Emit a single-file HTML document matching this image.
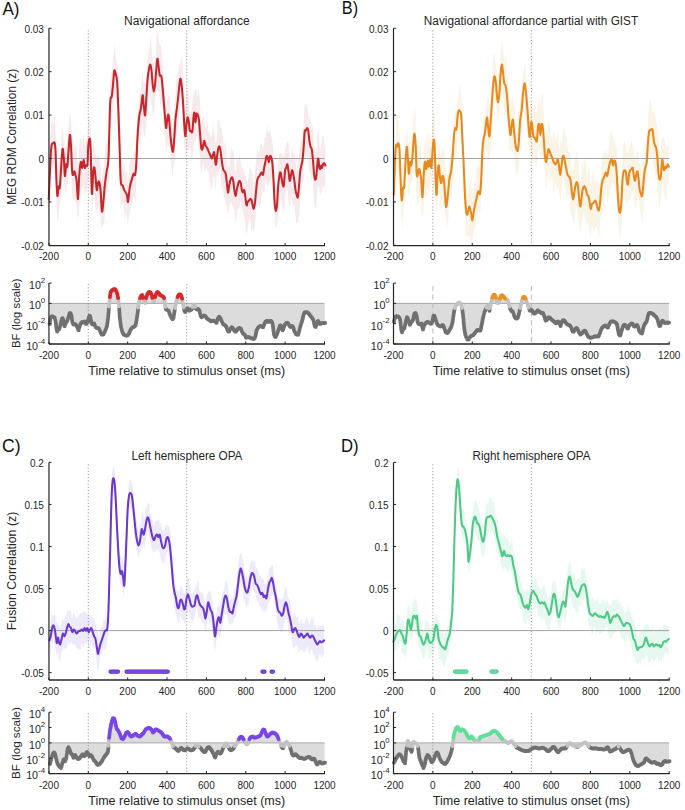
<!DOCTYPE html><html><head><meta charset="utf-8"><style>html,body{margin:0;padding:0;background:#fff;}svg{display:block;}</style></head><body><svg width="685" height="810" viewBox="0 0 685 810" font-family="Liberation Sans, sans-serif">
<rect width="685" height="810" fill="#ffffff"/>
<path d="M48.7,180.4 L49.9,142.9 L51.1,126.5 L52.3,117.0 L53.5,124.6 L54.7,113.5 L55.9,134.0 L57.1,167.3 L58.3,168.0 L59.5,156.2 L60.7,156.8 L61.9,125.8 L63.1,132.8 L64.3,148.3 L65.5,147.0 L66.7,144.6 L67.9,138.2 L69.1,122.3 L70.3,109.0 L71.5,129.6 L72.7,140.1 L73.9,154.3 L75.1,145.2 L76.3,147.2 L77.5,161.9 L78.7,164.0 L79.9,138.9 L81.1,138.0 L82.3,150.0 L83.5,130.8 L84.7,147.2 L85.9,137.5 L87.1,141.6 L88.3,121.4 L89.5,114.5 L90.7,125.6 L91.9,175.4 L93.1,141.4 L94.3,145.0 L95.5,152.3 L96.7,159.9 L97.9,152.7 L99.1,156.8 L100.3,162.5 L101.5,183.1 L102.7,174.0 L103.9,166.1 L105.1,151.8 L106.3,144.0 L107.5,139.0 L108.7,133.6 L109.9,86.0 L111.1,74.3 L112.3,68.7 L113.5,53.8 L114.7,44.6 L115.9,57.4 L117.1,61.8 L118.3,77.7 L119.5,114.3 L120.7,159.0 L121.9,155.9 L123.1,169.6 L124.3,161.2 L125.5,173.6 L126.7,172.0 L127.9,181.4 L129.1,173.2 L130.3,157.0 L131.5,158.4 L132.7,159.1 L133.9,150.2 L135.1,156.0 L136.3,138.2 L137.5,110.9 L138.7,104.9 L139.9,93.9 L141.1,87.3 L142.3,69.6 L143.5,82.8 L144.7,82.2 L145.9,83.6 L147.1,63.4 L148.3,51.7 L149.5,49.2 L150.7,34.0 L151.9,53.3 L153.1,65.1 L154.3,60.0 L155.5,57.8 L156.7,34.4 L157.9,31.8 L159.1,44.1 L160.3,44.7 L161.5,49.4 L162.7,65.9 L163.9,83.0 L165.1,93.6 L166.3,107.6 L167.5,96.8 L168.7,94.9 L169.9,97.0 L171.1,121.2 L172.3,116.3 L173.5,124.5 L174.7,103.8 L175.9,84.1 L177.1,75.2 L178.3,71.1 L179.5,63.4 L180.7,61.1 L181.9,56.9 L183.1,74.7 L184.3,93.9 L185.5,111.6 L186.7,92.2 L187.9,86.2 L189.1,105.5 L190.3,112.0 L191.5,113.0 L192.7,97.4 L193.9,93.0 L195.1,89.8 L196.3,89.5 L197.5,96.5 L198.7,87.7 L199.9,100.0 L201.1,124.8 L202.3,118.7 L203.5,115.9 L204.7,123.5 L205.9,128.5 L207.1,115.0 L208.3,131.9 L209.5,132.6 L210.7,137.4 L211.9,135.3 L213.1,122.8 L214.3,132.4 L215.5,143.8 L216.7,141.7 L217.9,118.3 L219.1,120.7 L220.3,128.3 L221.5,126.9 L222.7,134.1 L223.9,149.9 L225.1,139.9 L226.3,150.6 L227.5,167.0 L228.7,166.6 L229.9,164.3 L231.1,146.1 L232.3,150.6 L233.5,151.1 L234.7,169.9 L235.9,172.2 L237.1,157.2 L238.3,161.0 L239.5,154.6 L240.7,162.2 L241.9,169.3 L243.1,166.6 L244.3,172.4 L245.5,176.2 L246.7,180.1 L247.9,182.3 L249.1,170.7 L250.3,167.0 L251.5,171.1 L252.7,175.1 L253.9,189.0 L255.1,169.3 L256.3,157.7 L257.5,148.1 L258.7,154.8 L259.9,145.4 L261.1,142.8 L262.3,145.5 L263.5,147.9 L264.7,136.8 L265.9,138.1 L267.1,124.3 L268.3,134.0 L269.5,128.2 L270.7,133.5 L271.9,139.7 L273.1,146.7 L274.3,169.6 L275.5,186.2 L276.7,187.4 L277.9,160.7 L279.1,155.2 L280.3,152.7 L281.5,152.3 L282.7,157.0 L283.9,156.4 L285.1,150.2 L286.3,142.8 L287.5,141.7 L288.7,141.4 L289.9,158.5 L291.1,157.1 L292.3,145.8 L293.5,156.0 L294.7,152.3 L295.9,163.5 L297.1,172.7 L298.3,164.3 L299.5,149.5 L300.7,136.7 L301.9,143.2 L303.1,133.0 L304.3,108.3 L305.5,102.8 L306.7,106.1 L307.9,110.1 L309.1,120.7 L310.3,115.5 L311.5,127.3 L312.7,125.4 L313.9,142.2 L315.1,151.9 L316.3,151.9 L317.5,130.9 L318.7,132.1 L319.9,148.7 L321.1,146.6 L322.3,134.6 L323.5,137.2 L324.7,145.3 L325.3,144.5 L325.3,194.5 L324.7,186.0 L323.5,187.4 L322.3,185.8 L321.1,197.1 L319.9,190.5 L318.7,185.9 L317.5,186.6 L316.3,207.8 L315.1,207.6 L313.9,202.1 L312.7,177.0 L311.5,180.2 L310.3,172.5 L309.1,171.0 L307.9,158.4 L306.7,153.9 L305.5,159.2 L304.3,155.2 L303.1,179.6 L301.9,184.1 L300.7,195.2 L299.5,211.6 L298.3,219.6 L297.1,223.8 L295.9,222.2 L294.7,205.4 L293.5,204.8 L292.3,202.1 L291.1,193.0 L289.9,207.2 L288.7,204.6 L287.5,191.3 L286.3,188.0 L285.1,196.0 L283.9,213.1 L282.7,208.4 L281.5,202.8 L280.3,190.5 L279.1,205.4 L277.9,214.3 L276.7,227.6 L275.5,228.1 L274.3,213.8 L273.1,197.7 L271.9,178.2 L270.7,179.2 L269.5,183.0 L268.3,185.4 L267.1,186.6 L265.9,177.2 L264.7,192.9 L263.5,191.4 L262.3,193.4 L261.1,202.2 L259.9,206.7 L258.7,208.3 L257.5,197.2 L256.3,208.3 L255.1,222.7 L253.9,233.0 L252.7,227.4 L251.5,233.2 L250.3,218.9 L249.1,218.7 L247.9,226.7 L246.7,235.8 L245.5,227.6 L244.3,217.8 L243.1,210.5 L241.9,208.3 L240.7,200.4 L239.5,207.4 L238.3,209.1 L237.1,210.4 L235.9,224.8 L234.7,214.0 L233.5,206.4 L232.3,205.4 L231.1,203.0 L229.9,204.1 L228.7,209.5 L227.5,213.9 L226.3,206.2 L225.1,198.2 L223.9,197.2 L222.7,185.4 L221.5,191.0 L220.3,168.3 L219.1,171.4 L217.9,172.8 L216.7,176.5 L215.5,189.9 L214.3,178.1 L213.1,176.0 L211.9,190.8 L210.7,187.6 L209.5,182.3 L208.3,170.5 L207.1,171.6 L205.9,167.0 L204.7,173.5 L203.5,162.1 L202.3,166.2 L201.1,175.8 L199.9,156.1 L198.7,145.0 L197.5,136.1 L196.3,136.2 L195.1,142.4 L193.9,142.3 L192.7,157.3 L191.5,162.1 L190.3,148.3 L189.1,150.5 L187.9,149.7 L186.7,149.7 L185.5,155.7 L184.3,147.2 L183.1,130.4 L181.9,108.9 L180.7,99.1 L179.5,112.8 L178.3,128.6 L177.1,134.3 L175.9,138.6 L174.7,161.9 L173.5,167.3 L172.3,178.6 L171.1,163.6 L169.9,145.7 L168.7,148.1 L167.5,143.6 L166.3,153.9 L165.1,137.6 L163.9,131.1 L162.7,111.5 L161.5,102.8 L160.3,108.2 L159.1,90.0 L157.9,94.3 L156.7,83.1 L155.5,96.0 L154.3,112.6 L153.1,119.1 L151.9,106.0 L150.7,97.5 L149.5,88.9 L148.3,101.0 L147.1,112.9 L145.9,131.5 L144.7,137.2 L143.5,135.9 L142.3,123.1 L141.1,135.1 L139.9,141.8 L138.7,139.5 L137.5,167.7 L136.3,183.7 L135.1,206.2 L133.9,193.9 L132.7,199.7 L131.5,205.1 L130.3,209.6 L129.1,214.2 L127.9,226.4 L126.7,212.6 L125.5,219.4 L124.3,211.2 L123.1,204.1 L121.9,202.0 L120.7,210.5 L119.5,174.1 L118.3,138.3 L117.1,108.0 L115.9,95.5 L114.7,95.7 L113.5,106.4 L112.3,113.9 L111.1,124.1 L109.9,132.3 L108.7,182.4 L107.5,188.8 L106.3,199.3 L105.1,211.8 L103.9,225.7 L102.7,223.4 L101.5,230.2 L100.3,213.0 L99.1,214.2 L97.9,204.2 L96.7,214.8 L95.5,210.0 L94.3,188.0 L93.1,200.6 L91.9,221.4 L90.7,168.0 L89.5,163.1 L88.3,176.0 L87.1,188.6 L85.9,193.5 L84.7,192.7 L83.5,184.2 L82.3,188.4 L81.1,189.5 L79.9,200.6 L78.7,212.2 L77.5,220.0 L76.3,202.9 L75.1,202.1 L73.9,195.5 L72.7,203.8 L71.5,176.8 L70.3,165.3 L69.1,161.3 L67.9,183.0 L66.7,186.0 L65.5,195.9 L64.3,186.3 L63.1,177.0 L61.9,180.9 L60.7,199.8 L59.5,205.1 L58.3,220.8 L57.1,220.0 L55.9,180.2 L54.7,167.8 L53.5,160.6 L52.3,174.1 L51.1,175.6 L49.9,193.2 L48.7,230.1Z" fill="#f7eaec" stroke="none"/>
<line x1="48.95" y1="158.50" x2="324.50" y2="158.50" stroke="#9a9a9a" stroke-width="0.9"/>
<line x1="88.31" y1="30.30" x2="88.31" y2="245.60" stroke="#7a7a7a" stroke-width="0.8" stroke-dasharray="1.1 2.1"/>
<line x1="186.73" y1="30.30" x2="186.73" y2="245.60" stroke="#7a7a7a" stroke-width="0.8" stroke-dasharray="1.1 2.1"/>
<path d="M48.70,199.53 C48.98,193.27 49.88,170.99 50.35,161.99 C50.82,153.00 51.05,148.70 51.52,145.57 C51.99,142.44 52.65,143.70 53.16,143.23 C53.67,142.76 54.18,141.58 54.57,142.76 C54.96,143.93 55.19,143.93 55.51,150.26 C55.82,156.60 56.13,173.14 56.45,180.76 C56.76,188.39 57.03,195.03 57.38,196.01 C57.74,196.99 58.17,188.00 58.56,186.63 C58.95,185.26 59.34,190.34 59.73,187.80 C60.12,185.26 60.43,177.83 60.90,171.38 C61.37,164.93 62.04,151.05 62.55,149.09 C63.05,147.14 63.56,155.15 63.95,159.65 C64.34,164.14 64.50,175.29 64.89,176.07 C65.28,176.85 65.91,165.90 66.30,164.34 C66.69,162.78 66.89,168.64 67.24,166.69 C67.59,164.73 67.98,157.89 68.41,152.61 C68.84,147.33 69.39,136.19 69.82,135.01 C70.25,133.84 70.60,139.51 70.99,145.57 C71.38,151.63 71.77,166.49 72.16,171.38 C72.56,176.27 72.95,174.90 73.34,174.90 C73.73,174.90 74.12,171.18 74.51,171.38 C74.90,171.57 75.33,174.51 75.68,176.07 C76.04,177.63 76.23,176.93 76.62,180.76 C77.01,184.59 77.60,199.84 78.03,199.06 C78.46,198.28 78.73,182.25 79.20,176.07 C79.67,169.89 80.34,163.36 80.84,161.99 C81.35,160.63 81.78,168.25 82.25,167.86 C82.72,167.47 83.23,159.65 83.66,159.65 C84.09,159.65 84.44,166.88 84.83,167.86 C85.22,168.84 85.58,166.10 86.01,165.51 C86.44,164.93 87.02,167.66 87.41,164.34 C87.80,161.02 87.96,149.87 88.35,145.57 C88.74,141.27 89.37,137.75 89.76,138.53 C90.15,139.32 90.35,141.08 90.70,150.26 C91.05,159.45 91.44,190.15 91.87,193.67 C92.30,197.18 92.85,175.68 93.28,171.38 C93.71,167.08 94.06,166.69 94.45,167.86 C94.84,169.03 95.23,174.70 95.62,178.42 C96.02,182.13 96.41,189.36 96.80,190.15 C97.19,190.93 97.58,184.48 97.97,183.11 C98.36,181.74 98.71,180.76 99.14,181.94 C99.57,183.11 100.08,185.26 100.55,190.15 C101.02,195.03 101.49,209.31 101.96,211.26 C102.43,213.22 102.90,206.18 103.37,201.88 C103.84,197.58 104.23,190.54 104.77,185.45 C105.32,180.37 106.03,176.07 106.65,171.38 C107.28,166.69 107.94,168.64 108.53,157.30 C109.11,145.96 109.62,113.51 110.17,103.34 C110.72,93.18 111.30,99.82 111.81,96.30 C112.32,92.79 112.79,86.53 113.22,82.23 C113.65,77.93 113.92,71.67 114.39,70.50 C114.86,69.33 115.57,73.24 116.04,75.19 C116.50,77.15 116.82,76.36 117.21,82.23 C117.60,88.09 117.99,99.82 118.38,110.38 C118.77,120.94 119.16,133.84 119.55,145.57 C119.95,157.30 120.22,174.12 120.73,180.76 C121.24,187.41 122.02,183.89 122.60,185.45 C123.19,187.02 123.53,188.58 124.25,190.15 C124.96,191.71 126.24,192.88 126.88,194.84 C127.51,196.79 127.58,203.05 128.05,201.88 C128.52,200.70 129.03,191.71 129.69,187.80 C130.36,183.89 131.37,180.76 132.04,178.42 C132.70,176.07 133.17,174.31 133.68,173.72 C134.19,173.14 134.66,176.46 135.09,174.90 C135.52,173.33 135.87,170.40 136.26,164.34 C136.65,158.28 136.96,146.35 137.43,138.53 C137.90,130.71 138.49,122.50 139.08,117.42 C139.66,112.34 140.37,111.75 140.95,108.04 C141.54,104.32 142.13,95.52 142.60,95.13 C143.06,94.74 143.34,102.37 143.77,105.69 C144.20,109.01 144.71,117.03 145.18,115.07 C145.65,113.12 146.15,100.22 146.58,93.96 C147.01,87.70 147.33,81.84 147.76,77.54 C148.19,73.24 148.73,70.30 149.16,68.15 C149.59,66.00 149.95,64.24 150.34,64.63 C150.73,65.02 151.12,67.17 151.51,70.50 C151.90,73.82 152.29,81.06 152.68,84.57 C153.07,88.09 153.47,91.61 153.86,91.61 C154.25,91.61 154.64,88.09 155.03,84.57 C155.42,81.06 155.81,74.80 156.20,70.50 C156.59,66.20 156.98,59.55 157.38,58.77 C157.77,57.99 158.16,63.07 158.55,65.81 C158.94,68.54 159.25,73.43 159.72,75.19 C160.19,76.95 160.89,74.41 161.36,76.36 C161.83,78.32 162.15,82.82 162.54,86.92 C162.93,91.03 163.32,96.30 163.71,101.00 C164.10,105.69 164.49,110.58 164.88,115.07 C165.27,119.57 165.66,127.19 166.06,127.98 C166.45,128.76 166.84,121.99 167.23,119.77 C167.62,117.54 168.01,113.82 168.40,114.60 C168.79,115.39 169.18,120.47 169.57,124.46 C169.97,128.45 170.36,134.62 170.75,138.53 C171.14,142.44 171.53,145.77 171.92,147.92 C172.31,150.07 172.70,153.00 173.09,151.44 C173.48,149.87 173.88,143.81 174.27,138.53 C174.66,133.26 175.05,124.46 175.44,119.77 C175.83,115.07 176.18,113.90 176.61,110.38 C177.04,106.86 177.55,102.95 178.02,98.65 C178.49,94.35 179.00,87.90 179.43,84.57 C179.86,81.25 180.21,78.32 180.60,78.71 C180.99,79.10 181.38,83.21 181.77,86.92 C182.17,90.64 182.56,95.13 182.95,101.00 C183.34,106.86 183.73,116.25 184.12,122.11 C184.51,127.98 184.90,135.80 185.29,136.19 C185.68,136.58 186.08,127.59 186.47,124.46 C186.86,121.33 187.25,117.81 187.64,117.42 C188.03,117.03 188.46,119.96 188.81,122.11 C189.16,124.26 189.40,128.84 189.75,130.32 C190.10,131.81 190.49,130.83 190.92,131.03 C191.35,131.22 191.90,133.76 192.33,131.50 C192.76,129.23 193.15,120.55 193.50,117.42 C193.86,114.29 194.13,111.95 194.44,112.73 C194.76,113.51 195.03,121.92 195.38,122.11 C195.73,122.31 196.16,115.07 196.55,113.90 C196.95,112.73 197.34,114.10 197.73,115.07 C198.12,116.05 198.51,116.64 198.90,119.77 C199.29,122.89 199.68,129.15 200.07,133.84 C200.46,138.53 200.86,145.38 201.25,147.92 C201.64,150.46 202.03,149.87 202.42,149.09 C202.81,148.31 203.27,144.59 203.59,143.23 C203.91,141.86 204.02,140.49 204.35,140.88 C204.67,141.27 205.05,144.40 205.52,145.57 C205.99,146.74 206.65,146.94 207.16,147.92 C207.67,148.90 208.06,150.26 208.57,151.44 C209.08,152.61 209.66,153.78 210.21,154.96 C210.76,156.13 211.35,158.67 211.85,158.48 C212.36,158.28 212.87,154.76 213.26,153.78 C213.65,152.81 213.85,151.24 214.20,152.61 C214.55,153.98 215.06,160.04 215.37,161.99 C215.69,163.95 215.76,165.51 216.08,164.34 C216.39,163.17 216.86,157.69 217.25,154.96 C217.64,152.22 218.03,149.29 218.42,147.92 C218.81,146.55 219.20,145.96 219.60,146.74 C219.99,147.53 220.38,150.07 220.77,152.61 C221.16,155.15 221.55,159.26 221.94,161.99 C222.33,164.73 222.68,167.47 223.11,169.03 C223.54,170.60 224.09,170.60 224.52,171.38 C224.95,172.16 225.30,171.77 225.70,173.72 C226.09,175.68 226.48,179.98 226.87,183.11 C227.26,186.24 227.65,192.10 228.04,192.49 C228.43,192.88 228.78,187.61 229.21,185.45 C229.64,183.30 230.15,180.96 230.62,179.59 C231.09,178.22 231.60,177.05 232.03,177.24 C232.46,177.44 232.81,178.61 233.20,180.76 C233.59,182.91 233.98,187.61 234.38,190.15 C234.77,192.69 235.16,196.01 235.55,196.01 C235.94,196.01 236.25,192.30 236.72,190.15 C237.19,188.00 237.89,184.67 238.36,183.11 C238.83,181.54 239.15,180.76 239.54,180.76 C239.93,180.76 240.32,181.54 240.71,183.11 C241.10,184.67 241.49,188.58 241.88,190.15 C242.27,191.71 242.66,192.49 243.06,192.49 C243.45,192.49 243.84,189.36 244.23,190.15 C244.62,190.93 245.01,194.64 245.40,197.18 C245.79,199.73 246.18,204.61 246.57,205.40 C246.97,206.18 247.36,202.66 247.75,201.88 C248.14,201.09 248.53,201.17 248.92,200.70 C249.31,200.23 249.70,199.26 250.09,199.06 C250.48,198.87 250.88,198.67 251.27,199.53 C251.66,200.39 252.05,202.66 252.44,204.22 C252.83,205.79 253.22,208.91 253.61,208.91 C254.00,208.91 254.39,206.96 254.79,204.22 C255.18,201.49 255.57,196.40 255.96,192.49 C256.35,188.58 256.74,183.30 257.13,180.76 C257.52,178.22 257.91,178.03 258.30,177.24 C258.70,176.46 259.09,176.66 259.48,176.07 C259.87,175.48 260.26,174.31 260.65,173.72 C261.04,173.14 261.43,172.36 261.82,172.55 C262.22,172.75 262.61,175.68 263.00,174.90 C263.39,174.12 263.78,170.01 264.17,167.86 C264.56,165.71 264.95,163.95 265.34,161.99 C265.73,160.04 266.13,156.91 266.52,156.13 C266.91,155.35 267.30,156.32 267.69,157.30 C268.08,158.28 268.47,162.19 268.86,161.99 C269.25,161.80 269.64,156.91 270.04,156.13 C270.43,155.35 270.82,156.13 271.21,157.30 C271.60,158.48 271.99,159.26 272.38,163.17 C272.77,167.08 273.16,173.92 273.55,180.76 C273.95,187.61 274.34,199.14 274.73,204.22 C275.12,209.31 275.51,211.26 275.90,211.26 C276.29,211.26 276.68,208.52 277.07,204.22 C277.46,199.92 277.86,190.15 278.25,185.45 C278.64,180.76 279.03,178.22 279.42,176.07 C279.81,173.92 280.05,171.18 280.59,172.55 C281.13,173.92 282.11,182.13 282.65,184.28 C283.18,186.43 283.43,187.61 283.82,185.45 C284.21,183.30 284.60,174.31 284.99,171.38 C285.38,168.45 285.77,169.03 286.16,167.86 C286.56,166.69 286.95,163.75 287.34,164.34 C287.73,164.93 288.12,168.64 288.51,171.38 C288.90,174.12 289.29,179.98 289.68,180.76 C290.07,181.54 290.47,177.83 290.86,176.07 C291.25,174.31 291.64,170.60 292.03,170.21 C292.42,169.81 292.81,171.96 293.20,173.72 C293.59,175.48 293.98,178.03 294.38,180.76 C294.77,183.50 295.16,187.80 295.55,190.15 C295.94,192.49 296.33,193.67 296.72,194.84 C297.11,196.01 297.50,198.75 297.89,197.18 C298.29,195.62 298.68,189.76 299.07,185.45 C299.46,181.15 299.85,174.70 300.24,171.38 C300.63,168.05 301.02,167.47 301.41,165.51 C301.80,163.56 302.20,162.97 302.59,159.65 C302.98,156.32 303.41,150.26 303.76,145.57 C304.11,140.88 304.35,134.04 304.70,131.50 C305.05,128.95 305.48,130.91 305.87,130.32 C306.26,129.74 306.65,127.98 307.04,127.98 C307.43,127.98 307.83,128.17 308.22,130.32 C308.61,132.47 309.00,138.14 309.39,140.88 C309.78,143.62 310.17,145.38 310.56,146.74 C310.95,148.11 311.35,146.94 311.74,149.09 C312.13,151.24 312.52,155.54 312.91,159.65 C313.30,163.75 313.73,170.40 314.08,173.72 C314.43,177.05 314.67,179.00 315.02,179.59 C315.37,180.18 315.80,179.78 316.19,177.24 C316.58,174.70 317.01,167.47 317.37,164.34 C317.72,161.21 317.99,158.08 318.30,158.48 C318.62,158.87 318.93,164.93 319.24,166.69 C319.56,168.45 319.87,169.23 320.18,169.03 C320.49,168.84 320.81,165.71 321.12,165.51 C321.43,165.32 321.75,168.05 322.06,167.86 C322.37,167.66 322.65,165.12 323.00,164.34 C323.35,163.56 323.78,162.97 324.17,163.17 C324.56,163.36 325.15,165.12 325.34,165.51" fill="none" stroke="#c8262c" stroke-width="2.05" stroke-linejoin="round" stroke-linecap="round"/>
<path d="M393.9,162.5 L395.1,142.3 L396.3,115.5 L397.5,118.1 L398.7,118.6 L399.9,134.1 L401.1,166.4 L402.3,168.6 L403.5,155.2 L404.7,153.4 L405.9,140.5 L407.1,125.6 L408.3,141.4 L409.5,142.5 L410.7,143.1 L411.9,138.8 L413.1,122.8 L414.3,107.9 L415.5,112.1 L416.7,145.0 L417.9,145.3 L419.1,146.7 L420.3,141.0 L421.5,153.8 L422.7,169.6 L423.9,148.8 L425.1,138.1 L426.3,146.2 L427.5,130.5 L428.7,139.8 L429.9,131.8 L431.1,145.3 L432.3,126.7 L433.5,110.7 L434.7,116.2 L435.9,152.1 L437.1,159.7 L438.3,141.3 L439.5,149.6 L440.7,155.6 L441.9,152.5 L443.1,147.2 L444.3,153.5 L445.5,170.9 L446.7,176.3 L447.9,173.8 L449.1,163.7 L450.3,144.3 L451.5,147.4 L452.7,131.4 L453.9,120.5 L455.1,109.6 L456.3,110.6 L457.5,100.2 L458.7,93.8 L459.9,81.4 L461.1,94.7 L462.3,113.3 L463.5,127.6 L464.7,171.4 L465.9,181.7 L467.1,196.0 L468.3,193.6 L469.5,177.5 L470.7,180.2 L471.9,187.0 L473.1,191.7 L474.3,181.5 L475.5,184.6 L476.7,166.8 L477.9,166.0 L479.1,166.4 L480.3,158.9 L481.5,146.5 L482.7,130.5 L483.9,118.2 L485.1,113.9 L486.3,104.0 L487.5,95.8 L488.7,99.5 L489.9,110.6 L491.1,94.2 L492.3,69.9 L493.5,54.9 L494.7,53.8 L495.9,66.0 L497.1,73.3 L498.3,72.7 L499.5,72.9 L500.7,53.1 L501.9,39.5 L503.1,50.9 L504.3,63.0 L505.5,53.0 L506.7,69.4 L507.9,81.3 L509.1,99.1 L510.3,112.9 L511.5,97.2 L512.7,95.5 L513.9,102.4 L515.1,108.5 L516.3,130.9 L517.5,131.3 L518.7,111.6 L519.9,107.8 L521.1,90.4 L522.3,82.3 L523.5,72.4 L524.7,61.7 L525.9,73.8 L527.1,85.2 L528.3,98.8 L529.5,105.7 L530.7,109.8 L531.9,106.4 L533.1,106.3 L534.3,109.0 L535.5,111.7 L536.7,112.1 L537.9,106.0 L539.1,94.9 L540.3,108.7 L541.5,92.9 L542.7,94.8 L543.9,118.9 L545.1,132.5 L546.3,138.0 L547.5,123.0 L548.7,119.2 L549.9,129.7 L551.1,136.0 L552.3,139.9 L553.5,130.0 L554.7,136.1 L555.9,142.0 L557.1,133.6 L558.3,137.9 L559.5,150.7 L560.7,139.7 L561.9,144.5 L563.1,128.4 L564.3,127.4 L565.5,136.4 L566.7,137.7 L567.9,148.7 L569.1,152.6 L570.3,153.3 L571.5,168.1 L572.7,172.0 L573.9,166.8 L575.1,159.7 L576.3,150.7 L577.5,155.4 L578.7,164.6 L579.9,183.5 L581.1,177.8 L582.3,159.6 L583.5,170.1 L584.7,158.2 L585.9,162.2 L587.1,177.0 L588.3,167.2 L589.5,169.9 L590.7,189.9 L591.9,175.1 L593.1,174.2 L594.3,181.8 L595.5,181.6 L596.7,180.5 L597.9,182.9 L599.1,189.0 L600.3,182.0 L601.5,162.0 L602.7,152.8 L603.9,153.0 L605.1,152.0 L606.3,148.3 L607.5,156.3 L608.7,148.8 L609.9,133.7 L611.1,132.6 L612.3,130.9 L613.5,144.1 L614.7,136.9 L615.9,148.8 L617.1,148.3 L618.3,174.6 L619.5,186.6 L620.7,186.3 L621.9,166.9 L623.1,143.9 L624.3,141.2 L625.5,144.0 L626.7,152.2 L627.9,153.5 L629.1,147.4 L630.3,144.9 L631.5,139.3 L632.7,145.9 L633.9,151.8 L635.1,159.1 L636.3,155.9 L637.5,148.9 L638.7,157.6 L639.9,166.3 L641.1,170.0 L642.3,162.8 L643.5,158.8 L644.7,139.4 L645.9,146.9 L647.1,136.9 L648.3,116.8 L649.5,101.4 L650.7,100.0 L651.9,106.2 L653.1,111.9 L654.3,111.0 L655.5,118.5 L656.7,123.3 L657.9,134.2 L659.1,147.6 L660.3,156.1 L661.5,140.3 L662.7,138.1 L663.9,136.7 L665.1,142.9 L666.3,147.7 L667.5,145.8 L668.7,143.8 L668.8,135.0 L668.8,197.8 L668.7,189.2 L667.5,182.3 L666.3,200.0 L665.1,198.8 L663.9,191.7 L662.7,181.2 L661.5,190.9 L660.3,204.7 L659.1,209.3 L657.9,197.1 L656.7,181.2 L655.5,178.8 L654.3,167.8 L653.1,165.4 L651.9,159.8 L650.7,157.1 L649.5,151.9 L648.3,162.5 L647.1,184.8 L645.9,186.3 L644.7,193.5 L643.5,210.1 L642.3,225.9 L641.1,215.7 L639.9,210.3 L638.7,197.9 L637.5,194.8 L636.3,204.8 L635.1,212.8 L633.9,196.9 L632.7,188.6 L631.5,196.1 L630.3,201.0 L629.1,197.8 L627.9,202.4 L626.7,202.9 L625.5,201.1 L624.3,193.2 L623.1,193.7 L621.9,217.2 L620.7,235.6 L619.5,241.6 L618.3,223.3 L617.1,203.6 L615.9,191.9 L614.7,183.0 L613.5,186.9 L612.3,180.9 L611.1,190.0 L609.9,186.7 L608.7,197.5 L607.5,203.6 L606.3,190.8 L605.1,195.7 L603.9,205.5 L602.7,209.4 L601.5,217.2 L600.3,217.2 L599.1,241.7 L597.9,233.5 L596.7,225.5 L595.5,227.6 L594.3,231.7 L593.1,229.4 L591.9,224.6 L590.7,238.5 L589.5,232.5 L588.3,222.6 L587.1,226.3 L585.9,219.7 L584.7,217.8 L583.5,211.8 L582.3,219.4 L581.1,228.9 L579.9,231.0 L578.7,224.4 L577.5,211.9 L576.3,205.4 L575.1,212.5 L573.9,227.2 L572.7,220.2 L571.5,213.1 L570.3,210.9 L569.1,194.2 L567.9,194.2 L566.7,200.2 L565.5,188.1 L564.3,183.0 L563.1,177.9 L561.9,188.3 L560.7,201.0 L559.5,195.1 L558.3,187.3 L557.1,189.2 L555.9,184.4 L554.7,182.5 L553.5,194.2 L552.3,176.4 L551.1,179.0 L549.9,185.4 L548.7,167.8 L547.5,181.0 L546.3,189.7 L545.1,178.5 L543.9,161.3 L542.7,157.1 L541.5,155.0 L540.3,158.7 L539.1,146.0 L537.9,153.0 L536.7,165.7 L535.5,168.7 L534.3,154.5 L533.1,165.9 L531.9,155.3 L530.7,147.7 L529.5,158.1 L528.3,146.4 L527.1,131.4 L525.9,121.1 L524.7,116.6 L523.5,112.1 L522.3,129.1 L521.1,138.7 L519.9,149.2 L518.7,169.8 L517.5,171.8 L516.3,176.2 L515.1,164.2 L513.9,150.8 L512.7,152.5 L511.5,149.9 L510.3,151.3 L509.1,148.2 L507.9,125.5 L506.7,118.6 L505.5,114.1 L504.3,114.9 L503.1,100.1 L501.9,89.3 L500.7,94.3 L499.5,111.4 L498.3,122.2 L497.1,115.6 L495.9,100.6 L494.7,102.9 L493.5,104.4 L492.3,126.7 L491.1,141.7 L489.9,155.4 L488.7,164.3 L487.5,153.7 L486.3,149.7 L485.1,151.0 L483.9,155.4 L482.7,173.8 L481.5,197.0 L480.3,212.4 L479.1,210.9 L477.9,215.6 L476.7,216.9 L475.5,227.4 L474.3,231.1 L473.1,236.9 L471.9,246.1 L470.7,240.7 L469.5,235.6 L468.3,235.3 L467.1,237.2 L465.9,237.4 L464.7,211.4 L463.5,179.9 L462.3,154.1 L461.1,142.7 L459.9,130.9 L458.7,132.2 L457.5,146.3 L456.3,161.2 L455.1,157.1 L453.9,160.8 L452.7,183.6 L451.5,198.9 L450.3,195.9 L449.1,207.8 L447.9,225.4 L446.7,225.1 L445.5,217.8 L444.3,205.1 L443.1,206.0 L441.9,197.7 L440.7,212.7 L439.5,192.0 L438.3,195.1 L437.1,210.1 L435.9,212.7 L434.7,169.7 L433.5,163.5 L432.3,174.6 L431.1,188.1 L429.9,185.2 L428.7,197.6 L427.5,186.3 L426.3,200.0 L425.1,193.5 L423.9,205.4 L422.7,219.5 L421.5,211.3 L420.3,193.0 L419.1,202.0 L417.9,204.2 L416.7,205.3 L415.5,173.1 L414.3,155.6 L413.1,181.0 L411.9,180.2 L410.7,181.2 L409.5,193.8 L408.3,195.8 L407.1,172.1 L405.9,175.5 L404.7,198.8 L403.5,213.1 L402.3,230.1 L401.1,213.6 L399.9,180.0 L398.7,172.0 L397.5,167.7 L396.3,174.6 L395.1,178.5 L393.9,227.0Z" fill="#faf4e6" stroke="none"/>
<line x1="393.50" y1="158.50" x2="669.20" y2="158.50" stroke="#9a9a9a" stroke-width="0.9"/>
<line x1="432.89" y1="30.30" x2="432.89" y2="245.60" stroke="#7a7a7a" stroke-width="0.8" stroke-dasharray="1.1 2.1"/>
<line x1="531.35" y1="30.30" x2="531.35" y2="245.60" stroke="#7a7a7a" stroke-width="0.8" stroke-dasharray="1.1 2.1"/>
<path d="M393.88,194.84 C394.03,189.76 394.46,172.55 394.82,164.34 C395.17,156.13 395.60,148.50 395.99,145.57 C396.38,142.64 396.77,147.14 397.16,146.74 C397.55,146.35 397.94,142.64 398.33,143.23 C398.73,143.81 399.16,144.79 399.51,150.26 C399.86,155.74 400.13,168.25 400.45,176.07 C400.76,183.89 401.11,193.27 401.38,197.18 C401.66,201.09 401.81,201.09 402.09,199.53 C402.36,197.97 402.67,189.95 403.03,187.80 C403.38,185.65 403.81,190.54 404.20,186.63 C404.59,182.72 404.94,170.99 405.37,164.34 C405.80,157.69 406.35,147.53 406.78,146.74 C407.21,145.96 407.60,155.15 407.95,159.65 C408.30,164.14 408.54,173.33 408.89,173.72 C409.24,174.12 409.67,163.36 410.06,161.99 C410.46,160.63 410.85,166.30 411.24,165.51 C411.63,164.73 412.02,161.41 412.41,157.30 C412.80,153.20 413.23,144.79 413.58,140.88 C413.94,136.97 414.17,133.06 414.52,133.84 C414.87,134.62 415.34,138.92 415.70,145.57 C416.05,152.22 416.28,168.84 416.63,173.72 C416.99,178.61 417.42,175.68 417.81,174.90 C418.20,174.12 418.59,169.42 418.98,169.03 C419.37,168.64 419.76,170.60 420.15,172.55 C420.54,174.51 420.93,176.66 421.33,180.76 C421.72,184.87 422.11,197.97 422.50,197.18 C422.89,196.40 423.28,181.94 423.67,176.07 C424.06,170.21 424.41,163.17 424.84,161.99 C425.27,160.82 425.78,169.23 426.25,169.03 C426.72,168.84 427.23,161.21 427.66,160.82 C428.09,160.43 428.44,166.88 428.83,166.69 C429.22,166.49 429.58,159.45 430.01,159.65 C430.44,159.84 430.98,169.42 431.41,167.86 C431.84,166.30 432.20,154.96 432.59,150.26 C432.98,145.57 433.41,140.10 433.76,139.71 C434.11,139.32 434.39,141.08 434.70,147.92 C435.01,154.76 435.32,172.94 435.64,180.76 C435.95,188.58 436.22,196.40 436.57,194.84 C436.93,193.27 437.36,176.27 437.75,171.38 C438.14,166.49 438.53,164.34 438.92,165.51 C439.31,166.69 439.70,175.48 440.09,178.42 C440.48,181.35 440.88,183.50 441.27,183.11 C441.66,182.72 442.05,176.85 442.44,176.07 C442.83,175.29 443.22,176.07 443.61,178.42 C444.00,180.76 444.39,185.45 444.79,190.15 C445.18,194.84 445.57,204.61 445.96,206.57 C446.35,208.52 446.74,204.61 447.13,201.88 C447.52,199.14 447.91,194.06 448.30,190.15 C448.70,186.24 449.01,181.54 449.48,178.42 C449.95,175.29 450.61,174.90 451.12,171.38 C451.63,167.86 452.02,163.56 452.53,157.30 C453.04,151.05 453.70,138.73 454.17,133.84 C454.64,128.95 454.95,128.76 455.34,127.98 C455.73,127.19 456.13,131.30 456.52,129.15 C456.91,127.00 457.30,118.20 457.69,115.07 C458.08,111.95 458.47,110.97 458.86,110.38 C459.25,109.79 459.64,110.77 460.04,111.55 C460.43,112.34 460.82,110.58 461.21,115.07 C461.60,119.57 461.99,130.71 462.38,138.53 C462.77,146.35 463.16,153.39 463.55,161.99 C463.95,170.60 464.34,182.33 464.73,190.15 C465.12,197.97 465.51,204.81 465.90,208.91 C466.29,213.02 466.68,214.39 467.07,214.78 C467.46,215.17 467.86,212.63 468.25,211.26 C468.64,209.89 468.93,206.18 469.42,206.57 C469.91,206.96 470.69,211.26 471.17,213.61 C471.66,215.95 471.96,220.65 472.35,220.65 C472.74,220.65 473.13,215.95 473.52,213.61 C473.91,211.26 474.22,208.91 474.69,206.57 C475.16,204.22 475.83,201.88 476.33,199.53 C476.84,197.18 477.31,193.86 477.74,192.49 C478.17,191.12 478.52,191.12 478.91,191.32 C479.31,191.52 479.70,195.82 480.09,193.67 C480.48,191.52 480.87,185.65 481.26,178.42 C481.65,171.18 482.04,156.91 482.43,150.26 C482.83,143.62 483.22,141.27 483.61,138.53 C484.00,135.80 484.39,136.19 484.78,133.84 C485.17,131.50 485.56,127.19 485.95,124.46 C486.34,121.72 486.74,116.64 487.13,117.42 C487.52,118.20 487.91,126.02 488.30,129.15 C488.69,132.28 489.08,137.36 489.47,136.19 C489.86,135.01 490.25,127.59 490.65,122.11 C491.04,116.64 491.43,109.21 491.82,103.34 C492.21,97.48 492.56,91.42 492.99,86.92 C493.42,82.42 493.93,77.15 494.40,76.36 C494.87,75.58 495.38,78.91 495.81,82.23 C496.24,85.55 496.59,92.98 496.98,96.30 C497.37,99.63 497.76,102.56 498.15,102.17 C498.54,101.78 498.93,98.46 499.33,93.96 C499.72,89.46 500.07,80.08 500.50,75.19 C500.93,70.30 501.48,65.02 501.91,64.63 C502.34,64.24 502.69,69.72 503.08,72.84 C503.47,75.97 503.82,81.25 504.25,83.40 C504.68,85.55 505.19,83.60 505.66,85.75 C506.13,87.90 506.64,91.81 507.07,96.30 C507.50,100.80 507.85,107.64 508.24,112.73 C508.63,117.81 509.02,123.09 509.41,126.80 C509.80,130.52 510.20,135.41 510.59,135.01 C510.98,134.62 511.37,127.00 511.76,124.46 C512.15,121.92 512.54,118.59 512.93,119.77 C513.32,120.94 513.71,127.59 514.11,131.50 C514.50,135.41 514.89,140.29 515.28,143.23 C515.67,146.16 516.02,147.92 516.45,149.09 C516.88,150.26 517.43,152.02 517.86,150.26 C518.29,148.50 518.64,143.62 519.03,138.53 C519.42,133.45 519.78,124.46 520.21,119.77 C520.64,115.07 521.14,114.68 521.61,110.38 C522.08,106.08 522.55,98.46 523.02,93.96 C523.49,89.46 524.00,84.18 524.43,83.40 C524.86,82.62 525.21,86.33 525.60,89.27 C525.99,92.20 526.38,96.30 526.77,101.00 C527.17,105.69 527.56,111.95 527.95,117.42 C528.34,122.89 528.77,130.71 529.12,133.84 C529.47,136.97 529.71,138.14 530.06,136.19 C530.41,134.23 530.84,123.68 531.23,122.11 C531.62,120.55 532.05,124.46 532.40,126.80 C532.76,129.15 532.99,134.43 533.34,136.19 C533.70,137.95 534.13,136.77 534.52,137.36 C534.91,137.95 535.30,139.12 535.69,139.71 C536.08,140.29 536.47,143.03 536.86,140.88 C537.25,138.73 537.64,129.54 538.04,126.80 C538.43,124.07 538.82,123.09 539.21,124.46 C539.60,125.83 539.99,135.01 540.38,135.01 C540.77,135.01 541.16,125.83 541.55,124.46 C541.95,123.09 542.34,124.07 542.73,126.80 C543.12,129.54 543.51,135.80 543.90,140.88 C544.29,145.96 544.68,153.78 545.07,157.30 C545.46,160.82 545.86,162.39 546.25,161.99 C546.64,161.60 547.03,157.11 547.42,154.96 C547.81,152.81 548.02,149.09 548.59,149.09 C549.17,149.09 550.29,153.59 550.87,154.96 C551.44,156.32 551.65,156.32 552.04,157.30 C552.43,158.28 552.82,159.84 553.21,160.82 C553.60,161.80 553.99,162.58 554.38,163.17 C554.78,163.75 555.17,164.54 555.56,164.34 C555.95,164.14 556.34,162.78 556.73,161.99 C557.12,161.21 557.51,158.87 557.90,159.65 C558.29,160.43 558.69,164.14 559.08,166.69 C559.47,169.23 559.86,174.90 560.25,174.90 C560.64,174.90 561.03,169.62 561.42,166.69 C561.81,163.75 562.20,159.06 562.60,157.30 C562.99,155.54 563.38,155.35 563.77,156.13 C564.16,156.91 564.55,160.04 564.94,161.99 C565.33,163.95 565.72,165.90 566.11,167.86 C566.51,169.81 566.90,172.36 567.29,173.72 C567.68,175.09 568.07,175.48 568.46,176.07 C568.85,176.66 569.24,176.27 569.63,177.24 C570.02,178.22 570.42,179.39 570.81,181.94 C571.20,184.48 571.59,189.56 571.98,192.49 C572.37,195.43 572.76,199.53 573.15,199.53 C573.54,199.53 573.93,194.84 574.33,192.49 C574.72,190.15 575.11,187.21 575.50,185.45 C575.89,183.70 576.28,181.94 576.67,181.94 C577.06,181.94 577.45,182.91 577.84,185.45 C578.24,188.00 578.63,193.67 579.02,197.18 C579.41,200.70 579.80,206.18 580.19,206.57 C580.58,206.96 580.97,202.27 581.36,199.53 C581.75,196.79 582.15,192.30 582.54,190.15 C582.93,188.00 583.32,187.21 583.71,186.63 C584.10,186.04 584.49,186.04 584.88,186.63 C585.27,187.21 585.66,188.78 586.06,190.15 C586.45,191.52 586.84,193.86 587.23,194.84 C587.62,195.82 588.01,194.84 588.40,196.01 C588.79,197.18 589.18,199.73 589.57,201.88 C589.97,204.03 590.36,208.52 590.75,208.91 C591.14,209.31 591.53,205.20 591.92,204.22 C592.31,203.25 592.70,203.44 593.09,203.05 C593.48,202.66 593.88,202.27 594.27,201.88 C594.66,201.49 595.05,200.31 595.44,200.70 C595.83,201.09 596.22,202.85 596.61,204.22 C597.00,205.59 597.39,207.94 597.79,208.91 C598.18,209.89 598.57,211.26 598.96,210.09 C599.35,208.91 599.74,205.59 600.13,201.88 C600.52,198.16 600.91,191.32 601.30,187.80 C601.70,184.28 602.09,182.33 602.48,180.76 C602.87,179.20 603.26,179.39 603.65,178.42 C604.04,177.44 604.43,175.87 604.82,174.90 C605.22,173.92 605.61,172.36 606.00,172.55 C606.39,172.75 606.78,176.46 607.17,176.07 C607.56,175.68 607.95,172.16 608.34,170.21 C608.73,168.25 609.13,165.90 609.52,164.34 C609.91,162.78 610.30,161.60 610.69,160.82 C611.08,160.04 611.47,158.87 611.86,159.65 C612.25,160.43 612.64,165.32 613.04,165.51 C613.43,165.71 613.82,161.41 614.21,160.82 C614.60,160.23 614.99,160.23 615.38,161.99 C615.77,163.75 616.16,166.30 616.55,171.38 C616.95,176.46 617.34,186.24 617.73,192.49 C618.12,198.75 618.51,205.59 618.90,208.91 C619.29,212.24 619.68,213.22 620.07,212.43 C620.46,211.65 620.86,209.50 621.25,204.22 C621.64,198.94 622.03,186.24 622.42,180.76 C622.81,175.29 623.05,172.94 623.59,171.38 C624.13,169.81 625.11,169.81 625.65,171.38 C626.18,172.94 626.43,178.61 626.82,180.76 C627.21,182.91 627.60,185.45 627.99,184.28 C628.38,183.11 628.77,176.07 629.16,173.72 C629.56,171.38 629.95,170.99 630.34,170.21 C630.73,169.42 631.12,169.42 631.51,169.03 C631.90,168.64 632.29,166.69 632.68,167.86 C633.07,169.03 633.47,173.92 633.86,176.07 C634.25,178.22 634.64,180.96 635.03,180.76 C635.42,180.57 635.81,176.46 636.20,174.90 C636.59,173.33 636.98,170.79 637.38,171.38 C637.77,171.96 638.16,175.29 638.55,178.42 C638.94,181.54 639.33,187.61 639.72,190.15 C640.11,192.69 640.50,192.69 640.89,193.67 C641.29,194.64 641.68,197.38 642.07,196.01 C642.46,194.64 642.85,189.36 643.24,185.45 C643.63,181.54 644.02,175.68 644.41,172.55 C644.80,169.42 645.20,168.45 645.59,166.69 C645.98,164.93 646.37,165.90 646.76,161.99 C647.15,158.08 647.54,148.31 647.93,143.23 C648.32,138.14 648.71,133.65 649.11,131.50 C649.50,129.35 649.89,130.71 650.28,130.32 C650.67,129.93 651.06,129.15 651.45,129.15 C651.84,129.15 652.23,128.37 652.62,130.32 C653.02,132.28 653.41,138.34 653.80,140.88 C654.19,143.42 654.58,144.40 654.97,145.57 C655.36,146.74 655.75,145.96 656.14,147.92 C656.53,149.87 656.93,153.00 657.32,157.30 C657.71,161.60 658.10,170.01 658.49,173.72 C658.88,177.44 659.27,179.20 659.66,179.59 C660.05,179.98 660.48,178.61 660.84,176.07 C661.19,173.53 661.50,167.08 661.77,164.34 C662.05,161.60 662.20,159.06 662.48,159.65 C662.75,160.23 663.10,166.10 663.42,167.86 C663.73,169.62 664.04,170.40 664.35,170.21 C664.67,170.01 664.94,167.08 665.29,166.69 C665.65,166.30 666.08,168.25 666.47,167.86 C666.86,167.47 667.25,164.54 667.64,164.34 C668.03,164.14 668.62,166.30 668.81,166.69" fill="none" stroke="#e8891e" stroke-width="2.05" stroke-linejoin="round" stroke-linecap="round"/>
<path d="M49.4,627.4 L50.6,622.8 L51.8,614.0 L53.0,615.3 L54.2,614.5 L55.4,614.6 L56.6,623.4 L57.8,622.9 L59.0,625.8 L60.2,629.1 L61.4,623.4 L62.6,617.9 L63.8,621.8 L65.0,617.0 L66.2,614.7 L67.4,610.3 L68.6,610.3 L69.8,612.3 L71.0,610.0 L72.2,619.4 L73.4,611.6 L74.6,614.3 L75.8,617.1 L77.0,619.3 L78.2,616.2 L79.4,614.4 L80.6,613.0 L81.8,613.3 L83.0,612.7 L84.2,610.8 L85.4,612.9 L86.6,612.0 L87.8,616.2 L89.0,613.8 L90.2,617.7 L91.4,613.9 L92.6,618.3 L93.8,617.3 L95.0,622.1 L96.2,626.4 L97.4,632.5 L98.6,636.4 L99.8,633.3 L101.0,626.8 L102.2,626.4 L103.4,619.5 L104.6,620.7 L105.8,616.8 L107.0,611.4 L108.2,603.1 L109.4,563.3 L110.6,519.0 L111.8,476.9 L113.0,466.0 L114.2,468.4 L115.4,475.2 L116.6,502.0 L117.8,527.0 L119.0,549.3 L120.2,555.2 L121.4,556.5 L122.6,557.9 L123.8,564.0 L125.0,561.5 L126.2,529.4 L127.4,504.3 L128.6,484.6 L129.8,480.2 L131.0,480.0 L132.2,484.9 L133.4,491.1 L134.6,504.8 L135.8,518.8 L137.0,522.4 L138.2,531.7 L139.4,526.4 L140.6,523.3 L141.8,512.6 L143.0,514.8 L144.2,518.7 L145.4,509.1 L146.6,508.1 L147.8,502.7 L149.0,502.7 L150.2,513.6 L151.4,514.7 L152.6,519.7 L153.8,527.4 L155.0,520.6 L156.2,521.6 L157.4,520.9 L158.6,518.5 L159.8,523.8 L161.0,522.8 L162.2,531.2 L163.4,529.3 L164.6,529.6 L165.8,526.0 L167.0,524.9 L168.2,525.4 L169.4,526.9 L170.6,534.7 L171.8,548.3 L173.0,562.6 L174.2,571.9 L175.4,584.7 L176.6,589.4 L177.8,590.6 L179.0,592.2 L180.2,585.0 L181.4,586.7 L182.6,588.3 L183.8,593.9 L185.0,592.8 L186.2,588.8 L187.4,577.5 L188.6,578.6 L189.8,584.2 L191.0,593.0 L192.2,593.3 L193.4,592.0 L194.6,588.0 L195.8,587.3 L197.0,584.0 L198.2,579.8 L199.4,591.1 L200.6,592.0 L201.8,592.9 L203.0,592.5 L204.2,599.2 L205.4,606.3 L206.6,596.3 L207.8,593.4 L209.0,590.8 L210.2,591.2 L211.4,594.1 L212.6,601.2 L213.8,609.7 L215.0,621.7 L216.2,614.1 L217.4,606.3 L218.6,606.6 L219.8,606.0 L221.0,600.5 L222.2,593.6 L223.4,591.5 L224.6,586.0 L225.8,579.3 L227.0,581.8 L228.2,589.0 L229.4,598.6 L230.6,600.8 L231.8,595.2 L233.0,599.4 L234.2,587.4 L235.4,589.4 L236.6,583.8 L237.8,570.0 L239.0,558.2 L240.2,553.2 L241.4,553.4 L242.6,558.4 L243.8,564.5 L245.0,576.6 L246.2,576.0 L247.4,579.3 L248.6,575.4 L249.8,564.8 L251.0,562.2 L252.2,559.8 L253.4,562.8 L254.6,559.4 L255.8,566.6 L257.0,568.2 L258.2,570.8 L259.4,575.7 L260.6,575.1 L261.8,581.7 L263.0,576.3 L264.2,582.0 L265.4,583.6 L266.6,585.0 L267.8,576.9 L269.0,567.8 L270.2,568.0 L271.4,564.7 L272.6,565.1 L273.8,573.9 L275.0,578.3 L276.2,586.6 L277.4,593.1 L278.6,598.6 L279.8,597.7 L281.0,599.5 L282.2,597.7 L283.4,597.4 L284.6,588.5 L285.8,585.9 L287.0,590.9 L288.2,598.2 L289.4,599.9 L290.6,603.8 L291.8,615.2 L293.0,619.1 L294.2,611.5 L295.4,615.1 L296.6,617.0 L297.8,617.1 L299.0,624.4 L300.2,621.8 L301.4,618.5 L302.6,624.7 L303.8,622.9 L305.0,623.5 L306.2,616.3 L307.4,618.4 L308.6,622.3 L309.8,625.2 L311.0,618.4 L312.2,617.4 L313.4,619.8 L314.6,626.0 L315.8,625.6 L317.0,631.1 L318.2,624.6 L319.4,626.5 L320.6,626.8 L321.8,625.2 L323.0,625.8 L324.1,624.2 L324.1,656.4 L323.0,653.8 L321.8,658.4 L320.6,655.6 L319.4,653.7 L318.2,659.7 L317.0,661.2 L315.8,659.2 L314.6,655.8 L313.4,654.0 L312.2,649.9 L311.0,648.5 L309.8,655.2 L308.6,651.8 L307.4,645.7 L306.2,649.1 L305.0,651.9 L303.8,652.3 L302.6,649.4 L301.4,650.5 L300.2,649.0 L299.0,653.8 L297.8,645.6 L296.6,644.9 L295.4,646.1 L294.2,647.6 L293.0,648.3 L291.8,640.7 L290.6,634.6 L289.4,634.9 L288.2,627.8 L287.0,618.4 L285.8,621.4 L284.6,620.6 L283.4,629.1 L282.2,630.7 L281.0,631.9 L279.8,628.3 L278.6,629.7 L277.4,623.8 L276.2,612.8 L275.0,607.2 L273.8,597.8 L272.6,593.9 L271.4,596.8 L270.2,598.0 L269.0,603.0 L267.8,603.3 L266.6,613.3 L265.4,609.3 L264.2,613.3 L263.0,609.8 L261.8,610.5 L260.6,605.5 L259.4,606.8 L258.2,602.3 L257.0,601.8 L255.8,595.8 L254.6,592.5 L253.4,589.5 L252.2,588.0 L251.0,590.3 L249.8,596.0 L248.6,604.3 L247.4,604.7 L246.2,609.2 L245.0,601.7 L243.8,600.0 L242.6,587.0 L241.4,585.6 L240.2,581.9 L239.0,592.5 L237.8,604.1 L236.6,613.6 L235.4,618.3 L234.2,617.8 L233.0,622.9 L231.8,623.8 L230.6,624.0 L229.4,626.1 L228.2,621.4 L227.0,615.5 L225.8,613.7 L224.6,615.5 L223.4,619.3 L222.2,629.1 L221.0,633.0 L219.8,638.4 L218.6,632.5 L217.4,638.2 L216.2,641.8 L215.0,652.6 L213.8,641.3 L212.6,629.7 L211.4,627.5 L210.2,622.5 L209.0,620.7 L207.8,617.5 L206.6,627.0 L205.4,633.7 L204.2,625.4 L203.0,622.1 L201.8,622.9 L200.6,619.0 L199.4,617.8 L198.2,616.4 L197.0,607.6 L195.8,610.7 L194.6,616.2 L193.4,621.2 L192.2,621.7 L191.0,617.6 L189.8,618.1 L188.6,607.2 L187.4,613.4 L186.2,618.5 L185.0,625.6 L183.8,620.3 L182.6,620.4 L181.4,617.6 L180.2,614.6 L179.0,625.0 L177.8,622.1 L176.6,615.1 L175.4,612.8 L174.2,605.7 L173.0,599.1 L171.8,583.1 L170.6,563.5 L169.4,555.9 L168.2,549.8 L167.0,551.9 L165.8,557.5 L164.6,564.3 L163.4,560.5 L162.2,564.3 L161.0,559.7 L159.8,553.3 L158.6,549.1 L157.4,549.6 L156.2,549.8 L155.0,551.2 L153.8,552.8 L152.6,550.9 L151.4,548.3 L150.2,539.3 L149.0,537.8 L147.8,530.4 L146.6,532.9 L145.4,541.8 L144.2,548.6 L143.0,545.0 L141.8,544.8 L140.6,550.5 L139.4,554.8 L138.2,558.7 L137.0,552.8 L135.8,545.1 L134.6,537.2 L133.4,519.5 L132.2,512.3 L131.0,509.7 L129.8,507.7 L128.6,513.9 L127.4,532.0 L126.2,564.5 L125.0,584.1 L123.8,597.6 L122.6,588.1 L121.4,587.3 L120.2,582.8 L119.0,576.4 L117.8,557.0 L116.6,528.5 L115.4,509.2 L114.2,494.8 L113.0,497.2 L111.8,510.5 L110.6,550.5 L109.4,595.3 L108.2,633.0 L107.0,643.6 L105.8,649.0 L104.6,649.9 L103.4,647.6 L102.2,653.2 L101.0,653.8 L99.8,658.4 L98.6,670.4 L97.4,669.4 L96.2,656.8 L95.0,649.3 L93.8,646.6 L92.6,648.8 L91.4,640.4 L90.2,646.8 L89.0,650.6 L87.8,640.9 L86.6,645.3 L85.4,642.3 L84.2,644.6 L83.0,649.3 L81.8,641.9 L80.6,649.8 L79.4,649.3 L78.2,650.1 L77.0,648.8 L75.8,646.2 L74.6,643.7 L73.4,644.8 L72.2,644.2 L71.0,639.8 L69.8,645.3 L68.6,641.9 L67.4,645.4 L66.2,649.5 L65.0,649.7 L63.8,646.5 L62.6,650.7 L61.4,651.3 L60.2,661.2 L59.0,659.9 L57.8,651.2 L56.6,655.9 L55.4,648.3 L54.2,640.5 L53.0,644.1 L51.8,641.5 L50.6,652.6 L49.4,655.7Z" fill="#edeafa" stroke="none"/>
<line x1="48.95" y1="630.60" x2="324.50" y2="630.60" stroke="#9a9a9a" stroke-width="0.9"/>
<line x1="88.31" y1="464.40" x2="88.31" y2="680.00" stroke="#7a7a7a" stroke-width="0.8" stroke-dasharray="1.1 2.1"/>
<line x1="186.73" y1="464.40" x2="186.73" y2="680.00" stroke="#7a7a7a" stroke-width="0.8" stroke-dasharray="1.1 2.1"/>
<path d="M49.36,640.34 C49.58,639.66 50.26,638.31 50.71,636.27 C51.16,634.24 51.62,629.94 52.07,628.14 C52.52,626.33 52.97,625.20 53.42,625.42 C53.88,625.65 54.33,627.23 54.78,629.49 C55.23,631.75 55.77,636.72 56.14,638.98 C56.50,641.24 56.63,643.28 56.95,643.05 C57.27,642.82 57.72,637.85 58.03,637.63 C58.35,637.40 58.49,640.56 58.85,641.69 C59.21,642.82 59.75,644.86 60.20,644.41 C60.66,643.95 61.11,640.79 61.56,638.98 C62.01,637.18 62.46,634.01 62.92,633.56 C63.37,633.11 63.82,636.27 64.27,636.27 C64.72,636.27 65.18,634.92 65.63,633.56 C66.08,632.20 66.53,629.72 66.98,628.14 C67.44,626.55 67.89,624.29 68.34,624.07 C68.79,623.84 69.24,626.10 69.69,626.78 C70.15,627.46 70.60,627.23 71.05,628.14 C71.50,629.04 71.95,631.98 72.41,632.20 C72.86,632.43 73.31,629.72 73.76,629.49 C74.21,629.27 74.67,630.17 75.12,630.85 C75.57,631.53 76.02,633.33 76.47,633.56 C76.93,633.79 77.38,632.66 77.83,632.20 C78.28,631.75 78.73,631.07 79.19,630.85 C79.64,630.62 80.09,631.07 80.54,630.85 C80.99,630.62 81.45,629.49 81.90,629.49 C82.35,629.49 82.80,631.07 83.25,630.85 C83.71,630.62 84.16,628.14 84.61,628.14 C85.06,628.14 85.51,630.85 85.97,630.85 C86.42,630.85 86.87,627.91 87.32,628.14 C87.77,628.36 88.23,631.98 88.68,632.20 C89.13,632.43 89.58,630.17 90.03,629.49 C90.49,628.81 90.94,627.68 91.39,628.14 C91.84,628.59 92.29,630.85 92.75,632.20 C93.20,633.56 93.65,635.14 94.10,636.27 C94.55,637.40 95.01,637.18 95.46,638.98 C95.91,640.79 96.41,644.63 96.81,647.12 C97.22,649.60 97.54,653.45 97.90,653.90 C98.26,654.35 98.58,651.41 98.98,649.83 C99.39,648.25 99.89,645.99 100.34,644.41 C100.79,642.82 101.24,641.69 101.69,640.34 C102.15,638.98 102.60,637.63 103.05,636.27 C103.50,634.92 103.95,633.20 104.41,632.20 C104.86,631.21 105.31,630.76 105.76,630.31 C106.21,629.85 106.71,631.66 107.12,629.49 C107.53,627.32 107.84,625.20 108.20,617.29 C108.56,609.38 108.93,594.69 109.29,582.03 C109.65,569.38 110.01,554.92 110.37,541.36 C110.73,527.80 111.10,510.62 111.46,500.68 C111.82,490.73 112.18,485.40 112.54,481.69 C112.90,477.99 113.27,477.99 113.63,478.44 C113.99,478.89 114.35,480.70 114.71,484.41 C115.07,488.11 115.39,492.99 115.80,500.68 C116.20,508.36 116.70,521.47 117.15,530.51 C117.60,539.55 118.10,548.59 118.51,554.92 C118.92,561.24 119.23,565.31 119.59,568.47 C119.95,571.64 120.27,573.45 120.68,573.90 C121.08,574.35 121.58,570.28 122.03,571.19 C122.49,572.09 122.98,577.29 123.39,579.32 C123.80,581.36 123.98,589.72 124.47,583.39 C124.97,577.06 125.82,553.79 126.36,541.36 C126.90,528.93 127.26,516.50 127.71,508.81 C128.16,501.13 128.62,497.88 129.07,495.25 C129.52,492.63 129.97,493.08 130.42,493.08 C130.88,493.08 131.33,493.08 131.78,495.25 C132.23,497.42 132.68,502.03 133.14,506.10 C133.59,510.17 134.04,515.14 134.49,519.66 C134.94,524.18 135.40,529.60 135.85,533.22 C136.30,536.84 136.75,539.32 137.20,541.36 C137.66,543.39 138.11,545.42 138.56,545.42 C139.01,545.42 139.46,543.62 139.92,541.36 C140.37,539.10 140.91,533.90 141.27,531.86 C141.63,529.83 141.72,528.70 142.08,529.15 C142.45,529.60 142.99,534.35 143.44,534.58 C143.89,534.80 144.34,532.54 144.80,530.51 C145.25,528.47 145.70,524.54 146.15,522.37 C146.60,520.20 147.06,517.94 147.51,517.49 C147.96,517.04 148.41,518.17 148.86,519.66 C149.32,521.15 149.77,524.18 150.22,526.44 C150.67,528.70 151.12,531.19 151.58,533.22 C152.03,535.25 152.48,537.51 152.93,538.64 C153.38,539.77 153.84,540.45 154.29,540.00 C154.74,539.55 155.19,536.84 155.64,535.93 C156.10,535.03 156.55,534.35 157.00,534.58 C157.45,534.80 157.90,537.29 158.36,537.29 C158.81,537.29 159.26,533.90 159.71,534.58 C160.16,535.25 160.62,539.32 161.07,541.36 C161.52,543.39 161.97,545.65 162.42,546.78 C162.88,547.91 163.33,548.36 163.78,548.14 C164.23,547.91 164.68,547.01 165.14,545.42 C165.59,543.84 166.04,540.00 166.49,538.64 C166.94,537.29 167.40,536.84 167.85,537.29 C168.30,537.74 168.75,538.87 169.20,541.36 C169.66,543.84 170.11,547.68 170.56,552.20 C171.01,556.72 171.46,563.05 171.92,568.47 C172.37,573.90 172.82,580.68 173.27,584.75 C173.72,588.81 174.18,590.62 174.63,592.88 C175.08,595.14 175.53,596.05 175.98,598.31 C176.44,600.56 176.89,604.86 177.34,606.44 C177.79,608.02 178.24,608.70 178.69,607.80 C179.15,606.89 179.60,602.37 180.05,601.02 C180.50,599.66 180.95,599.21 181.41,599.66 C181.86,600.11 182.31,602.15 182.76,603.73 C183.21,605.31 183.71,608.47 184.12,609.15 C184.53,609.83 184.80,609.60 185.20,607.80 C185.61,605.99 186.11,600.56 186.56,598.31 C187.01,596.05 187.46,594.24 187.92,594.24 C188.37,594.24 188.82,596.72 189.27,598.31 C189.72,599.89 190.18,602.37 190.63,603.73 C191.08,605.08 191.53,605.99 191.98,606.44 C192.44,606.89 192.89,606.67 193.34,606.44 C193.79,606.21 194.24,606.67 194.69,605.08 C195.15,603.50 195.60,598.53 196.05,596.95 C196.50,595.37 196.95,594.92 197.41,595.59 C197.86,596.27 198.31,599.44 198.76,601.02 C199.21,602.60 199.67,604.18 200.12,605.08 C200.57,605.99 201.02,605.99 201.47,606.44 C201.93,606.89 202.38,606.89 202.83,607.80 C203.28,608.70 203.75,610.06 204.19,611.86 C204.62,613.67 204.99,618.64 205.42,618.64 C205.86,618.64 206.33,614.58 206.78,611.86 C207.23,609.15 207.68,603.28 208.14,602.37 C208.59,601.47 209.04,605.08 209.49,606.44 C209.94,607.80 210.40,609.38 210.85,610.51 C211.30,611.64 211.75,611.19 212.20,613.22 C212.66,615.25 213.11,618.87 213.56,622.71 C214.01,626.55 214.46,635.37 214.92,636.27 C215.37,637.18 215.82,630.85 216.27,628.14 C216.72,625.42 217.18,621.81 217.63,620.00 C218.08,618.19 218.53,616.84 218.98,617.29 C219.44,617.74 219.89,623.16 220.34,622.71 C220.79,622.26 221.24,617.29 221.69,614.58 C222.15,611.86 222.60,609.15 223.05,606.44 C223.50,603.73 223.95,600.11 224.41,598.31 C224.86,596.50 225.31,595.37 225.76,595.59 C226.21,595.82 226.67,597.63 227.12,599.66 C227.57,601.69 228.02,605.76 228.47,607.80 C228.93,609.83 229.38,611.19 229.83,611.86 C230.28,612.54 230.73,611.64 231.19,611.86 C231.64,612.09 232.09,614.12 232.54,613.22 C232.99,612.32 233.45,608.47 233.90,606.44 C234.35,604.41 234.80,602.82 235.25,601.02 C235.71,599.21 236.16,598.31 236.61,595.59 C237.06,592.88 237.51,588.36 237.97,584.75 C238.42,581.13 238.87,576.61 239.32,573.90 C239.77,571.19 240.23,568.70 240.68,568.47 C241.13,568.25 241.58,570.73 242.03,572.54 C242.49,574.35 242.94,576.84 243.39,579.32 C243.84,581.81 244.29,585.42 244.75,587.46 C245.20,589.49 245.65,590.71 246.10,591.53 C246.55,592.34 247.01,593.02 247.46,592.34 C247.91,591.66 248.36,589.63 248.81,587.46 C249.27,585.29 249.72,581.58 250.17,579.32 C250.62,577.06 251.07,574.89 251.53,573.90 C251.98,572.90 252.43,572.90 252.88,573.36 C253.33,573.81 253.79,574.94 254.24,576.61 C254.69,578.28 255.14,582.03 255.59,583.39 C256.05,584.75 256.50,584.07 256.95,584.75 C257.40,585.42 257.85,586.33 258.31,587.46 C258.76,588.59 259.21,590.40 259.66,591.53 C260.11,592.66 260.56,594.01 261.02,594.24 C261.47,594.46 261.92,592.43 262.37,592.88 C262.82,593.33 263.28,596.50 263.73,596.95 C264.18,597.40 264.63,595.37 265.08,595.59 C265.54,595.82 265.99,599.21 266.44,598.31 C266.89,597.40 267.34,592.66 267.80,590.17 C268.25,587.68 268.70,584.97 269.15,583.39 C269.60,581.81 270.06,581.58 270.51,580.68 C270.96,579.77 271.41,577.51 271.86,577.97 C272.32,578.42 272.77,581.13 273.22,583.39 C273.67,585.65 274.14,589.27 274.58,591.53 C275.01,593.79 275.32,594.01 275.85,596.95 C276.38,599.89 277.20,606.67 277.75,609.15 C278.29,611.64 278.65,611.19 279.10,611.86 C279.55,612.54 280.01,612.54 280.46,613.22 C280.91,613.90 281.36,615.93 281.81,615.93 C282.27,615.93 282.72,614.80 283.17,613.22 C283.62,611.64 284.07,608.25 284.53,606.44 C284.98,604.63 285.43,602.37 285.88,602.37 C286.33,602.37 286.79,604.63 287.24,606.44 C287.69,608.25 288.14,611.19 288.59,613.22 C289.05,615.25 289.50,616.61 289.95,618.64 C290.40,620.68 290.85,623.16 291.31,625.42 C291.76,627.68 292.21,631.53 292.66,632.20 C293.11,632.88 293.56,630.17 294.02,629.49 C294.47,628.81 294.92,627.91 295.37,628.14 C295.82,628.36 296.28,629.72 296.73,630.85 C297.18,631.98 297.63,633.92 298.08,634.92 C298.54,635.91 298.99,637.04 299.44,636.81 C299.89,636.59 300.34,633.88 300.80,633.56 C301.25,633.24 301.70,634.24 302.15,634.92 C302.60,635.59 303.06,637.40 303.51,637.63 C303.96,637.85 304.41,636.72 304.86,636.27 C305.32,635.82 305.77,635.37 306.22,634.92 C306.67,634.46 307.12,633.33 307.58,633.56 C308.03,633.79 308.48,635.59 308.93,636.27 C309.38,636.95 309.84,637.72 310.29,637.63 C310.74,637.54 311.19,635.95 311.64,635.73 C312.10,635.50 312.55,635.73 313.00,636.27 C313.45,636.81 313.90,638.08 314.36,638.98 C314.81,639.89 315.26,640.79 315.71,641.69 C316.16,642.60 316.62,644.18 317.07,644.41 C317.52,644.63 317.97,643.59 318.42,643.05 C318.88,642.51 319.33,641.29 319.78,641.15 C320.23,641.02 320.68,642.15 321.14,642.24 C321.59,642.33 321.99,642.01 322.49,641.69 C322.99,641.38 323.85,640.56 324.12,640.34" fill="none" stroke="#6a38cc" stroke-width="2.05" stroke-linejoin="round" stroke-linecap="round"/>
<path d="M393.4,628.8 L394.6,625.1 L395.8,624.3 L397.0,614.8 L398.2,614.3 L399.4,615.3 L400.6,618.9 L401.8,621.4 L403.0,619.1 L404.2,624.1 L405.4,629.4 L406.6,617.2 L407.8,603.3 L409.0,604.9 L410.2,611.3 L411.4,612.5 L412.6,601.6 L413.8,601.0 L415.0,598.6 L416.2,599.9 L417.4,605.6 L418.6,615.2 L419.8,623.3 L421.0,620.2 L422.2,629.9 L423.4,631.0 L424.6,628.2 L425.8,620.4 L427.0,620.5 L428.2,621.8 L429.4,627.6 L430.6,629.3 L431.8,623.8 L433.0,628.6 L434.2,617.2 L435.4,614.9 L436.6,613.7 L437.8,619.9 L439.0,621.8 L440.2,626.5 L441.4,634.6 L442.6,628.2 L443.8,633.5 L445.0,633.1 L446.2,632.7 L447.4,626.7 L448.6,623.4 L449.8,619.6 L451.0,612.8 L452.2,595.1 L453.4,566.2 L454.6,517.0 L455.8,487.6 L457.0,472.1 L458.2,465.7 L459.4,480.1 L460.6,497.7 L461.8,511.0 L463.0,508.9 L464.2,509.2 L465.4,518.9 L466.6,526.9 L467.8,535.8 L469.0,542.4 L470.2,539.5 L471.4,528.4 L472.6,514.1 L473.8,507.7 L475.0,499.0 L476.2,501.0 L477.4,504.7 L478.6,507.2 L479.8,512.8 L481.0,521.1 L482.2,521.6 L483.4,527.5 L484.6,518.0 L485.8,507.3 L487.0,502.1 L488.2,503.8 L489.4,497.9 L490.6,497.0 L491.8,500.7 L493.0,501.3 L494.2,503.1 L495.4,514.7 L496.6,516.5 L497.8,521.5 L499.0,530.5 L500.2,529.7 L501.4,534.7 L502.6,538.7 L503.8,533.4 L505.0,536.0 L506.2,539.4 L507.4,537.4 L508.6,540.7 L509.8,544.8 L511.0,540.1 L512.2,540.4 L513.4,553.4 L514.6,553.3 L515.8,566.2 L517.0,566.8 L518.2,574.9 L519.4,576.1 L520.6,582.5 L521.8,580.5 L523.0,592.0 L524.2,588.2 L525.4,593.1 L526.6,588.7 L527.8,589.5 L529.0,593.1 L530.2,586.4 L531.4,582.2 L532.6,579.1 L533.8,576.6 L535.0,578.6 L536.2,578.6 L537.4,584.8 L538.6,586.3 L539.8,588.1 L541.0,590.3 L542.2,588.8 L543.4,584.7 L544.6,586.0 L545.8,592.4 L547.0,593.8 L548.2,598.3 L549.4,596.7 L550.6,596.5 L551.8,586.7 L553.0,580.4 L554.2,582.9 L555.4,581.1 L556.6,588.5 L557.8,598.5 L559.0,600.1 L560.2,598.0 L561.4,595.0 L562.6,589.0 L563.8,591.2 L565.0,586.7 L566.2,582.5 L567.4,570.4 L568.6,564.3 L569.8,562.1 L571.0,564.6 L572.2,575.6 L573.4,573.5 L574.6,575.3 L575.8,580.0 L577.0,581.5 L578.2,577.5 L579.4,579.4 L580.6,575.7 L581.8,567.0 L583.0,570.6 L584.2,566.7 L585.4,572.4 L586.6,580.3 L587.8,584.8 L589.0,595.4 L590.2,597.6 L591.4,603.3 L592.6,596.9 L593.8,598.8 L595.0,601.7 L596.2,601.4 L597.4,597.3 L598.6,604.1 L599.8,603.0 L601.0,604.0 L602.2,600.8 L603.4,598.1 L604.6,602.6 L605.8,603.4 L607.0,599.2 L608.2,602.7 L609.4,605.8 L610.6,605.2 L611.8,603.1 L613.0,599.1 L614.2,600.5 L615.4,599.9 L616.6,600.0 L617.8,597.7 L619.0,605.2 L620.2,601.1 L621.4,607.4 L622.6,606.0 L623.8,611.6 L625.0,613.4 L626.2,612.1 L627.4,610.8 L628.6,605.8 L629.8,611.9 L631.0,612.7 L632.2,619.9 L633.4,619.4 L634.6,621.7 L635.8,630.0 L637.0,630.4 L638.2,637.0 L639.4,629.2 L640.6,630.9 L641.8,631.2 L643.0,629.7 L644.2,625.5 L645.4,625.5 L646.6,623.4 L647.8,624.8 L649.0,627.2 L650.2,629.7 L651.4,628.5 L652.6,625.2 L653.8,634.8 L655.0,630.2 L656.2,628.8 L657.4,632.6 L658.6,628.1 L659.8,629.2 L661.0,627.9 L662.2,630.2 L663.4,624.4 L664.6,625.3 L665.8,624.7 L667.0,625.9 L668.2,625.7 L668.7,622.0 L668.7,656.5 L668.2,657.7 L667.0,652.9 L665.8,652.9 L664.6,652.4 L663.4,658.2 L662.2,656.2 L661.0,664.4 L659.8,657.7 L658.6,663.6 L657.4,656.8 L656.2,657.6 L655.0,660.6 L653.8,663.2 L652.6,657.9 L651.4,659.5 L650.2,662.5 L649.0,663.4 L647.8,660.6 L646.6,653.1 L645.4,657.1 L644.2,659.7 L643.0,658.8 L641.8,658.3 L640.6,665.3 L639.4,660.9 L638.2,664.8 L637.0,663.8 L635.8,661.8 L634.6,658.6 L633.4,655.0 L632.2,650.0 L631.0,644.3 L629.8,640.2 L628.6,641.1 L627.4,635.2 L626.2,641.9 L625.0,642.6 L623.8,640.0 L622.6,637.6 L621.4,638.0 L620.2,632.2 L619.0,629.1 L617.8,630.3 L616.6,627.3 L615.4,632.1 L614.2,632.5 L613.0,633.9 L611.8,638.0 L610.6,638.6 L609.4,637.2 L608.2,633.2 L607.0,624.7 L605.8,626.5 L604.6,630.0 L603.4,629.9 L602.2,632.6 L601.0,633.6 L599.8,635.0 L598.6,629.2 L597.4,632.6 L596.2,632.6 L595.0,626.5 L593.8,628.1 L592.6,634.2 L591.4,633.6 L590.2,625.9 L589.0,627.9 L587.8,617.3 L586.6,608.0 L585.4,597.8 L584.2,597.5 L583.0,599.0 L581.8,604.1 L580.6,605.3 L579.4,605.7 L578.2,612.4 L577.0,611.6 L575.8,611.8 L574.6,608.9 L573.4,606.9 L572.2,603.7 L571.0,600.4 L569.8,596.2 L568.6,595.0 L567.4,601.3 L566.2,617.4 L565.0,622.9 L563.8,613.5 L562.6,616.1 L561.4,623.7 L560.2,630.7 L559.0,627.8 L557.8,627.9 L556.6,620.7 L555.4,611.0 L554.2,606.7 L553.0,608.7 L551.8,617.8 L550.6,623.2 L549.4,629.9 L548.2,629.7 L547.0,626.8 L545.8,624.2 L544.6,618.3 L543.4,619.6 L542.2,619.8 L541.0,621.1 L539.8,614.6 L538.6,617.9 L537.4,613.7 L536.2,606.4 L535.0,612.2 L533.8,605.3 L532.6,603.7 L531.4,612.6 L530.2,618.1 L529.0,624.2 L527.8,620.1 L526.6,617.4 L525.4,625.4 L524.2,621.4 L523.0,619.8 L521.8,611.0 L520.6,610.3 L519.4,606.9 L518.2,604.3 L517.0,596.1 L515.8,594.9 L514.6,585.6 L513.4,579.5 L512.2,574.2 L511.0,570.8 L509.8,567.3 L508.6,570.7 L507.4,572.7 L506.2,569.5 L505.0,566.6 L503.8,566.8 L502.6,573.5 L501.4,564.6 L500.2,559.2 L499.0,554.3 L497.8,556.9 L496.6,548.1 L495.4,538.5 L494.2,538.2 L493.0,531.5 L491.8,528.4 L490.6,534.5 L489.4,528.2 L488.2,535.3 L487.0,534.8 L485.8,540.0 L484.6,551.5 L483.4,557.4 L482.2,558.2 L481.0,551.8 L479.8,539.5 L478.6,541.5 L477.4,539.2 L476.2,534.1 L475.0,532.9 L473.8,531.3 L472.6,544.9 L471.4,554.0 L470.2,563.7 L469.0,575.0 L467.8,566.9 L466.6,552.6 L465.4,546.1 L464.2,542.9 L463.0,540.3 L461.8,538.2 L460.6,529.6 L459.4,506.4 L458.2,494.3 L457.0,495.8 L455.8,511.8 L454.6,550.3 L453.4,591.3 L452.2,626.2 L451.0,636.5 L449.8,644.3 L448.6,656.1 L447.4,653.4 L446.2,658.6 L445.0,666.6 L443.8,666.3 L442.6,664.2 L441.4,659.1 L440.2,662.0 L439.0,658.6 L437.8,647.8 L436.6,640.8 L435.4,641.4 L434.2,650.3 L433.0,652.9 L431.8,653.9 L430.6,658.3 L429.4,658.5 L428.2,651.1 L427.0,647.4 L425.8,652.0 L424.6,656.8 L423.4,659.5 L422.2,657.3 L421.0,649.1 L419.8,649.0 L418.6,645.4 L417.4,635.0 L416.2,635.7 L415.0,632.4 L413.8,629.8 L412.6,638.1 L411.4,639.0 L410.2,638.8 L409.0,637.1 L407.8,633.0 L406.6,651.9 L405.4,658.9 L404.2,654.1 L403.0,654.2 L401.8,652.5 L400.6,643.2 L399.4,643.8 L398.2,644.2 L397.0,650.5 L395.8,650.1 L394.6,651.5 L393.4,653.5Z" fill="#e6f8ef" stroke="none"/>
<line x1="393.50" y1="630.60" x2="669.20" y2="630.60" stroke="#9a9a9a" stroke-width="0.9"/>
<line x1="432.89" y1="464.40" x2="432.89" y2="680.00" stroke="#7a7a7a" stroke-width="0.8" stroke-dasharray="1.1 2.1"/>
<line x1="531.35" y1="464.40" x2="531.35" y2="680.00" stroke="#7a7a7a" stroke-width="0.8" stroke-dasharray="1.1 2.1"/>
<path d="M393.36,641.69 C393.58,641.24 394.26,640.11 394.71,638.98 C395.16,637.85 395.62,636.05 396.07,634.92 C396.52,633.79 396.97,632.88 397.42,632.20 C397.88,631.53 398.33,631.16 398.78,630.85 C399.23,630.53 399.68,629.85 400.14,630.31 C400.59,630.76 401.04,632.56 401.49,633.56 C401.94,634.55 402.40,634.92 402.85,636.27 C403.30,637.63 403.75,640.56 404.20,641.69 C404.66,642.82 405.11,644.86 405.56,643.05 C406.01,641.24 406.55,634.46 406.92,630.85 C407.28,627.23 407.41,623.16 407.73,621.36 C408.05,619.55 408.45,619.32 408.81,620.00 C409.18,620.68 409.54,623.84 409.90,625.42 C410.26,627.01 410.58,630.17 410.98,629.49 C411.39,628.81 411.98,623.48 412.34,621.36 C412.70,619.23 412.79,617.65 413.15,616.75 C413.51,615.84 414.06,615.62 414.51,615.93 C414.96,616.25 415.46,618.64 415.86,618.64 C416.27,618.64 416.63,614.80 416.95,615.93 C417.27,617.06 417.40,622.26 417.76,625.42 C418.12,628.59 418.67,633.11 419.12,634.92 C419.57,636.72 420.02,635.37 420.47,636.27 C420.93,637.18 421.38,638.98 421.83,640.34 C422.28,641.69 422.73,643.95 423.19,644.41 C423.64,644.86 424.09,643.95 424.54,643.05 C424.99,642.15 425.45,640.56 425.90,638.98 C426.35,637.40 426.89,633.79 427.25,633.56 C427.62,633.33 427.71,636.27 428.07,637.63 C428.43,638.98 428.97,640.79 429.42,641.69 C429.88,642.60 430.33,643.05 430.78,643.05 C431.23,643.05 431.68,642.37 432.14,641.69 C432.59,641.02 433.04,641.02 433.49,638.98 C433.94,636.95 434.40,631.84 434.85,629.49 C435.30,627.14 435.75,624.88 436.20,624.88 C436.66,624.88 437.15,627.14 437.56,629.49 C437.97,631.84 438.24,636.72 438.64,638.98 C439.05,641.24 439.55,641.92 440.00,643.05 C440.45,644.18 440.90,645.08 441.36,645.76 C441.81,646.44 442.26,646.76 442.71,647.12 C443.16,647.48 443.66,647.57 444.07,647.93 C444.47,648.29 444.79,649.65 445.15,649.29 C445.51,648.93 445.83,647.25 446.24,645.76 C446.64,644.27 447.14,641.92 447.59,640.34 C448.05,638.76 448.54,637.63 448.95,636.27 C449.36,634.92 449.67,634.46 450.03,632.20 C450.40,629.94 450.76,626.10 451.12,622.71 C451.48,619.32 451.84,618.64 452.20,611.86 C452.56,605.08 452.93,593.79 453.29,582.03 C453.65,570.28 453.97,554.92 454.37,541.36 C454.78,527.80 455.28,510.62 455.73,500.68 C456.18,490.73 456.72,485.08 457.08,481.69 C457.45,478.31 457.54,478.98 457.90,480.34 C458.26,481.69 458.80,484.63 459.25,489.83 C459.71,495.03 460.16,505.65 460.61,511.53 C461.06,517.40 461.51,522.60 461.97,525.08 C462.42,527.57 462.87,525.76 463.32,526.44 C463.77,527.12 464.23,527.80 464.68,529.15 C465.13,530.51 465.58,532.09 466.03,534.58 C466.49,537.06 466.94,539.55 467.39,544.07 C467.84,548.59 468.08,562.15 468.75,561.69 C469.41,561.24 470.69,547.46 471.36,541.36 C472.02,535.25 472.26,528.93 472.71,525.08 C473.16,521.24 473.62,519.66 474.07,518.31 C474.52,516.95 474.97,516.27 475.42,516.95 C475.88,517.63 476.33,521.24 476.78,522.37 C477.23,523.50 477.68,523.05 478.14,523.73 C478.59,524.41 479.04,524.86 479.49,526.44 C479.94,528.02 480.40,530.96 480.85,533.22 C481.30,535.48 481.75,538.64 482.20,540.00 C482.66,541.36 483.11,542.49 483.56,541.36 C484.01,540.23 484.46,536.84 484.92,533.22 C485.37,529.60 485.82,522.37 486.27,519.66 C486.72,516.95 487.18,517.40 487.63,516.95 C488.08,516.50 488.53,517.18 488.98,516.95 C489.44,516.72 489.89,515.59 490.34,515.59 C490.79,515.59 491.24,516.27 491.69,516.95 C492.15,517.63 492.60,518.76 493.05,519.66 C493.50,520.56 493.95,521.02 494.41,522.37 C494.86,523.73 495.31,525.54 495.76,527.80 C496.21,530.06 496.67,533.67 497.12,535.93 C497.57,538.19 498.02,539.55 498.47,541.36 C498.93,543.16 499.38,544.97 499.83,546.78 C500.28,548.59 500.73,550.62 501.19,552.20 C501.64,553.79 502.09,556.50 502.54,556.27 C502.99,556.05 503.45,551.07 503.90,550.85 C504.35,550.62 504.80,554.01 505.25,554.92 C505.71,555.82 506.16,556.27 506.61,556.27 C507.06,556.27 507.51,554.92 507.97,554.92 C508.42,554.92 508.87,556.18 509.32,556.27 C509.77,556.36 510.23,555.23 510.68,555.46 C511.13,555.68 511.58,555.91 512.03,557.63 C512.49,559.34 512.94,563.50 513.39,565.76 C513.84,568.02 514.29,568.93 514.75,571.19 C515.20,573.45 515.65,576.61 516.10,579.32 C516.55,582.03 517.01,585.20 517.46,587.46 C517.91,589.72 518.36,591.75 518.81,592.88 C519.27,594.01 519.72,593.33 520.17,594.24 C520.62,595.14 521.07,596.72 521.53,598.31 C521.98,599.89 522.43,602.37 522.88,603.73 C523.33,605.08 523.79,605.76 524.24,606.44 C524.69,607.12 525.14,608.02 525.59,607.80 C526.05,607.57 526.50,604.86 526.95,605.08 C527.40,605.31 527.85,609.38 528.31,609.15 C528.76,608.93 529.21,605.99 529.66,603.73 C530.11,601.47 530.56,597.63 531.02,595.59 C531.47,593.56 531.92,592.20 532.37,591.53 C532.82,590.85 533.28,591.07 533.73,591.53 C534.18,591.98 534.63,593.56 535.08,594.24 C535.54,594.92 535.99,594.69 536.44,595.59 C536.89,596.50 537.34,598.53 537.80,599.66 C538.25,600.79 538.70,601.69 539.15,602.37 C539.60,603.05 540.06,603.73 540.51,603.73 C540.96,603.73 541.41,602.37 541.86,602.37 C542.32,602.37 542.77,603.73 543.22,603.73 C543.67,603.73 544.12,601.92 544.58,602.37 C545.03,602.82 545.48,605.31 545.93,606.44 C546.38,607.57 546.84,608.02 547.29,609.15 C547.74,610.28 548.35,612.32 548.64,613.22 C548.94,614.12 548.77,614.80 549.07,614.58 C549.36,614.35 549.97,613.67 550.42,611.86 C550.88,610.06 551.33,606.44 551.78,603.73 C552.23,601.02 552.68,597.18 553.14,595.59 C553.59,594.01 554.04,593.33 554.49,594.24 C554.94,595.14 555.40,598.08 555.85,601.02 C556.30,603.95 556.75,609.15 557.20,611.86 C557.66,614.58 558.11,617.06 558.56,617.29 C559.01,617.51 559.46,614.80 559.92,613.22 C560.37,611.64 560.82,609.60 561.27,607.80 C561.72,605.99 562.18,603.28 562.63,602.37 C563.08,601.47 563.53,601.69 563.98,602.37 C564.44,603.05 564.89,607.57 565.34,606.44 C565.79,605.31 566.24,599.66 566.69,595.59 C567.15,591.53 567.60,585.20 568.05,582.03 C568.50,578.87 568.95,576.84 569.41,576.61 C569.86,576.38 570.31,578.87 570.76,580.68 C571.21,582.49 571.67,585.88 572.12,587.46 C572.57,589.04 573.02,589.49 573.47,590.17 C573.93,590.85 574.38,590.85 574.83,591.53 C575.28,592.20 575.73,593.33 576.19,594.24 C576.64,595.14 577.09,596.95 577.54,596.95 C577.99,596.95 578.45,595.37 578.90,594.24 C579.35,593.11 579.80,591.53 580.25,590.17 C580.71,588.81 581.16,587.01 581.61,586.10 C582.06,585.20 582.51,585.06 582.97,584.75 C583.42,584.43 583.87,583.75 584.32,584.20 C584.77,584.66 585.23,585.56 585.68,587.46 C586.13,589.36 586.58,592.43 587.03,595.59 C587.49,598.76 587.94,603.50 588.39,606.44 C588.84,609.38 589.29,611.86 589.75,613.22 C590.20,614.58 590.65,614.12 591.10,614.58 C591.55,615.03 592.01,615.93 592.46,615.93 C592.91,615.93 593.36,615.03 593.81,614.58 C594.27,614.12 594.72,613.22 595.17,613.22 C595.62,613.22 596.07,614.12 596.53,614.58 C596.98,615.03 597.43,615.57 597.88,615.93 C598.33,616.29 598.79,616.75 599.24,616.75 C599.69,616.75 600.14,615.84 600.59,615.93 C601.05,616.02 601.50,617.15 601.95,617.29 C602.40,617.42 602.85,616.66 603.31,616.75 C603.76,616.84 604.21,618.19 604.66,617.83 C605.11,617.47 605.56,615.57 606.02,614.58 C606.47,613.58 606.92,611.64 607.37,611.86 C607.82,612.09 608.28,614.12 608.73,615.93 C609.18,617.74 609.63,622.03 610.08,622.71 C610.54,623.39 610.99,620.90 611.44,620.00 C611.89,619.10 612.34,617.97 612.80,617.29 C613.25,616.61 613.70,616.02 614.15,615.93 C614.60,615.84 615.06,616.97 615.51,616.75 C615.96,616.52 616.41,614.71 616.86,614.58 C617.32,614.44 617.94,615.71 618.22,615.93 C618.50,616.16 618.28,615.48 618.56,615.93 C618.84,616.38 619.46,617.74 619.92,618.64 C620.37,619.55 620.82,620.45 621.27,621.36 C621.72,622.26 622.18,623.30 622.63,624.07 C623.08,624.84 623.53,625.97 623.98,625.97 C624.44,625.97 624.89,624.61 625.34,624.07 C625.79,623.53 626.24,622.85 626.69,622.71 C627.15,622.58 627.60,623.03 628.05,623.25 C628.50,623.48 628.95,623.48 629.41,624.07 C629.86,624.66 630.31,625.42 630.76,626.78 C631.21,628.14 631.67,630.17 632.12,632.20 C632.57,634.24 633.02,637.63 633.47,638.98 C633.93,640.34 634.38,639.21 634.83,640.34 C635.28,641.47 635.73,644.18 636.19,645.76 C636.64,647.34 637.09,649.51 637.54,649.83 C637.99,650.15 638.45,648.11 638.90,647.66 C639.35,647.21 639.80,647.21 640.25,647.12 C640.71,647.03 641.16,647.34 641.61,647.12 C642.06,646.89 642.51,646.44 642.97,645.76 C643.42,645.08 643.87,644.41 644.32,643.05 C644.77,641.69 645.23,638.08 645.68,637.63 C646.13,637.18 646.58,639.21 647.03,640.34 C647.49,641.47 647.94,643.37 648.39,644.41 C648.84,645.45 649.29,646.58 649.75,646.58 C650.20,646.58 650.65,644.86 651.10,644.41 C651.55,643.95 652.01,643.50 652.46,643.86 C652.91,644.23 653.36,646.40 653.81,646.58 C654.27,646.76 654.72,645.31 655.17,644.95 C655.62,644.59 656.07,644.27 656.53,644.41 C656.98,644.54 657.43,645.67 657.88,645.76 C658.33,645.85 658.79,644.72 659.24,644.95 C659.69,645.18 660.14,646.98 660.59,647.12 C661.05,647.25 661.50,646.58 661.95,645.76 C662.40,644.95 662.85,643.01 663.31,642.24 C663.76,641.47 664.21,641.24 664.66,641.15 C665.11,641.06 665.56,641.83 666.02,641.69 C666.47,641.56 666.92,640.79 667.37,640.34 C667.82,639.89 668.50,639.21 668.73,638.98" fill="none" stroke="#4cc985" stroke-width="2.05" stroke-linejoin="round" stroke-linecap="round"/>
<line x1="110.60" y1="671.7" x2="117.90" y2="671.7" stroke="#5a2cc0" stroke-width="4.3" stroke-linecap="round"/>
<line x1="110.60" y1="671.7" x2="117.90" y2="671.7" stroke="#7a48e0" stroke-width="2.9" stroke-linecap="round"/>
<line x1="126.60" y1="671.7" x2="167.70" y2="671.7" stroke="#5a2cc0" stroke-width="4.3" stroke-linecap="round"/>
<line x1="126.60" y1="671.7" x2="167.70" y2="671.7" stroke="#7a48e0" stroke-width="2.9" stroke-linecap="round"/>
<line x1="262.50" y1="671.7" x2="264.50" y2="671.7" stroke="#5a2cc0" stroke-width="4.3" stroke-linecap="round"/>
<line x1="262.50" y1="671.7" x2="264.50" y2="671.7" stroke="#7a48e0" stroke-width="2.9" stroke-linecap="round"/>
<line x1="271.70" y1="671.7" x2="272.90" y2="671.7" stroke="#5a2cc0" stroke-width="4.3" stroke-linecap="round"/>
<line x1="271.70" y1="671.7" x2="272.90" y2="671.7" stroke="#7a48e0" stroke-width="2.9" stroke-linecap="round"/>
<line x1="455.10" y1="671.7" x2="466.40" y2="671.7" stroke="#3fc07a" stroke-width="4.3" stroke-linecap="round"/>
<line x1="455.10" y1="671.7" x2="466.40" y2="671.7" stroke="#66dc9c" stroke-width="2.9" stroke-linecap="round"/>
<line x1="491.60" y1="671.7" x2="496.40" y2="671.7" stroke="#3fc07a" stroke-width="4.3" stroke-linecap="round"/>
<line x1="491.60" y1="671.7" x2="496.40" y2="671.7" stroke="#66dc9c" stroke-width="2.9" stroke-linecap="round"/>
<path d="M49.58,303.40 L49.58,323.99 L50.63,317.42 L51.94,316.10 L53.26,316.76 L54.57,317.42 L55.88,322.67 L56.54,329.24 L57.20,331.87 L57.85,329.90 L59.17,329.24 L60.48,325.30 L61.80,318.73 L62.72,318.07 L63.50,321.36 L64.42,326.61 L65.74,322.67 L67.05,321.36 L68.37,317.42 L69.68,312.82 L70.60,313.47 L71.65,316.10 L72.31,322.67 L73.62,324.64 L74.93,323.99 L76.25,325.30 L77.56,327.93 L78.48,330.56 L79.53,326.61 L80.85,323.33 L82.16,322.02 L83.47,322.67 L84.79,321.36 L86.10,323.99 L87.42,322.67 L88.73,317.42 L89.78,315.45 L90.70,318.07 L91.36,323.33 L92.67,324.64 L93.99,323.33 L95.30,326.61 L96.61,327.93 L97.93,327.93 L99.24,329.24 L100.56,332.53 L101.87,334.76 L103.18,334.50 L104.50,332.53 L105.81,329.24 L107.12,325.30 L108.18,317.42 L108.83,309.53 L109.49,300.99 L110.41,292.45 L111.72,290.48 L113.69,289.17 L115.01,289.17 L116.32,291.14 L117.64,295.08 L118.56,300.99 L119.21,307.56 L119.61,315.45 L120.26,321.36 L120.92,326.61 L122.23,331.87 L123.55,334.50 L125.52,335.42 L126.57,335.81 L127.88,335.15 L129.20,333.18 L130.51,329.90 L132.48,327.27 L134.45,326.61 L135.50,325.30 L136.42,321.36 L137.08,316.76 L137.74,312.16 L138.39,306.91 L139.05,302.31 L139.71,299.02 L140.76,296.39 L142.07,295.08 L143.65,299.68 L144.96,303.62 L146.28,297.05 L147.59,293.77 L149.17,291.80 L150.48,292.45 L151.80,295.08 L152.85,300.34 L153.90,301.65 L154.82,297.71 L156.13,293.77 L157.45,291.80 L158.76,293.11 L160.07,295.08 L161.39,295.74 L162.70,296.39 L164.02,297.71 L164.67,301.65 L165.33,307.56 L165.99,309.53 L167.30,310.19 L168.61,310.85 L169.93,314.79 L171.24,317.42 L172.56,319.39 L173.61,317.42 L174.26,312.82 L174.92,308.88 L175.84,304.28 L176.76,299.68 L177.81,296.39 L179.12,294.42 L180.44,294.42 L181.49,296.39 L182.41,299.68 L183.07,304.28 L183.72,308.22 L184.38,310.85 L185.04,312.16 L186.35,309.53 L187.67,308.22 L188.98,310.85 L190.29,310.19 L191.61,309.53 L192.92,306.25 L194.23,304.28 L195.55,308.22 L196.86,309.53 L198.18,308.88 L199.49,310.85 L200.41,315.45 L201.46,317.42 L202.77,316.10 L204.09,315.45 L205.26,316.10 L207.23,318.73 L209.20,320.04 L211.17,321.36 L213.14,320.70 L215.11,321.36 L216.42,323.33 L217.74,318.73 L219.05,316.76 L220.37,318.07 L221.68,321.36 L222.99,323.99 L224.96,325.30 L226.28,326.61 L227.59,330.56 L228.91,331.87 L230.22,329.24 L231.53,327.27 L232.85,327.93 L234.16,330.56 L235.47,331.87 L236.79,330.56 L238.10,328.58 L239.42,327.93 L240.73,328.58 L242.04,331.87 L243.36,333.84 L244.67,334.50 L245.99,337.78 L247.30,337.12 L248.61,337.12 L249.93,337.78 L251.90,338.44 L253.87,339.10 L255.18,337.12 L255.84,334.50 L256.50,330.56 L257.81,327.93 L259.12,326.61 L260.44,325.96 L261.75,326.61 L263.07,327.27 L264.38,323.99 L265.69,321.36 L267.01,320.70 L268.32,322.02 L269.64,321.36 L270.95,320.70 L272.26,322.67 L272.92,325.30 L273.31,329.90 L274.23,335.81 L275.55,337.12 L276.86,334.50 L278.18,330.56 L279.49,327.27 L279.63,325.74 L280.51,325.30 L281.39,327.93 L282.70,330.55 L283.58,327.93 L284.45,325.30 L285.77,323.55 L287.08,322.67 L288.39,323.55 L289.27,325.74 L290.58,327.05 L291.90,325.74 L293.21,327.05 L294.09,330.55 L295.40,333.18 L296.71,334.49 L298.03,334.93 L298.90,332.30 L299.78,328.80 L300.66,325.30 L301.53,322.67 L302.41,320.04 L303.28,315.66 L304.16,313.04 L305.04,312.16 L306.35,312.60 L307.66,312.60 L308.98,313.91 L310.29,315.66 L311.60,317.41 L312.92,319.17 L313.79,321.79 L314.67,326.17 L315.55,327.05 L316.42,325.30 L317.30,321.79 L318.17,320.92 L319.05,322.67 L319.93,323.98 L320.80,323.55 L322.12,323.11 L323.43,323.11 L324.74,323.11 L324.74,303.40Z" fill="#dcdcdc" stroke="none"/>
<line x1="48.95" y1="303.40" x2="324.50" y2="303.40" stroke="#a8a8a8" stroke-width="1"/>
<line x1="88.31" y1="284.10" x2="88.31" y2="344.00" stroke="#7a7a7a" stroke-width="0.8" stroke-dasharray="1.1 2.1"/>
<line x1="186.73" y1="284.10" x2="186.73" y2="344.00" stroke="#7a7a7a" stroke-width="0.8" stroke-dasharray="1.1 2.1"/>
<path d="M49.6,324.0h0M49.8,322.4h0M50.1,320.9h0M50.3,319.3h0M50.6,317.7h0M51.1,317.0h0M51.6,316.5h0M52.1,316.2h0M52.6,316.4h0M53.1,316.7h0M53.6,316.9h0M54.1,317.2h0M54.6,317.4h0M55.1,319.4h0M55.6,321.4h0M55.8,323.0h0M56.1,324.6h0M56.2,326.2h0M56.4,327.8h0M56.6,329.4h0M57.1,331.4h0M57.6,330.7h0M58.1,329.8h0M58.6,329.5h0M59.1,329.3h0M59.6,328.0h0M60.1,326.5h0M60.6,324.8h0M60.8,323.6h0M61.1,322.3h0M61.3,321.1h0M61.6,319.8h0M62.1,318.5h0M62.6,318.2h0M63.1,319.6h0M63.3,320.7h0M63.6,321.8h0M63.8,323.2h0M64.1,324.6h0M64.6,326.2h0M65.1,324.7h0M65.6,323.2h0M66.1,322.3h0M66.6,321.8h0M67.1,321.3h0M67.6,319.8h0M68.1,318.3h0M68.6,316.7h0M69.1,314.9h0M69.6,313.2h0M70.1,313.1h0M70.6,313.5h0M71.1,314.7h0M71.6,315.9h0M71.7,317.4h0M71.9,318.9h0M72.1,320.4h0M72.3,321.7h0M72.6,323.1h0M73.1,323.8h0M73.6,324.6h0M74.1,324.4h0M74.6,324.2h0M75.1,324.1h0M75.6,324.6h0M76.1,325.1h0M76.6,326.0h0M77.1,327.0h0M77.6,328.0h0M78.1,329.4h0M78.6,330.2h0M79.1,328.3h0M79.6,326.5h0M80.1,325.3h0M80.6,324.0h0M81.1,323.1h0M81.6,322.6h0M82.1,322.1h0M82.6,322.2h0M83.1,322.5h0M83.6,322.6h0M84.1,322.1h0M84.6,321.6h0M85.1,321.9h0M85.6,322.9h0M86.1,323.9h0M86.6,323.5h0M87.1,323.0h0M87.6,322.0h0M88.1,320.0h0M88.6,318.0h0M89.1,316.8h0M89.6,315.8h0M90.1,316.3h0M90.6,317.7h0M90.8,319.4h0M91.1,321.1h0M91.3,322.3h0M91.6,323.5h0M92.1,324.0h0M92.6,324.5h0M93.1,324.2h0M93.6,323.7h0M94.1,323.6h0M94.6,324.8h0M95.1,326.1h0M95.6,326.9h0M96.1,327.4h0M96.6,327.9h0M97.1,327.9h0M97.6,327.9h0M98.1,328.1h0M98.6,328.6h0M99.1,329.1h0M99.6,330.1h0M100.1,331.3h0M100.6,332.6h0M101.1,333.4h0M101.6,334.3h0M102.1,334.7h0M102.6,334.6h0M103.1,334.5h0M103.6,333.9h0M104.1,333.2h0M104.6,332.3h0M105.1,331.1h0M105.6,329.8h0M106.1,328.4h0M106.6,326.9h0M107.1,325.4h0M107.3,323.7h0M107.6,321.9h0M107.8,320.0h0M108.1,318.2h0M108.2,316.3h0M108.4,314.5h0M108.6,312.6h0M108.7,310.5h0M108.9,308.4h0M119.2,308.4h0M119.3,310.5h0M119.5,312.7h0M119.6,314.8h0M119.7,316.5h0M119.9,318.1h0M120.1,319.7h0M120.3,321.8h0M120.6,323.9h0M120.8,325.5h0M121.1,327.2h0M121.6,329.2h0M122.1,331.2h0M122.6,332.6h0M123.1,333.6h0M123.6,334.5h0M124.1,334.7h0M124.6,335.0h0M125.1,335.2h0M125.6,335.4h0M126.1,335.6h0M126.6,335.8h0M127.1,335.6h0M127.6,335.3h0M128.1,334.9h0M128.6,334.1h0M129.1,333.4h0M129.6,332.2h0M130.1,331.0h0M130.6,329.8h0M131.1,329.1h0M131.6,328.5h0M132.1,327.8h0M132.6,327.2h0M133.1,327.1h0M133.6,326.9h0M134.1,326.7h0M134.6,326.5h0M135.1,325.8h0M135.6,325.0h0M135.8,323.9h0M136.1,322.8h0M136.3,321.6h0M136.6,320.3h0M136.8,318.5h0M137.1,316.8h0M137.3,315.0h0M137.6,313.3h0M137.8,311.4h0M138.1,309.4h0M165.6,308.3h0M166.1,309.6h0M166.6,309.8h0M167.1,310.1h0M167.6,310.3h0M168.1,310.6h0M168.6,310.8h0M169.1,312.2h0M169.6,313.7h0M170.1,315.1h0M170.6,316.1h0M171.1,317.1h0M171.6,317.9h0M172.1,318.7h0M172.6,319.3h0M173.1,318.4h0M173.6,317.5h0M173.8,315.8h0M174.1,314.1h0M174.3,312.5h0M174.6,310.9h0M174.8,309.5h0M183.8,308.5h0M184.1,309.6h0M184.6,311.2h0M185.1,312.1h0M185.6,311.1h0M186.1,310.1h0M186.6,309.3h0M187.1,308.8h0M187.6,308.3h0M188.1,309.0h0M188.6,310.0h0M189.1,310.8h0M189.6,310.5h0M190.1,310.3h0M190.6,310.0h0M191.1,309.8h0M191.6,309.5h0M192.1,308.4h0M195.6,308.2h0M196.1,308.7h0M196.6,309.2h0M197.1,309.4h0M197.6,309.2h0M198.1,308.9h0M198.6,309.5h0M199.1,310.2h0M199.6,311.3h0M199.8,312.5h0M200.1,313.8h0M200.6,315.8h0M201.1,316.7h0M201.6,317.3h0M202.1,316.8h0M202.6,316.3h0M203.1,316.0h0M203.6,315.7h0M204.1,315.5h0M204.6,315.7h0M205.1,316.0h0M205.6,316.5h0M206.1,317.2h0M206.6,317.9h0M207.1,318.5h0M207.6,319.0h0M208.1,319.3h0M208.6,319.6h0M209.1,320.0h0M209.6,320.3h0M210.1,320.6h0M210.6,321.0h0M211.1,321.3h0M211.6,321.2h0M212.1,321.1h0M212.6,320.9h0M213.1,320.7h0M213.6,320.8h0M214.1,321.0h0M214.6,321.2h0M215.1,321.3h0M215.6,322.1h0M216.1,322.8h0M216.6,322.8h0M217.1,321.0h0M217.6,319.3h0M218.1,318.2h0M218.6,317.5h0M219.1,316.8h0M219.6,317.3h0M220.1,317.8h0M220.6,318.6h0M221.1,319.9h0M221.6,321.1h0M222.1,322.2h0M222.6,323.2h0M223.1,324.0h0M223.6,324.4h0M224.1,324.7h0M224.6,325.0h0M225.1,325.4h0M225.6,325.9h0M226.1,326.4h0M226.6,327.5h0M227.1,329.0h0M227.6,330.5h0M228.1,331.0h0M228.6,331.5h0M229.1,331.5h0M229.6,330.5h0M230.1,329.5h0M230.6,328.7h0M231.1,328.0h0M231.6,327.3h0M232.1,327.5h0M232.6,327.8h0M233.1,328.4h0M233.6,329.4h0M234.1,330.4h0M234.6,331.0h0M235.1,331.5h0M235.6,331.8h0M236.1,331.3h0M236.6,330.8h0M237.1,330.1h0M237.6,329.4h0M238.1,328.6h0M238.6,328.3h0M239.1,328.1h0M239.6,328.0h0M240.1,328.3h0M240.6,328.5h0M241.1,329.5h0M241.6,330.7h0M242.1,331.9h0M242.6,332.7h0M243.1,333.4h0M243.6,333.9h0M244.1,334.2h0M244.6,334.4h0M245.1,335.5h0M245.6,336.8h0M246.1,337.7h0M246.6,337.5h0M247.1,337.2h0M247.6,337.1h0M248.1,337.1h0M248.6,337.1h0M249.1,337.4h0M249.6,337.6h0M250.1,337.8h0M250.6,338.0h0M251.1,338.2h0M251.6,338.3h0M252.1,338.5h0M252.6,338.7h0M253.1,338.8h0M253.6,339.0h0M254.1,338.8h0M254.6,338.0h0M255.1,337.3h0M255.6,335.6h0M255.8,334.3h0M256.1,333.1h0M256.3,331.7h0M256.6,330.4h0M257.1,329.4h0M257.6,328.4h0M258.1,327.7h0M258.6,327.2h0M259.1,326.7h0M259.6,326.4h0M260.1,326.1h0M260.6,326.0h0M261.1,326.3h0M261.6,326.5h0M262.1,326.8h0M262.6,327.0h0M263.1,327.2h0M263.6,326.0h0M264.1,324.7h0M264.6,323.6h0M265.1,322.6h0M265.6,321.6h0M266.1,321.2h0M266.6,320.9h0M267.1,320.8h0M267.6,321.3h0M268.1,321.8h0M268.6,321.9h0M269.1,321.6h0M269.6,321.4h0M270.1,321.1h0M270.6,320.9h0M271.1,320.9h0M271.6,321.6h0M272.1,322.4h0M272.6,323.9h0M272.8,325.5h0M273.1,327.1h0M273.2,328.6h0M273.4,330.1h0M273.6,331.6h0M273.8,333.2h0M274.1,334.8h0M274.6,336.2h0M275.1,336.7h0M275.6,337.1h0M276.1,336.1h0M276.6,335.1h0M277.1,333.9h0M277.6,332.4h0M278.1,330.9h0M278.6,329.6h0M279.1,328.3h0M279.6,326.4h0M280.1,325.5h0M280.6,325.5h0M281.1,327.0h0M281.6,328.3h0M282.1,329.3h0M282.6,330.3h0M283.1,329.4h0M283.6,327.9h0M284.1,326.4h0M284.6,325.1h0M285.1,324.5h0M285.6,323.8h0M286.1,323.3h0M286.6,323.0h0M287.1,322.7h0M287.6,323.0h0M288.1,323.3h0M288.6,324.0h0M289.1,325.3h0M289.6,326.0h0M290.1,326.5h0M290.6,327.0h0M291.1,326.6h0M291.6,326.1h0M292.1,325.9h0M292.6,326.4h0M293.1,326.9h0M293.6,328.5h0M294.1,330.5h0M294.6,331.5h0M295.1,332.5h0M295.6,333.4h0M296.1,333.9h0M296.6,334.4h0M297.1,334.6h0M297.6,334.8h0M298.1,334.8h0M298.6,333.3h0M299.1,331.6h0M299.6,329.6h0M300.1,327.6h0M300.6,325.6h0M301.1,324.0h0M301.6,322.5h0M302.1,321.0h0M302.6,319.2h0M302.8,317.9h0M303.1,316.7h0M303.6,314.8h0M304.1,313.3h0M304.6,312.6h0M305.1,312.2h0M305.6,312.3h0M306.1,312.5h0M306.6,312.6h0M307.1,312.6h0M307.6,312.6h0M308.1,313.0h0M308.6,313.5h0M309.1,314.0h0M309.6,314.7h0M310.1,315.4h0M310.6,316.0h0M311.1,316.7h0M311.6,317.4h0M312.1,318.0h0M312.6,318.7h0M313.1,319.6h0M313.6,321.1h0M314.1,323.2h0M314.3,324.5h0M314.6,325.7h0M315.1,326.6h0M315.6,327.0h0M316.1,326.0h0M316.6,324.7h0M317.1,322.7h0M317.6,321.5h0M318.1,321.0h0M318.6,321.7h0M319.1,322.7h0M319.6,323.5h0M320.1,323.9h0M320.6,323.7h0M321.1,323.5h0M321.6,323.3h0M322.1,323.1h0M322.6,323.1h0M323.1,323.1h0M323.6,323.1h0M324.1,323.1h0M324.6,323.1h0M325.1,323.1h0" stroke="#707070" stroke-width="4.0" stroke-linecap="round" fill="none"/>
<path d="M109.1,306.4h0M109.2,304.3h0M109.4,302.2h0M109.6,300.2h0M109.7,298.6h0M118.3,299.6h0M118.6,301.2h0M118.7,302.9h0M118.9,304.5h0M119.1,306.2h0M138.3,307.5h0M138.6,305.6h0M138.8,303.9h0M139.1,302.2h0M139.3,300.9h0M139.6,299.7h0M143.6,299.5h0M144.1,301.0h0M144.6,302.5h0M145.1,303.1h0M145.3,301.8h0M145.6,300.6h0M145.8,299.3h0M152.6,299.0h0M153.1,300.6h0M153.6,301.2h0M154.1,300.9h0M154.3,299.8h0M154.6,298.7h0M164.3,299.6h0M164.6,301.1h0M164.8,303.2h0M165.1,305.3h0M165.3,306.8h0M175.1,308.1h0M175.3,306.8h0M175.6,305.6h0M175.8,304.3h0M176.1,303.1h0M176.3,301.8h0M176.6,300.6h0M177.1,298.7h0M182.3,299.7h0M182.6,300.8h0M182.8,302.6h0M183.1,304.3h0M183.3,305.8h0M183.6,307.3h0M192.6,307.1h0M193.1,306.0h0M193.6,305.3h0M194.1,304.5h0M194.6,305.3h0M195.1,306.8h0" stroke="#c2c2c2" stroke-width="4.0" stroke-linecap="round" fill="none"/>
<path d="M109.9,297.1h0M110.1,295.5h0M110.3,293.9h0M110.6,292.2h0M111.1,291.5h0M111.6,290.7h0M112.1,290.2h0M112.6,289.9h0M113.1,289.6h0M113.6,289.2h0M114.1,289.2h0M114.6,289.2h0M115.1,289.3h0M115.6,290.0h0M116.1,290.8h0M116.6,291.9h0M117.1,293.4h0M117.6,294.9h0M117.8,296.4h0M118.1,297.9h0M140.1,298.1h0M140.6,296.9h0M141.1,296.1h0M141.6,295.6h0M142.1,295.1h0M142.6,296.5h0M143.1,298.0h0M146.1,298.1h0M146.6,296.3h0M147.1,295.1h0M147.6,293.8h0M148.1,293.2h0M148.6,292.5h0M149.1,291.9h0M149.6,292.0h0M150.1,292.2h0M150.6,292.6h0M151.1,293.6h0M151.6,294.6h0M152.1,296.5h0M152.3,297.7h0M155.1,296.9h0M155.6,295.4h0M156.1,293.9h0M156.6,293.1h0M157.1,292.3h0M157.6,291.9h0M158.1,292.4h0M158.6,292.9h0M159.1,293.6h0M159.6,294.3h0M160.1,295.1h0M160.6,295.3h0M161.1,295.6h0M161.6,295.8h0M162.1,296.1h0M162.6,296.3h0M163.1,296.8h0M163.6,297.3h0M164.1,298.1h0M177.6,297.1h0M178.1,296.0h0M178.6,295.2h0M179.1,294.5h0M179.6,294.4h0M180.1,294.4h0M180.6,294.7h0M181.1,295.6h0M181.6,296.7h0M182.1,298.5h0" stroke="#d8262a" stroke-width="4.0" stroke-linecap="round" fill="none"/>
<path d="M393.97,303.40 L393.97,321.36 L395.28,316.76 L396.60,316.10 L398.57,316.76 L399.88,318.73 L400.54,323.33 L401.20,329.24 L401.85,332.53 L403.17,329.24 L404.48,327.93 L405.80,321.36 L407.11,316.76 L408.42,320.04 L409.74,325.30 L411.05,322.67 L413.02,320.04 L414.34,313.47 L415.65,312.82 L416.70,316.10 L417.62,322.67 L418.93,323.99 L420.25,324.64 L421.56,323.33 L422.88,329.90 L424.19,325.30 L425.50,323.33 L426.82,322.02 L428.13,322.02 L429.45,322.67 L430.76,323.99 L432.07,322.67 L433.39,316.10 L434.31,315.45 L435.36,318.73 L436.67,323.33 L437.99,325.30 L439.30,325.96 L440.61,326.61 L441.93,325.30 L443.24,325.30 L444.56,329.24 L445.87,332.53 L447.18,333.18 L448.50,331.87 L449.81,329.24 L451.12,327.27 L452.18,323.99 L453.10,318.73 L453.75,313.47 L454.80,308.22 L456.38,304.93 L458.35,302.96 L459.67,302.70 L460.98,304.28 L461.90,307.56 L462.69,312.16 L463.34,318.07 L463.87,325.30 L464.53,330.56 L465.58,335.81 L466.89,339.10 L468.21,339.75 L470.18,337.12 L471.31,335.81 L473.28,335.15 L475.26,332.53 L477.23,329.90 L479.20,330.56 L480.51,330.56 L481.82,323.99 L483.14,317.42 L484.45,312.16 L485.77,308.88 L487.08,306.25 L488.39,304.93 L489.45,310.85 L490.37,305.59 L491.68,300.34 L492.99,295.74 L494.31,294.42 L495.62,296.39 L496.93,301.65 L498.25,303.62 L499.56,299.68 L500.88,295.74 L502.19,295.08 L503.50,296.39 L504.82,298.37 L506.13,299.02 L507.45,299.68 L508.76,303.62 L510.07,308.88 L511.39,310.85 L512.70,311.50 L514.02,315.45 L515.33,318.07 L516.64,318.73 L517.96,317.42 L519.27,312.16 L520.58,306.25 L521.90,300.34 L523.21,297.05 L524.53,297.05 L525.84,299.02 L527.15,302.96 L528.47,307.56 L529.78,310.85 L531.10,309.53 L532.41,310.85 L533.72,313.47 L535.04,313.47 L536.35,312.16 L537.67,310.19 L538.98,311.50 L540.29,312.16 L541.61,313.47 L542.92,312.82 L544.23,316.10 L545.55,320.70 L546.86,320.04 L548.18,317.42 L549.49,317.42 L550.80,318.73 L552.12,320.04 L553.94,321.36 L555.91,323.33 L557.88,321.36 L559.20,322.67 L560.51,325.96 L561.82,322.02 L563.14,320.04 L564.45,320.70 L565.77,322.67 L567.74,324.64 L569.71,325.30 L571.02,327.27 L572.34,331.21 L573.65,331.87 L574.96,329.24 L576.28,327.93 L577.59,329.24 L578.91,332.53 L580.48,334.50 L582.19,333.18 L583.50,331.21 L584.82,330.56 L586.13,332.53 L587.45,335.81 L588.76,337.12 L590.07,337.78 L591.39,337.78 L592.70,337.12 L594.67,336.47 L596.64,336.47 L598.61,336.47 L599.93,333.18 L601.24,329.24 L602.56,327.27 L603.87,325.96 L605.18,325.30 L606.50,326.61 L607.81,327.93 L609.12,324.64 L610.44,322.02 L611.75,321.36 L613.07,321.36 L614.38,322.02 L615.69,322.67 L617.01,324.64 L617.67,327.93 L618.06,330.56 L618.98,334.50 L620.29,335.81 L621.61,330.56 L622.92,326.61 L624.23,324.64 L625.55,325.30 L627.52,328.58 L627.63,329.24 L628.94,326.17 L630.26,324.42 L631.57,323.55 L632.88,323.98 L634.20,326.61 L635.51,326.17 L636.82,324.86 L638.14,327.05 L639.01,330.55 L640.33,332.74 L642.08,333.62 L642.96,329.68 L643.83,325.74 L645.15,323.55 L646.46,321.79 L647.34,319.17 L648.21,314.79 L649.09,313.04 L650.40,313.04 L652.15,313.47 L653.47,314.35 L654.78,315.66 L656.09,316.98 L657.41,319.17 L658.28,322.67 L659.16,325.74 L660.04,326.17 L660.91,323.55 L661.79,321.36 L662.66,320.48 L663.54,321.79 L664.85,323.11 L666.17,322.67 L667.48,322.67 L668.79,322.67 L668.79,303.40Z" fill="#dcdcdc" stroke="none"/>
<line x1="393.50" y1="303.40" x2="669.20" y2="303.40" stroke="#a8a8a8" stroke-width="1"/>
<line x1="432.89" y1="286.10" x2="432.89" y2="344.00" stroke="#b8b8b8" stroke-width="1.0" stroke-dasharray="5 3.5"/>
<line x1="531.35" y1="286.10" x2="531.35" y2="344.00" stroke="#b8b8b8" stroke-width="1.0" stroke-dasharray="5 3.5"/>
<path d="M394.0,321.4h0M394.5,319.6h0M395.0,317.9h0M395.5,316.7h0M396.0,316.4h0M396.5,316.2h0M397.0,316.2h0M397.5,316.4h0M398.0,316.6h0M398.5,316.7h0M399.0,317.4h0M399.5,318.1h0M400.0,319.3h0M400.2,321.1h0M400.5,322.8h0M400.7,325.0h0M401.0,327.2h0M401.2,328.9h0M401.5,330.6h0M402.0,332.2h0M402.5,331.0h0M403.0,329.7h0M403.5,328.9h0M404.0,328.4h0M404.5,327.9h0M404.7,326.7h0M405.0,325.5h0M405.2,324.2h0M405.5,323.0h0M405.7,321.9h0M406.0,320.7h0M406.5,319.0h0M407.0,317.2h0M407.5,317.7h0M408.0,318.9h0M408.5,320.2h0M409.0,322.2h0M409.5,324.2h0M410.0,324.8h0M410.5,323.8h0M411.0,322.8h0M411.5,322.1h0M412.0,321.4h0M412.5,320.8h0M413.0,320.1h0M413.2,319.0h0M413.5,317.8h0M413.7,316.6h0M414.0,315.3h0M414.5,313.4h0M415.0,313.2h0M415.5,312.9h0M416.0,313.8h0M416.5,315.4h0M416.7,316.7h0M417.0,318.0h0M417.2,319.8h0M417.5,321.6h0M418.0,323.0h0M418.5,323.5h0M419.0,324.0h0M419.5,324.3h0M420.0,324.5h0M420.5,324.4h0M421.0,323.9h0M421.5,323.4h0M422.0,325.4h0M422.2,326.6h0M422.5,327.9h0M423.0,329.6h0M423.5,327.8h0M424.0,326.1h0M424.5,324.9h0M425.0,324.1h0M425.5,323.4h0M426.0,322.9h0M426.5,322.4h0M427.0,322.0h0M427.5,322.0h0M428.0,322.0h0M428.5,322.2h0M429.0,322.4h0M429.5,322.7h0M430.0,323.2h0M430.5,323.7h0M431.0,323.8h0M431.5,323.3h0M432.0,322.8h0M432.5,320.7h0M432.7,319.4h0M433.0,318.2h0M433.2,317.1h0M433.5,316.0h0M434.0,315.7h0M434.5,316.0h0M435.0,317.5h0M435.5,319.1h0M436.0,320.9h0M436.5,322.6h0M437.0,323.8h0M437.5,324.5h0M438.0,325.3h0M438.5,325.5h0M439.0,325.8h0M439.5,326.0h0M440.0,326.3h0M440.5,326.5h0M441.0,326.3h0M441.5,325.8h0M442.0,325.3h0M442.5,325.3h0M443.0,325.3h0M443.5,326.0h0M444.0,327.5h0M444.5,329.0h0M445.0,330.3h0M445.5,331.5h0M446.0,332.6h0M446.5,332.8h0M447.0,333.1h0M447.5,332.9h0M448.0,332.4h0M448.5,331.9h0M449.0,330.9h0M449.5,329.9h0M450.0,329.0h0M450.5,328.3h0M451.0,327.5h0M451.5,326.2h0M452.0,324.6h0M452.2,323.5h0M452.5,322.3h0M452.7,320.9h0M453.0,319.4h0M453.2,317.6h0M453.5,315.7h0M453.7,314.1h0M454.0,312.4h0M454.2,311.1h0M454.5,309.9h0M462.2,309.4h0M462.5,310.9h0M462.7,312.8h0M463.0,314.7h0M463.1,316.4h0M463.3,318.1h0M463.5,319.8h0M463.6,321.9h0M463.8,324.0h0M464.0,326.1h0M464.2,328.1h0M464.5,330.1h0M464.7,331.4h0M465.0,332.8h0M465.2,334.0h0M465.5,335.3h0M466.0,336.8h0M466.5,338.0h0M467.0,339.1h0M467.5,339.4h0M468.0,339.6h0M468.5,339.4h0M469.0,338.7h0M469.5,338.1h0M470.0,337.4h0M470.5,336.8h0M471.0,336.2h0M471.5,335.8h0M472.0,335.6h0M472.5,335.4h0M473.0,335.3h0M473.5,334.9h0M474.0,334.2h0M474.5,333.6h0M475.0,332.9h0M475.5,332.2h0M476.0,331.6h0M476.5,330.9h0M477.0,330.2h0M477.5,330.0h0M478.0,330.1h0M478.5,330.3h0M479.0,330.5h0M479.5,330.6h0M480.0,330.6h0M480.5,330.6h0M480.7,329.4h0M481.0,328.3h0M481.2,327.0h0M481.5,325.8h0M481.7,324.5h0M482.0,323.3h0M482.2,322.0h0M482.5,320.8h0M482.7,319.5h0M483.0,318.3h0M483.2,317.2h0M483.5,316.1h0M484.0,314.1h0M484.5,312.1h0M485.0,310.9h0M485.5,309.6h0M486.0,308.5h0M489.2,309.4h0M489.5,310.7h0M489.7,309.3h0M510.0,308.5h0M510.5,309.5h0M511.0,310.2h0M511.5,310.9h0M512.0,311.1h0M512.5,311.4h0M513.0,312.3h0M513.5,313.8h0M514.0,315.3h0M514.5,316.4h0M515.0,317.4h0M515.5,318.1h0M516.0,318.4h0M516.5,318.6h0M517.0,318.4h0M517.5,317.9h0M518.0,317.4h0M518.5,315.4h0M519.0,313.4h0M519.5,311.3h0M519.7,310.1h0M520.0,309.0h0M529.0,308.8h0M529.5,310.1h0M530.0,310.7h0M530.5,310.2h0M531.0,309.7h0M531.5,309.9h0M532.0,310.4h0M532.5,311.0h0M533.0,312.0h0M533.5,313.0h0M534.0,313.5h0M534.5,313.5h0M535.0,313.5h0M535.5,313.0h0M536.0,312.5h0M536.5,312.0h0M537.0,311.2h0M537.5,310.5h0M538.0,310.5h0M538.5,311.0h0M539.0,311.5h0M539.5,311.7h0M540.0,312.0h0M540.5,312.3h0M541.0,312.8h0M541.5,313.3h0M542.0,313.3h0M542.5,313.0h0M543.0,312.9h0M543.5,314.2h0M544.0,315.4h0M544.5,316.9h0M545.0,318.7h0M545.5,320.4h0M546.0,320.5h0M546.5,320.2h0M547.0,319.8h0M547.5,318.8h0M548.0,317.8h0M548.5,317.4h0M549.0,317.4h0M549.5,317.4h0M550.0,317.9h0M550.5,318.4h0M551.0,318.9h0M551.5,319.4h0M552.0,319.9h0M552.5,320.3h0M553.0,320.7h0M553.5,321.0h0M554.0,321.4h0M554.5,321.9h0M555.0,322.4h0M555.5,322.9h0M556.0,323.3h0M556.5,322.8h0M557.0,322.3h0M557.5,321.8h0M558.0,321.4h0M558.5,321.9h0M559.0,322.4h0M559.5,323.4h0M560.0,324.6h0M560.5,325.9h0M561.0,324.6h0M561.5,323.1h0M562.0,321.8h0M562.5,321.0h0M563.0,320.3h0M563.5,320.2h0M564.0,320.5h0M564.5,320.7h0M565.0,321.5h0M565.5,322.2h0M566.0,322.9h0M566.5,323.4h0M567.0,323.9h0M567.5,324.4h0M568.0,324.7h0M568.5,324.9h0M569.0,325.1h0M569.5,325.2h0M570.0,325.7h0M570.5,326.4h0M571.0,327.2h0M571.5,328.6h0M572.0,330.1h0M572.5,331.3h0M573.0,331.5h0M573.5,331.8h0M574.0,331.2h0M574.5,330.2h0M575.0,329.2h0M575.5,328.7h0M576.0,328.2h0M576.5,328.1h0M577.0,328.6h0M577.5,329.1h0M578.0,330.2h0M578.5,331.4h0M579.0,332.6h0M579.5,333.2h0M580.0,333.9h0M580.5,334.5h0M581.0,334.1h0M581.5,333.7h0M582.0,333.4h0M582.5,332.8h0M583.0,332.0h0M583.5,331.3h0M584.0,331.0h0M584.5,330.7h0M585.0,330.8h0M585.5,331.5h0M586.0,332.3h0M586.5,333.4h0M587.0,334.6h0M587.5,335.8h0M588.0,336.3h0M588.5,336.8h0M589.0,337.2h0M589.5,337.5h0M590.0,337.7h0M590.5,337.8h0M591.0,337.8h0M591.5,337.7h0M592.0,337.5h0M592.5,337.2h0M593.0,337.0h0M593.5,336.9h0M594.0,336.7h0M594.5,336.5h0M595.0,336.5h0M595.5,336.5h0M596.0,336.5h0M596.5,336.5h0M597.0,336.5h0M597.5,336.5h0M598.0,336.5h0M598.5,336.5h0M599.0,335.6h0M599.5,334.3h0M600.0,333.1h0M600.5,331.6h0M601.0,330.1h0M601.5,328.9h0M602.0,328.1h0M602.5,327.4h0M603.0,326.9h0M603.5,326.4h0M604.0,325.9h0M604.5,325.7h0M605.0,325.4h0M605.5,325.6h0M606.0,326.1h0M606.5,326.6h0M607.0,327.1h0M607.5,327.6h0M608.0,327.5h0M608.5,326.3h0M609.0,325.0h0M609.5,324.0h0M610.0,323.0h0M610.5,322.0h0M611.0,321.7h0M611.5,321.5h0M612.0,321.4h0M612.5,321.4h0M613.0,321.4h0M613.5,321.6h0M614.0,321.8h0M614.5,322.1h0M615.0,322.3h0M615.5,322.6h0M616.0,323.1h0M616.5,323.8h0M617.0,324.6h0M617.2,325.8h0M617.5,327.0h0M617.7,328.5h0M618.0,330.0h0M618.2,331.1h0M618.5,332.3h0M618.7,333.4h0M619.0,334.5h0M619.5,335.0h0M620.0,335.5h0M620.5,335.1h0M621.0,333.1h0M621.5,331.1h0M622.0,329.5h0M622.5,328.0h0M623.0,326.5h0M623.5,325.8h0M624.0,325.0h0M624.5,324.8h0M625.0,325.0h0M625.5,325.3h0M626.0,326.0h0M626.5,326.8h0M627.0,327.7h0M627.5,328.5h0M628.0,328.4h0M628.5,327.3h0M629.0,326.1h0M629.5,325.5h0M630.0,324.8h0M630.5,324.3h0M631.0,323.9h0M631.5,323.6h0M632.0,323.7h0M632.5,323.8h0M633.0,324.2h0M633.5,325.2h0M634.0,326.2h0M634.5,326.5h0M635.0,326.4h0M635.5,326.2h0M636.0,325.7h0M636.5,325.2h0M637.0,325.1h0M637.5,325.9h0M638.0,326.8h0M638.5,328.4h0M639.0,330.4h0M639.5,331.3h0M640.0,332.1h0M640.5,332.8h0M641.0,333.1h0M641.5,333.3h0M642.0,333.6h0M642.5,331.9h0M642.7,330.7h0M643.0,329.6h0M643.2,328.5h0M643.5,327.4h0M644.0,325.5h0M644.5,324.7h0M645.0,323.8h0M645.5,323.1h0M646.0,322.4h0M646.5,321.8h0M647.0,320.3h0M647.5,318.5h0M647.7,317.2h0M648.0,316.0h0M648.5,314.3h0M649.0,313.3h0M649.5,313.0h0M650.0,313.0h0M650.5,313.1h0M651.0,313.2h0M651.5,313.3h0M652.0,313.4h0M652.5,313.7h0M653.0,314.0h0M653.5,314.4h0M654.0,314.9h0M654.5,315.4h0M655.0,315.9h0M655.5,316.4h0M656.0,316.9h0M656.5,317.6h0M657.0,318.4h0M657.5,319.4h0M658.0,321.4h0M658.5,323.3h0M659.0,325.1h0M659.5,325.9h0M660.0,326.1h0M660.5,324.9h0M661.0,323.4h0M661.5,322.1h0M662.0,321.2h0M662.5,320.7h0M663.0,320.9h0M663.5,321.7h0M664.0,322.2h0M664.5,322.7h0M665.0,323.1h0M665.5,322.9h0M666.0,322.7h0M666.5,322.7h0M667.0,322.7h0M667.5,322.7h0M668.0,322.7h0M668.5,322.7h0M669.0,322.7h0" stroke="#707070" stroke-width="4.0" stroke-linecap="round" fill="none"/>
<path d="M455.0,307.9h0M455.5,306.8h0M456.0,305.8h0M456.5,304.8h0M457.0,304.3h0M457.5,303.8h0M458.0,303.3h0M458.5,302.9h0M459.0,302.8h0M459.5,302.7h0M460.0,303.1h0M460.5,303.7h0M461.0,304.3h0M461.5,306.0h0M462.0,308.0h0M486.5,307.5h0M487.0,306.5h0M487.5,305.9h0M488.0,305.4h0M488.5,305.4h0M488.7,306.8h0M489.0,308.2h0M490.0,307.8h0M490.2,306.5h0M490.5,305.2h0M491.0,303.2h0M491.5,301.2h0M492.0,299.3h0M496.5,299.8h0M497.0,301.7h0M497.5,302.5h0M498.0,303.2h0M498.5,303.0h0M499.0,301.5h0M499.5,300.0h0M505.5,298.7h0M506.0,298.9h0M506.5,299.2h0M507.0,299.4h0M507.5,299.8h0M508.0,301.3h0M508.5,302.8h0M509.0,304.5h0M509.5,306.5h0M520.2,307.9h0M520.5,306.8h0M520.7,305.6h0M521.0,304.5h0M521.2,303.4h0M521.5,302.3h0M522.0,300.2h0M522.5,298.9h0M526.0,299.4h0M526.5,300.9h0M527.0,302.4h0M527.5,304.1h0M528.0,305.8h0M528.5,307.6h0" stroke="#c2c2c2" stroke-width="4.0" stroke-linecap="round" fill="none"/>
<path d="M492.5,297.6h0M493.0,295.8h0M493.5,295.3h0M494.0,294.8h0M494.5,294.7h0M495.0,295.4h0M495.5,296.2h0M496.0,297.8h0M500.0,298.5h0M500.5,297.0h0M501.0,295.7h0M501.5,295.4h0M502.0,295.2h0M502.5,295.4h0M503.0,295.9h0M503.5,296.4h0M504.0,297.1h0M504.5,297.8h0M505.0,298.4h0M523.0,297.7h0M523.5,297.1h0M524.0,297.1h0M524.5,297.1h0M525.0,297.7h0M525.5,298.5h0" stroke="#f0901c" stroke-width="4.0" stroke-linecap="round" fill="none"/>
<path d="M49.97,742.90 L49.97,764.12 L51.28,758.87 L52.60,754.27 L53.91,752.30 L55.23,754.27 L56.15,758.87 L57.20,762.81 L58.51,765.44 L59.82,766.75 L61.14,768.07 L62.45,762.81 L63.77,758.87 L65.08,761.50 L66.39,757.56 L67.45,749.67 L68.37,747.04 L69.68,750.33 L70.99,753.61 L72.31,754.93 L73.62,758.21 L74.93,754.93 L76.25,756.90 L77.56,758.87 L78.88,758.87 L80.19,757.56 L81.50,755.58 L82.82,754.27 L84.13,756.24 L85.45,754.93 L86.76,751.64 L88.07,753.61 L89.39,756.24 L90.70,754.93 L92.02,756.24 L93.33,759.53 L94.64,760.84 L95.96,762.81 L97.27,764.78 L98.58,764.78 L99.90,763.47 L101.21,762.15 L102.53,760.18 L103.84,757.56 L105.15,755.58 L106.47,754.27 L107.78,752.30 L108.44,748.36 L108.83,741.13 L109.23,736.53 L109.75,731.93 L110.80,726.02 L111.99,720.77 L113.04,718.14 L114.35,718.80 L115.27,722.08 L116.06,726.68 L116.98,729.31 L118.29,730.62 L119.61,733.25 L120.92,737.19 L122.23,739.82 L123.55,738.50 L124.86,735.88 L126.18,732.59 L127.49,731.93 L128.80,733.25 L130.12,735.88 L131.43,736.53 L132.75,735.88 L134.06,734.56 L135.37,733.91 L135.88,733.91 L137.85,735.88 L139.82,736.53 L141.80,734.56 L143.77,732.59 L145.74,729.31 L147.71,727.99 L149.68,727.99 L151.65,729.96 L152.96,732.59 L154.28,731.28 L155.59,729.31 L157.56,729.96 L159.53,731.28 L161.50,732.59 L162.82,734.56 L164.13,736.53 L165.45,736.53 L167.42,736.53 L169.39,737.85 L170.70,739.82 L172.02,743.10 L173.33,747.04 L175.30,748.36 L177.27,750.33 L178.58,750.99 L179.90,749.02 L181.21,747.70 L182.53,749.02 L183.84,750.33 L185.15,750.33 L186.47,749.02 L187.78,748.36 L189.10,749.02 L190.41,750.33 L191.72,750.33 L193.04,749.67 L194.35,748.36 L195.67,746.39 L196.98,745.07 L198.29,746.39 L199.61,747.04 L200.92,748.36 L202.23,750.33 L203.55,751.64 L204.86,752.30 L206.18,750.33 L207.49,747.70 L208.80,747.04 L210.12,748.36 L211.43,750.33 L212.75,752.30 L214.06,755.58 L214.98,757.56 L215.23,757.56 L216.54,753.61 L217.85,751.64 L219.17,752.96 L220.48,753.61 L221.80,751.64 L223.11,748.36 L224.42,745.07 L225.74,743.10 L227.05,744.42 L228.37,747.04 L229.68,749.67 L230.99,750.33 L232.31,749.67 L233.62,748.36 L234.93,746.39 L236.25,744.42 L237.56,741.79 L238.88,739.16 L240.19,737.19 L241.50,736.80 L242.82,737.85 L244.13,740.47 L245.45,743.10 L246.76,744.42 L248.07,743.10 L249.39,739.16 L250.70,737.19 L252.67,736.53 L254.64,737.85 L256.61,737.19 L258.58,736.53 L260.56,735.22 L261.87,731.93 L263.18,729.31 L264.50,729.96 L265.81,733.91 L267.12,736.53 L268.44,735.88 L269.75,734.56 L271.07,733.25 L272.38,732.59 L273.69,733.25 L275.01,733.25 L276.32,734.56 L277.64,736.53 L278.95,740.47 L280.26,743.76 L281.58,747.04 L282.89,748.36 L284.21,745.73 L285.52,742.45 L286.83,741.79 L288.15,743.76 L289.46,745.73 L290.77,749.67 L292.09,754.27 L293.40,755.58 L294.32,755.45 L295.68,754.10 L297.03,755.45 L298.38,757.25 L299.73,758.15 L301.08,757.70 L302.43,758.15 L303.78,759.05 L305.14,758.60 L306.49,757.70 L307.84,757.25 L309.19,756.80 L310.54,758.15 L311.89,759.50 L313.24,758.60 L314.59,759.05 L315.95,762.66 L316.85,764.46 L318.20,763.56 L319.55,761.76 L320.90,762.66 L322.25,763.56 L323.60,763.11 L324.50,762.66 L324.50,742.90Z" fill="#dcdcdc" stroke="none"/>
<line x1="48.95" y1="742.90" x2="324.50" y2="742.90" stroke="#a8a8a8" stroke-width="1"/>
<line x1="88.31" y1="713.18" x2="88.31" y2="773.60" stroke="#7a7a7a" stroke-width="0.8" stroke-dasharray="1.1 2.1"/>
<line x1="186.73" y1="713.18" x2="186.73" y2="773.60" stroke="#7a7a7a" stroke-width="0.8" stroke-dasharray="1.1 2.1"/>
<path d="M50.0,764.1h0M50.5,762.1h0M51.0,760.1h0M51.5,758.2h0M52.0,756.5h0M52.5,754.7h0M53.0,753.7h0M53.5,753.0h0M54.0,752.4h0M54.5,753.1h0M55.0,753.9h0M55.5,755.5h0M55.7,756.7h0M56.0,758.0h0M56.5,760.1h0M57.0,762.0h0M57.5,763.4h0M58.0,764.4h0M58.5,765.4h0M59.0,765.9h0M59.5,766.4h0M60.0,766.9h0M60.5,767.4h0M61.0,767.9h0M61.5,766.7h0M62.0,764.7h0M62.5,762.8h0M63.0,761.3h0M63.5,759.8h0M64.0,759.3h0M64.5,760.3h0M65.0,761.3h0M65.5,760.3h0M66.0,758.8h0M66.5,757.0h0M66.7,755.1h0M67.0,753.2h0M67.2,751.4h0M67.5,749.6h0M68.0,748.2h0M68.5,747.3h0M69.0,748.6h0M69.5,749.8h0M70.0,751.1h0M70.5,752.3h0M71.0,753.6h0M71.5,754.1h0M72.0,754.6h0M72.5,755.3h0M73.0,756.6h0M73.5,757.8h0M74.0,757.3h0M74.5,756.1h0M75.0,755.0h0M75.5,755.7h0M76.0,756.5h0M76.5,757.2h0M77.0,758.0h0M77.5,758.7h0M78.0,758.9h0M78.5,758.9h0M79.0,758.8h0M79.5,758.3h0M80.0,757.8h0M80.5,757.1h0M81.0,756.4h0M81.5,755.6h0M82.0,755.1h0M82.5,754.6h0M83.0,754.5h0M83.5,755.2h0M84.0,756.0h0M84.5,755.9h0M85.0,755.4h0M85.5,754.9h0M86.0,753.6h0M86.5,752.4h0M87.0,752.0h0M87.5,752.7h0M88.0,753.5h0M88.5,754.4h0M89.0,755.4h0M89.5,756.2h0M90.0,755.7h0M90.5,755.2h0M91.0,755.2h0M91.5,755.7h0M92.0,756.2h0M92.5,757.4h0M93.0,758.6h0M93.5,759.7h0M94.0,760.2h0M94.5,760.7h0M95.0,761.3h0M95.5,762.1h0M96.0,762.8h0M96.5,763.6h0M97.0,764.3h0M97.5,764.8h0M98.0,764.8h0M98.5,764.8h0M99.0,764.4h0M99.5,763.9h0M100.0,763.4h0M100.5,762.9h0M101.0,762.4h0M101.5,761.8h0M102.0,761.0h0M102.5,760.3h0M103.0,759.3h0M103.5,758.3h0M104.0,757.4h0M104.5,756.6h0M105.0,755.9h0M105.5,755.3h0M106.0,754.8h0M106.5,754.3h0M107.0,753.5h0M107.5,752.8h0M108.0,751.2h0M108.2,749.5h0M108.5,747.8h0M173.5,747.1h0M174.0,747.5h0M174.5,747.8h0M175.0,748.1h0M175.5,748.5h0M176.0,749.0h0M176.5,749.5h0M177.0,750.0h0M177.5,750.4h0M178.0,750.7h0M178.5,750.9h0M179.0,750.4h0M179.5,749.7h0M180.0,748.9h0M180.5,748.4h0M181.0,747.9h0M181.5,748.0h0M182.0,748.5h0M182.5,749.0h0M183.0,749.5h0M183.5,750.0h0M184.0,750.3h0M184.5,750.3h0M185.0,750.3h0M185.5,750.0h0M186.0,749.5h0M186.5,749.0h0M187.0,748.8h0M187.5,748.5h0M188.0,748.5h0M188.5,748.7h0M189.0,749.0h0M189.5,749.4h0M190.0,749.9h0M190.5,750.3h0M191.0,750.3h0M191.5,750.3h0M192.0,750.2h0M192.5,750.0h0M193.0,749.7h0M193.5,749.2h0M194.0,748.7h0M194.5,748.2h0M195.0,747.4h0M195.5,746.7h0M199.0,746.7h0M199.5,747.0h0M200.0,747.4h0M200.5,747.9h0M201.0,748.4h0M201.5,749.2h0M202.0,749.9h0M202.5,750.6h0M203.0,751.1h0M203.5,751.6h0M204.0,751.9h0M204.5,752.1h0M205.0,752.1h0M205.5,751.4h0M206.0,750.6h0M206.5,749.7h0M207.0,748.7h0M207.5,747.7h0M208.0,747.5h0M208.5,747.2h0M209.0,747.2h0M209.5,747.7h0M210.0,748.2h0M210.5,748.9h0M211.0,749.6h0M211.5,750.4h0M212.0,751.1h0M212.5,751.9h0M213.0,752.9h0M213.5,754.1h0M214.0,755.4h0M214.5,756.5h0M215.0,757.5h0M215.5,756.8h0M216.0,755.3h0M216.5,753.8h0M217.0,753.0h0M217.5,752.2h0M218.0,751.8h0M218.5,752.3h0M219.0,752.8h0M219.5,753.1h0M220.0,753.4h0M220.5,753.6h0M221.0,752.9h0M221.5,752.1h0M222.0,751.2h0M222.5,750.0h0M223.0,748.7h0M223.5,747.5h0M228.5,747.3h0M229.0,748.3h0M229.5,749.3h0M230.0,749.8h0M230.5,750.1h0M231.0,750.3h0M231.5,750.1h0M232.0,749.8h0M232.5,749.5h0M233.0,749.0h0M233.5,748.5h0M234.0,747.8h0M234.5,747.1h0M281.5,746.8h0M282.0,747.4h0M282.5,747.9h0M283.0,748.2h0M283.5,747.2h0M290.0,747.3h0M290.5,748.8h0M291.0,750.4h0M291.5,752.1h0M292.0,753.9h0M292.5,754.7h0M293.0,755.2h0M293.5,755.6h0M294.0,755.5h0M294.5,755.3h0M295.0,754.8h0M295.5,754.3h0M296.0,754.4h0M296.5,754.9h0M297.0,755.4h0M297.5,756.0h0M298.0,756.7h0M298.5,757.3h0M299.0,757.6h0M299.5,758.0h0M300.0,758.1h0M300.5,757.9h0M301.0,757.7h0M301.5,757.8h0M302.0,758.0h0M302.5,758.2h0M303.0,758.5h0M303.5,758.8h0M304.0,759.0h0M304.5,758.8h0M305.0,758.7h0M305.5,758.4h0M306.0,758.0h0M306.5,757.7h0M307.0,757.5h0M307.5,757.4h0M308.0,757.2h0M308.5,757.0h0M309.0,756.9h0M309.5,757.1h0M310.0,757.6h0M310.5,758.1h0M311.0,758.6h0M311.5,759.1h0M312.0,759.5h0M312.5,759.1h0M313.0,758.8h0M313.5,758.7h0M314.0,758.8h0M314.5,759.0h0M315.0,760.1h0M315.5,761.4h0M316.0,762.7h0M316.5,763.7h0M317.0,764.4h0M317.5,764.0h0M318.0,763.7h0M318.5,763.2h0M319.0,762.5h0M319.5,761.9h0M320.0,762.0h0M320.5,762.4h0M321.0,762.7h0M321.5,763.0h0M322.0,763.4h0M322.5,763.5h0M323.0,763.3h0M323.5,763.2h0M324.0,762.9h0M324.5,762.7h0M325.0,762.7h0" stroke="#707070" stroke-width="4.0" stroke-linecap="round" fill="none"/>
<path d="M108.6,745.7h0M108.7,743.6h0M108.8,741.6h0M109.0,739.5h0M122.0,739.3h0M122.5,739.6h0M170.5,739.5h0M171.0,740.5h0M171.5,741.7h0M172.0,743.0h0M172.5,744.5h0M173.0,746.0h0M196.0,746.1h0M196.5,745.6h0M197.0,745.1h0M197.5,745.6h0M198.0,746.1h0M198.5,746.5h0M224.0,746.2h0M224.5,745.0h0M225.0,744.3h0M225.5,743.5h0M226.0,743.3h0M226.5,743.8h0M227.0,744.3h0M227.5,745.3h0M228.0,746.3h0M235.0,746.3h0M235.5,745.6h0M236.0,744.8h0M236.5,744.0h0M237.0,743.0h0M237.5,742.0h0M238.0,741.0h0M238.5,740.0h0M244.0,740.2h0M244.5,741.2h0M245.0,742.2h0M245.5,743.1h0M246.0,743.6h0M246.5,744.1h0M247.0,744.2h0M247.5,743.7h0M248.0,743.2h0M248.5,741.9h0M249.0,740.4h0M279.0,740.5h0M279.5,741.8h0M280.0,743.0h0M280.5,744.3h0M281.0,745.5h0M284.0,746.2h0M284.5,745.1h0M285.0,743.8h0M285.5,742.6h0M286.0,742.2h0M286.5,742.0h0M287.0,742.0h0M287.5,742.7h0M288.0,743.5h0M288.5,744.2h0M289.0,745.0h0M289.5,745.8h0" stroke="#c2c2c2" stroke-width="4.0" stroke-linecap="round" fill="none"/>
<path d="M109.1,737.8h0M109.3,736.1h0M109.5,734.4h0M109.7,732.6h0M110.0,730.7h0M110.2,729.3h0M110.5,727.9h0M110.7,726.6h0M111.0,725.3h0M111.2,724.2h0M111.5,723.1h0M111.7,721.9h0M112.0,720.8h0M112.5,719.6h0M113.0,718.3h0M113.5,718.4h0M114.0,718.6h0M114.5,719.2h0M115.0,721.0h0M115.2,722.1h0M115.5,723.2h0M115.7,724.7h0M116.0,726.2h0M116.5,727.9h0M117.0,729.3h0M117.5,729.8h0M118.0,730.3h0M118.5,731.0h0M119.0,732.0h0M119.5,733.0h0M120.0,734.3h0M120.5,735.8h0M121.0,737.3h0M121.5,738.3h0M123.0,739.1h0M123.5,738.6h0M124.0,737.7h0M124.5,736.7h0M125.0,735.6h0M125.5,734.4h0M126.0,733.1h0M126.5,732.4h0M127.0,732.2h0M127.5,731.9h0M128.0,732.4h0M128.5,732.9h0M129.0,733.6h0M129.5,734.6h0M130.0,735.6h0M130.5,736.1h0M131.0,736.3h0M131.5,736.5h0M132.0,736.3h0M132.5,736.0h0M133.0,735.7h0M133.5,735.2h0M134.0,734.7h0M134.5,734.4h0M135.0,734.1h0M135.5,733.9h0M136.0,734.0h0M136.5,734.5h0M137.0,735.0h0M137.5,735.5h0M138.0,735.9h0M138.5,736.1h0M139.0,736.2h0M139.5,736.4h0M140.0,736.4h0M140.5,735.9h0M141.0,735.4h0M141.5,734.9h0M142.0,734.4h0M142.5,733.9h0M143.0,733.4h0M143.5,732.9h0M144.0,732.3h0M144.5,731.4h0M145.0,730.6h0M145.5,729.8h0M146.0,729.2h0M146.5,728.8h0M147.0,728.5h0M147.5,728.2h0M148.0,728.0h0M148.5,728.0h0M149.0,728.0h0M149.5,728.0h0M150.0,728.3h0M150.5,728.8h0M151.0,729.3h0M151.5,729.8h0M152.0,730.6h0M152.5,731.6h0M153.0,732.6h0M153.5,732.1h0M154.0,731.6h0M154.5,731.0h0M155.0,730.2h0M155.5,729.5h0M156.0,729.4h0M156.5,729.6h0M157.0,729.8h0M157.5,729.9h0M158.0,730.2h0M158.5,730.6h0M159.0,730.9h0M159.5,731.2h0M160.0,731.6h0M160.5,731.9h0M161.0,732.2h0M161.5,732.6h0M162.0,733.3h0M162.5,734.0h0M163.0,734.8h0M163.5,735.5h0M164.0,736.3h0M164.5,736.5h0M165.0,736.5h0M165.5,736.5h0M166.0,736.5h0M166.5,736.5h0M167.0,736.5h0M167.5,736.6h0M168.0,736.9h0M168.5,737.2h0M169.0,737.6h0M169.5,738.0h0M170.0,738.7h0M239.0,739.0h0M239.5,738.3h0M240.0,737.5h0M240.5,737.1h0M241.0,737.0h0M241.5,736.8h0M242.0,737.2h0M242.5,737.6h0M243.0,738.2h0M243.5,739.2h0M249.5,739.0h0M250.0,738.3h0M250.5,737.5h0M251.0,737.1h0M251.5,736.9h0M252.0,736.8h0M252.5,736.6h0M253.0,736.7h0M253.5,737.1h0M254.0,737.4h0M254.5,737.7h0M255.0,737.7h0M255.5,737.6h0M256.0,737.4h0M256.5,737.2h0M257.0,737.1h0M257.5,736.9h0M258.0,736.7h0M258.5,736.6h0M259.0,736.3h0M259.5,735.9h0M260.0,735.6h0M260.5,735.3h0M261.0,734.2h0M261.5,732.9h0M262.0,731.7h0M262.5,730.7h0M263.0,729.7h0M263.5,729.5h0M264.0,729.7h0M264.5,730.0h0M265.0,731.4h0M265.5,732.9h0M266.0,734.2h0M266.5,735.2h0M267.0,736.2h0M267.5,736.4h0M268.0,736.1h0M268.5,735.8h0M269.0,735.3h0M269.5,734.8h0M270.0,734.3h0M270.5,733.8h0M271.0,733.3h0M271.5,733.0h0M272.0,732.8h0M272.5,732.6h0M273.0,732.9h0M273.5,733.1h0M274.0,733.2h0M274.5,733.2h0M275.0,733.2h0M275.5,733.7h0M276.0,734.2h0M276.5,734.8h0M277.0,735.5h0M277.5,736.3h0M278.0,737.5h0M278.5,739.0h0" stroke="#7a45e6" stroke-width="4.0" stroke-linecap="round" fill="none"/>
<path d="M393.97,742.90 L393.97,762.81 L395.28,760.18 L396.60,757.56 L397.91,755.58 L399.23,754.27 L400.54,754.93 L401.85,757.56 L403.17,760.84 L404.48,762.81 L405.14,763.47 L405.80,754.93 L407.11,744.42 L407.77,740.47 L409.08,744.42 L410.39,749.67 L411.71,752.30 L413.02,741.79 L414.34,742.45 L415.65,743.10 L416.96,744.42 L418.28,748.36 L418.93,754.93 L419.59,758.87 L420.91,761.50 L422.22,765.44 L423.53,768.07 L424.85,764.12 L426.16,757.56 L427.47,754.93 L428.79,756.24 L430.10,758.87 L431.42,762.15 L432.73,761.50 L434.04,758.87 L435.36,754.93 L436.67,752.30 L437.99,753.61 L439.30,757.56 L440.61,760.18 L441.93,762.15 L443.24,762.81 L444.56,764.12 L445.87,763.47 L447.18,761.50 L448.50,758.87 L449.81,756.24 L451.12,752.30 L452.18,748.36 L452.70,744.42 L453.10,740.47 L453.75,735.88 L454.80,731.28 L456.12,727.99 L457.69,726.68 L459.01,729.31 L460.32,731.28 L461.64,729.31 L463.61,729.96 L464.92,731.28 L466.23,733.25 L467.55,735.88 L468.86,737.85 L470.18,738.50 L471.49,736.53 L472.80,737.85 L474.12,739.82 L475.43,740.47 L476.75,741.13 L478.06,740.47 L479.37,739.16 L479.88,737.19 L481.85,736.53 L483.82,735.88 L485.80,735.22 L487.77,734.56 L489.74,733.91 L491.05,732.59 L492.37,731.28 L494.34,730.62 L496.31,731.93 L498.28,733.91 L500.25,736.53 L502.22,739.16 L504.19,740.47 L506.16,741.79 L508.13,743.10 L510.10,741.79 L511.42,741.13 L512.73,742.45 L514.04,744.42 L515.36,745.73 L516.67,747.70 L518.64,748.36 L520.61,749.67 L522.58,750.33 L524.56,750.99 L526.53,750.99 L528.50,750.99 L530.47,749.67 L532.44,748.36 L534.41,747.70 L536.38,747.70 L538.35,748.36 L540.32,748.36 L542.29,747.70 L544.26,748.36 L546.23,749.67 L547.55,750.99 L548.86,750.99 L550.83,749.02 L552.80,747.04 L554.12,747.04 L555.43,749.02 L556.75,750.99 L558.06,752.30 L559.88,750.33 L561.85,748.36 L563.82,748.36 L565.80,748.36 L567.11,746.39 L568.42,743.76 L569.74,743.10 L571.71,744.42 L573.68,745.73 L575.65,746.39 L577.62,747.04 L579.59,745.73 L581.56,744.42 L583.53,743.10 L585.50,742.45 L586.82,743.76 L588.13,745.73 L590.10,747.70 L592.07,748.36 L594.04,748.36 L596.02,748.36 L597.99,749.02 L599.96,749.02 L601.93,749.02 L603.90,749.67 L605.87,749.02 L607.18,747.04 L608.50,748.36 L609.81,751.64 L611.78,750.99 L613.75,749.67 L615.72,749.02 L617.04,747.70 L618.35,746.39 L619.67,747.70 L620.98,750.33 L622.95,752.30 L624.92,751.64 L626.89,750.33 L628.86,749.67 L630.18,750.33 L631.49,753.61 L632.80,758.87 L634.12,762.15 L636.09,765.44 L638.06,766.10 L639.41,765.36 L640.77,764.46 L642.57,763.56 L643.92,762.66 L644.82,759.95 L646.17,758.15 L647.52,759.50 L648.87,760.86 L650.23,761.76 L651.58,762.66 L652.93,762.66 L654.28,761.76 L655.63,762.66 L656.98,764.01 L658.33,763.56 L659.68,764.46 L661.04,765.36 L662.39,764.01 L663.74,761.76 L665.09,760.86 L666.44,761.76 L667.79,761.76 L669.14,761.31 L669.14,742.90Z" fill="#dcdcdc" stroke="none"/>
<line x1="393.50" y1="742.90" x2="669.20" y2="742.90" stroke="#a8a8a8" stroke-width="1"/>
<line x1="432.89" y1="713.18" x2="432.89" y2="773.60" stroke="#7a7a7a" stroke-width="0.8" stroke-dasharray="1.1 2.1"/>
<line x1="531.35" y1="713.18" x2="531.35" y2="773.60" stroke="#7a7a7a" stroke-width="0.8" stroke-dasharray="1.1 2.1"/>
<path d="M394.0,762.8h0M394.5,761.8h0M395.0,760.8h0M395.5,759.8h0M396.0,758.8h0M396.5,757.8h0M397.0,757.0h0M397.5,756.2h0M398.0,755.5h0M398.5,755.0h0M399.0,754.5h0M399.5,754.4h0M400.0,754.6h0M400.5,754.9h0M401.0,755.8h0M401.5,756.8h0M402.0,757.8h0M402.5,759.1h0M403.0,760.3h0M403.5,761.3h0M404.0,762.0h0M404.5,762.8h0M405.0,763.3h0M405.2,761.2h0M405.5,759.2h0M405.6,757.3h0M405.8,755.4h0M406.0,753.5h0M406.2,751.5h0M406.5,749.5h0M406.7,747.5h0M410.0,748.0h0M410.5,749.8h0M411.0,750.8h0M411.5,751.8h0M412.0,750.2h0M412.2,748.2h0M418.0,747.4h0M418.2,748.9h0M418.5,750.3h0M418.6,751.9h0M418.8,753.5h0M419.0,755.1h0M419.2,756.6h0M419.5,758.1h0M420.0,759.6h0M420.5,760.6h0M421.0,761.7h0M421.5,763.2h0M422.0,764.7h0M422.5,765.9h0M423.0,766.9h0M423.5,767.9h0M424.0,766.8h0M424.5,765.3h0M425.0,763.5h0M425.2,762.3h0M425.5,761.0h0M425.7,759.8h0M426.0,758.5h0M426.5,756.9h0M427.0,755.9h0M427.5,754.9h0M428.0,755.4h0M428.5,755.9h0M429.0,756.6h0M429.5,757.6h0M430.0,758.6h0M430.5,759.8h0M431.0,761.0h0M431.5,762.1h0M432.0,761.9h0M432.5,761.6h0M433.0,761.0h0M433.5,760.0h0M434.0,759.0h0M434.5,757.6h0M435.0,756.1h0M435.5,754.7h0M436.0,753.7h0M436.5,752.7h0M437.0,752.6h0M437.5,753.1h0M438.0,753.6h0M438.5,755.1h0M439.0,756.6h0M439.5,757.9h0M440.0,758.9h0M440.5,759.9h0M441.0,760.7h0M441.5,761.5h0M442.0,762.2h0M442.5,762.4h0M443.0,762.7h0M443.5,763.0h0M444.0,763.5h0M444.5,764.0h0M445.0,763.9h0M445.5,763.7h0M446.0,763.3h0M446.5,762.6h0M447.0,761.8h0M447.5,760.9h0M448.0,759.9h0M448.5,758.9h0M449.0,757.9h0M449.5,756.9h0M450.0,755.8h0M450.5,754.3h0M451.0,752.8h0M451.5,751.0h0M452.0,749.1h0M452.2,747.6h0M516.0,746.6h0M516.5,747.4h0M517.0,747.8h0M517.5,748.0h0M518.0,748.1h0M518.5,748.3h0M519.0,748.6h0M519.5,748.9h0M520.0,749.2h0M520.5,749.6h0M521.0,749.8h0M521.5,750.0h0M522.0,750.1h0M522.5,750.3h0M523.0,750.5h0M523.5,750.6h0M524.0,750.8h0M524.5,751.0h0M525.0,751.0h0M525.5,751.0h0M526.0,751.0h0M526.5,751.0h0M527.0,751.0h0M527.5,751.0h0M528.0,751.0h0M528.5,751.0h0M529.0,750.7h0M529.5,750.3h0M530.0,750.0h0M530.5,749.7h0M531.0,749.3h0M531.5,749.0h0M532.0,748.7h0M532.5,748.3h0M533.0,748.2h0M533.5,748.0h0M534.0,747.8h0M534.5,747.7h0M535.0,747.7h0M535.5,747.7h0M536.0,747.7h0M536.5,747.7h0M537.0,747.9h0M537.5,748.1h0M538.0,748.2h0M538.5,748.4h0M539.0,748.4h0M539.5,748.4h0M540.0,748.4h0M540.5,748.3h0M541.0,748.1h0M541.5,748.0h0M542.0,747.8h0M542.5,747.8h0M543.0,747.9h0M543.5,748.1h0M544.0,748.3h0M544.5,748.5h0M545.0,748.8h0M545.5,749.2h0M546.0,749.5h0M546.5,749.9h0M547.0,750.4h0M547.5,750.9h0M548.0,751.0h0M548.5,751.0h0M549.0,750.9h0M549.5,750.4h0M550.0,749.9h0M550.5,749.4h0M551.0,748.9h0M551.5,748.4h0M552.0,747.9h0M552.5,747.4h0M553.0,747.0h0M553.5,747.0h0M554.0,747.0h0M554.5,747.6h0M555.0,748.3h0M555.5,749.1h0M556.0,749.8h0M556.5,750.6h0M557.0,751.2h0M557.5,751.7h0M558.0,752.2h0M558.5,751.9h0M559.0,751.3h0M559.5,750.8h0M560.0,750.2h0M560.5,749.7h0M561.0,749.2h0M561.5,748.7h0M562.0,748.4h0M562.5,748.4h0M563.0,748.4h0M563.5,748.4h0M564.0,748.4h0M564.5,748.4h0M565.0,748.4h0M565.5,748.4h0M566.0,748.1h0M566.5,747.3h0M567.0,746.6h0M576.5,746.7h0M577.0,746.8h0M577.5,747.0h0M578.0,746.8h0M589.0,746.6h0M589.5,747.1h0M590.0,747.6h0M590.5,747.8h0M591.0,748.0h0M591.5,748.2h0M592.0,748.3h0M592.5,748.4h0M593.0,748.4h0M593.5,748.4h0M594.0,748.4h0M594.5,748.4h0M595.0,748.4h0M595.5,748.4h0M596.0,748.4h0M596.5,748.5h0M597.0,748.7h0M597.5,748.8h0M598.0,749.0h0M598.5,749.0h0M599.0,749.0h0M599.5,749.0h0M600.0,749.0h0M600.5,749.0h0M601.0,749.0h0M601.5,749.0h0M602.0,749.0h0M602.5,749.2h0M603.0,749.4h0M603.5,749.5h0M604.0,749.6h0M604.5,749.5h0M605.0,749.3h0M605.5,749.1h0M606.0,748.9h0M606.5,748.1h0M607.0,747.4h0M607.5,747.3h0M608.0,747.8h0M608.5,748.3h0M609.0,749.5h0M609.5,750.8h0M610.0,751.6h0M610.5,751.4h0M611.0,751.3h0M611.5,751.1h0M612.0,750.9h0M612.5,750.5h0M613.0,750.2h0M613.5,749.9h0M614.0,749.6h0M614.5,749.4h0M615.0,749.3h0M615.5,749.1h0M616.0,748.8h0M616.5,748.3h0M617.0,747.8h0M617.5,747.3h0M618.0,746.8h0M619.0,747.0h0M619.5,747.5h0M620.0,748.3h0M620.5,749.3h0M621.0,750.3h0M621.5,750.8h0M622.0,751.3h0M622.5,751.8h0M623.0,752.3h0M623.5,752.1h0M624.0,752.0h0M624.5,751.8h0M625.0,751.6h0M625.5,751.3h0M626.0,750.9h0M626.5,750.6h0M627.0,750.3h0M627.5,750.1h0M628.0,750.0h0M628.5,749.8h0M629.0,749.7h0M629.5,750.0h0M630.0,750.2h0M630.5,751.1h0M631.0,752.3h0M631.5,753.6h0M632.0,755.5h0M632.5,757.5h0M633.0,759.3h0M633.5,760.5h0M634.0,761.8h0M634.5,762.7h0M635.0,763.6h0M635.5,764.4h0M636.0,765.2h0M636.5,765.6h0M637.0,765.7h0M637.5,765.9h0M638.0,766.1h0M638.5,765.9h0M639.0,765.6h0M639.5,765.3h0M640.0,765.0h0M640.5,764.7h0M641.0,764.4h0M641.5,764.1h0M642.0,763.9h0M642.5,763.6h0M643.0,763.3h0M643.5,763.0h0M644.0,762.5h0M644.5,761.0h0M645.0,759.8h0M645.5,759.1h0M646.0,758.4h0M646.5,758.5h0M647.0,759.0h0M647.5,759.5h0M648.0,760.0h0M648.5,760.5h0M649.0,760.9h0M649.5,761.3h0M650.0,761.6h0M650.5,761.9h0M651.0,762.3h0M651.5,762.6h0M652.0,762.7h0M652.5,762.7h0M653.0,762.6h0M653.5,762.3h0M654.0,762.0h0M654.5,761.9h0M655.0,762.2h0M655.5,762.6h0M656.0,763.0h0M656.5,763.5h0M657.0,764.0h0M657.5,763.8h0M658.0,763.7h0M658.5,763.7h0M659.0,764.0h0M659.5,764.3h0M660.0,764.7h0M660.5,765.0h0M661.0,765.3h0M661.5,764.9h0M662.0,764.4h0M662.5,763.9h0M663.0,763.0h0M663.5,762.2h0M664.0,761.6h0M664.5,761.3h0M665.0,760.9h0M665.5,761.1h0M666.0,761.4h0M666.5,761.8h0M667.0,761.8h0M667.5,761.8h0M668.0,761.7h0M668.5,761.5h0M669.0,761.4h0M669.5,761.3h0" stroke="#707070" stroke-width="4.0" stroke-linecap="round" fill="none"/>
<path d="M407.0,745.5h0M407.2,743.9h0M407.5,742.2h0M408.0,741.1h0M408.5,742.6h0M409.0,744.1h0M409.5,746.0h0M412.5,746.2h0M412.7,744.2h0M413.0,742.2h0M413.5,742.0h0M414.0,742.3h0M414.5,742.5h0M415.0,742.8h0M415.5,743.0h0M416.0,743.4h0M416.5,743.9h0M417.0,744.4h0M417.5,745.9h0M452.5,746.1h0M452.6,744.7h0M452.8,743.2h0M453.0,741.7h0M453.2,739.8h0M474.0,739.6h0M474.5,740.0h0M475.0,740.2h0M475.5,740.5h0M476.0,740.7h0M476.5,741.0h0M477.0,741.0h0M477.5,740.8h0M478.0,740.5h0M478.5,740.1h0M479.0,739.6h0M502.5,739.3h0M503.0,739.7h0M503.5,740.0h0M504.0,740.3h0M504.5,740.7h0M505.0,741.0h0M505.5,741.3h0M506.0,741.7h0M506.5,742.0h0M507.0,742.3h0M507.5,742.7h0M508.0,743.0h0M508.5,742.9h0M509.0,742.5h0M509.5,742.2h0M510.0,741.9h0M510.5,741.6h0M511.0,741.4h0M511.5,741.2h0M512.0,741.7h0M512.5,742.2h0M513.0,742.8h0M513.5,743.6h0M514.0,744.3h0M514.5,744.8h0M515.0,745.3h0M515.5,745.9h0M567.5,745.7h0M568.0,744.7h0M568.5,743.7h0M569.0,743.5h0M569.5,743.2h0M570.0,743.3h0M570.5,743.6h0M571.0,743.9h0M571.5,744.3h0M572.0,744.6h0M572.5,744.9h0M573.0,745.3h0M573.5,745.6h0M574.0,745.8h0M574.5,746.0h0M575.0,746.2h0M575.5,746.3h0M576.0,746.5h0M578.5,746.5h0M579.0,746.1h0M579.5,745.8h0M580.0,745.5h0M580.5,745.1h0M581.0,744.8h0M581.5,744.5h0M582.0,744.1h0M582.5,743.8h0M583.0,743.5h0M583.5,743.1h0M584.0,743.0h0M584.5,742.8h0M585.0,742.6h0M585.5,742.5h0M586.0,742.9h0M586.5,743.4h0M587.0,744.0h0M587.5,744.7h0M588.0,745.5h0M588.5,746.1h0M618.5,746.5h0" stroke="#c2c2c2" stroke-width="4.0" stroke-linecap="round" fill="none"/>
<path d="M453.5,737.8h0M453.7,736.4h0M454.0,734.9h0M454.2,733.8h0M454.5,732.7h0M455.0,730.9h0M455.5,729.6h0M456.0,728.4h0M456.5,727.7h0M457.0,727.3h0M457.5,726.9h0M458.0,727.2h0M458.5,728.2h0M459.0,729.2h0M459.5,730.0h0M460.0,730.8h0M460.5,731.1h0M461.0,730.3h0M461.5,729.6h0M462.0,729.4h0M462.5,729.6h0M463.0,729.8h0M463.5,729.9h0M464.0,730.3h0M464.5,730.8h0M465.0,731.4h0M465.5,732.1h0M466.0,732.9h0M466.5,733.7h0M467.0,734.7h0M467.5,735.7h0M468.0,736.5h0M468.5,737.3h0M469.0,737.9h0M469.5,738.2h0M470.0,738.4h0M470.5,738.1h0M471.0,737.3h0M471.5,736.6h0M472.0,737.0h0M472.5,737.5h0M473.0,738.1h0M473.5,738.8h0M479.5,738.8h0M480.0,737.2h0M480.5,737.0h0M481.0,736.8h0M481.5,736.7h0M482.0,736.5h0M482.5,736.3h0M483.0,736.2h0M483.5,736.0h0M484.0,735.8h0M484.5,735.7h0M485.0,735.5h0M485.5,735.3h0M486.0,735.2h0M486.5,735.0h0M487.0,734.8h0M487.5,734.7h0M488.0,734.5h0M488.5,734.3h0M489.0,734.2h0M489.5,734.0h0M490.0,733.7h0M490.5,733.2h0M491.0,732.7h0M491.5,732.2h0M492.0,731.7h0M492.5,731.2h0M493.0,731.1h0M493.5,730.9h0M494.0,730.7h0M494.5,730.7h0M495.0,731.0h0M495.5,731.4h0M496.0,731.7h0M496.5,732.1h0M497.0,732.6h0M497.5,733.1h0M498.0,733.6h0M498.5,734.2h0M499.0,734.8h0M499.5,735.5h0M500.0,736.2h0M500.5,736.8h0M501.0,737.5h0M501.5,738.2h0M502.0,738.8h0" stroke="#5ee096" stroke-width="4.0" stroke-linecap="round" fill="none"/>
<line x1="48.95" y1="28.30" x2="48.95" y2="245.60" stroke="#262626" stroke-width="1.2"/>
<line x1="48.95" y1="28.30" x2="51.55" y2="28.30" stroke="#262626" stroke-width="1"/>
<text x="43.95" y="32.50" font-size="10" text-anchor="end" fill="#262626" >0.03</text>
<line x1="48.95" y1="71.70" x2="51.55" y2="71.70" stroke="#262626" stroke-width="1"/>
<text x="43.95" y="75.90" font-size="10" text-anchor="end" fill="#262626" >0.02</text>
<line x1="48.95" y1="115.10" x2="51.55" y2="115.10" stroke="#262626" stroke-width="1"/>
<text x="43.95" y="119.30" font-size="10" text-anchor="end" fill="#262626" >0.01</text>
<line x1="48.95" y1="158.50" x2="51.55" y2="158.50" stroke="#262626" stroke-width="1"/>
<text x="43.95" y="162.70" font-size="10" text-anchor="end" fill="#262626" >0</text>
<line x1="48.95" y1="201.90" x2="51.55" y2="201.90" stroke="#262626" stroke-width="1"/>
<text x="43.95" y="206.10" font-size="10" text-anchor="end" fill="#262626" >-0.01</text>
<line x1="48.95" y1="245.30" x2="51.55" y2="245.30" stroke="#262626" stroke-width="1"/>
<text x="43.95" y="249.50" font-size="10" text-anchor="end" fill="#262626" >-0.02</text>
<line x1="48.95" y1="245.60" x2="325.00" y2="245.60" stroke="#262626" stroke-width="1.4"/>
<line x1="48.95" y1="245.60" x2="48.95" y2="243.00" stroke="#262626" stroke-width="1"/>
<text x="48.95" y="260.40" font-size="10" text-anchor="middle" fill="#262626" >-200</text>
<line x1="88.31" y1="245.60" x2="88.31" y2="243.00" stroke="#262626" stroke-width="1"/>
<text x="88.31" y="260.40" font-size="10" text-anchor="middle" fill="#262626" >0</text>
<line x1="127.68" y1="245.60" x2="127.68" y2="243.00" stroke="#262626" stroke-width="1"/>
<text x="127.68" y="260.40" font-size="10" text-anchor="middle" fill="#262626" >200</text>
<line x1="167.04" y1="245.60" x2="167.04" y2="243.00" stroke="#262626" stroke-width="1"/>
<text x="167.04" y="260.40" font-size="10" text-anchor="middle" fill="#262626" >400</text>
<line x1="206.41" y1="245.60" x2="206.41" y2="243.00" stroke="#262626" stroke-width="1"/>
<text x="206.41" y="260.40" font-size="10" text-anchor="middle" fill="#262626" >600</text>
<line x1="245.77" y1="245.60" x2="245.77" y2="243.00" stroke="#262626" stroke-width="1"/>
<text x="245.77" y="260.40" font-size="10" text-anchor="middle" fill="#262626" >800</text>
<line x1="285.14" y1="245.60" x2="285.14" y2="243.00" stroke="#262626" stroke-width="1"/>
<text x="285.14" y="260.40" font-size="10" text-anchor="middle" fill="#262626" >1000</text>
<line x1="324.50" y1="245.60" x2="324.50" y2="243.00" stroke="#262626" stroke-width="1"/>
<text x="324.50" y="260.40" font-size="10" text-anchor="middle" fill="#262626" >1200</text>
<line x1="48.95" y1="283.10" x2="48.95" y2="344.00" stroke="#262626" stroke-width="1.2"/>
<line x1="48.95" y1="283.10" x2="51.55" y2="283.10" stroke="#262626" stroke-width="1"/>
<text x="45.05" y="282.70" font-size="7.9" text-anchor="end" fill="#262626">2</text>
<text x="40.85" y="288.90" font-size="10.7" text-anchor="end" fill="#262626">10</text>
<line x1="48.95" y1="303.40" x2="51.55" y2="303.40" stroke="#262626" stroke-width="1"/>
<text x="45.05" y="303.00" font-size="7.9" text-anchor="end" fill="#262626">0</text>
<text x="40.85" y="309.20" font-size="10.7" text-anchor="end" fill="#262626">10</text>
<line x1="48.95" y1="323.70" x2="51.55" y2="323.70" stroke="#262626" stroke-width="1"/>
<text x="45.05" y="323.30" font-size="7.9" text-anchor="end" fill="#262626">-2</text>
<text x="38.05" y="329.50" font-size="10.7" text-anchor="end" fill="#262626">10</text>
<line x1="48.95" y1="344.00" x2="51.55" y2="344.00" stroke="#262626" stroke-width="1"/>
<text x="45.05" y="343.60" font-size="7.9" text-anchor="end" fill="#262626">-4</text>
<text x="38.05" y="349.80" font-size="10.7" text-anchor="end" fill="#262626">10</text>
<line x1="48.95" y1="344.00" x2="325.00" y2="344.00" stroke="#262626" stroke-width="1.4"/>
<line x1="48.95" y1="344.00" x2="48.95" y2="341.40" stroke="#262626" stroke-width="1"/>
<text x="48.95" y="359.00" font-size="10" text-anchor="middle" fill="#262626" >-200</text>
<line x1="88.31" y1="344.00" x2="88.31" y2="341.40" stroke="#262626" stroke-width="1"/>
<text x="88.31" y="359.00" font-size="10" text-anchor="middle" fill="#262626" >0</text>
<line x1="127.68" y1="344.00" x2="127.68" y2="341.40" stroke="#262626" stroke-width="1"/>
<text x="127.68" y="359.00" font-size="10" text-anchor="middle" fill="#262626" >200</text>
<line x1="167.04" y1="344.00" x2="167.04" y2="341.40" stroke="#262626" stroke-width="1"/>
<text x="167.04" y="359.00" font-size="10" text-anchor="middle" fill="#262626" >400</text>
<line x1="206.41" y1="344.00" x2="206.41" y2="341.40" stroke="#262626" stroke-width="1"/>
<text x="206.41" y="359.00" font-size="10" text-anchor="middle" fill="#262626" >600</text>
<line x1="245.77" y1="344.00" x2="245.77" y2="341.40" stroke="#262626" stroke-width="1"/>
<text x="245.77" y="359.00" font-size="10" text-anchor="middle" fill="#262626" >800</text>
<line x1="285.14" y1="344.00" x2="285.14" y2="341.40" stroke="#262626" stroke-width="1"/>
<text x="285.14" y="359.00" font-size="10" text-anchor="middle" fill="#262626" >1000</text>
<line x1="324.50" y1="344.00" x2="324.50" y2="341.40" stroke="#262626" stroke-width="1"/>
<text x="324.50" y="359.00" font-size="10" text-anchor="middle" fill="#262626" >1200</text>
<line x1="48.95" y1="462.40" x2="48.95" y2="680.00" stroke="#262626" stroke-width="1.2"/>
<line x1="48.95" y1="462.40" x2="51.55" y2="462.40" stroke="#262626" stroke-width="1"/>
<text x="43.95" y="466.60" font-size="10" text-anchor="end" fill="#262626" >0.2</text>
<line x1="48.95" y1="504.45" x2="51.55" y2="504.45" stroke="#262626" stroke-width="1"/>
<text x="43.95" y="508.65" font-size="10" text-anchor="end" fill="#262626" >0.15</text>
<line x1="48.95" y1="546.50" x2="51.55" y2="546.50" stroke="#262626" stroke-width="1"/>
<text x="43.95" y="550.70" font-size="10" text-anchor="end" fill="#262626" >0.1</text>
<line x1="48.95" y1="588.55" x2="51.55" y2="588.55" stroke="#262626" stroke-width="1"/>
<text x="43.95" y="592.75" font-size="10" text-anchor="end" fill="#262626" >0.05</text>
<line x1="48.95" y1="630.60" x2="51.55" y2="630.60" stroke="#262626" stroke-width="1"/>
<text x="43.95" y="634.80" font-size="10" text-anchor="end" fill="#262626" >0</text>
<line x1="48.95" y1="672.65" x2="51.55" y2="672.65" stroke="#262626" stroke-width="1"/>
<text x="43.95" y="676.85" font-size="10" text-anchor="end" fill="#262626" >-0.05</text>
<line x1="48.95" y1="680.00" x2="325.00" y2="680.00" stroke="#262626" stroke-width="1.4"/>
<line x1="48.95" y1="680.00" x2="48.95" y2="677.40" stroke="#262626" stroke-width="1"/>
<text x="48.95" y="695.00" font-size="10" text-anchor="middle" fill="#262626" >-200</text>
<line x1="88.31" y1="680.00" x2="88.31" y2="677.40" stroke="#262626" stroke-width="1"/>
<text x="88.31" y="695.00" font-size="10" text-anchor="middle" fill="#262626" >0</text>
<line x1="127.68" y1="680.00" x2="127.68" y2="677.40" stroke="#262626" stroke-width="1"/>
<text x="127.68" y="695.00" font-size="10" text-anchor="middle" fill="#262626" >200</text>
<line x1="167.04" y1="680.00" x2="167.04" y2="677.40" stroke="#262626" stroke-width="1"/>
<text x="167.04" y="695.00" font-size="10" text-anchor="middle" fill="#262626" >400</text>
<line x1="206.41" y1="680.00" x2="206.41" y2="677.40" stroke="#262626" stroke-width="1"/>
<text x="206.41" y="695.00" font-size="10" text-anchor="middle" fill="#262626" >600</text>
<line x1="245.77" y1="680.00" x2="245.77" y2="677.40" stroke="#262626" stroke-width="1"/>
<text x="245.77" y="695.00" font-size="10" text-anchor="middle" fill="#262626" >800</text>
<line x1="285.14" y1="680.00" x2="285.14" y2="677.40" stroke="#262626" stroke-width="1"/>
<text x="285.14" y="695.00" font-size="10" text-anchor="middle" fill="#262626" >1000</text>
<line x1="324.50" y1="680.00" x2="324.50" y2="677.40" stroke="#262626" stroke-width="1"/>
<text x="324.50" y="695.00" font-size="10" text-anchor="middle" fill="#262626" >1200</text>
<line x1="48.95" y1="712.18" x2="48.95" y2="773.60" stroke="#262626" stroke-width="1.2"/>
<line x1="48.95" y1="712.18" x2="51.55" y2="712.18" stroke="#262626" stroke-width="1"/>
<text x="45.05" y="711.78" font-size="7.9" text-anchor="end" fill="#262626">4</text>
<text x="40.85" y="717.98" font-size="10.7" text-anchor="end" fill="#262626">10</text>
<line x1="48.95" y1="727.54" x2="51.55" y2="727.54" stroke="#262626" stroke-width="1"/>
<text x="45.05" y="727.14" font-size="7.9" text-anchor="end" fill="#262626">2</text>
<text x="40.85" y="733.34" font-size="10.7" text-anchor="end" fill="#262626">10</text>
<line x1="48.95" y1="742.90" x2="51.55" y2="742.90" stroke="#262626" stroke-width="1"/>
<text x="45.05" y="742.50" font-size="7.9" text-anchor="end" fill="#262626">0</text>
<text x="40.85" y="748.70" font-size="10.7" text-anchor="end" fill="#262626">10</text>
<line x1="48.95" y1="758.26" x2="51.55" y2="758.26" stroke="#262626" stroke-width="1"/>
<text x="45.05" y="757.86" font-size="7.9" text-anchor="end" fill="#262626">-2</text>
<text x="38.05" y="764.06" font-size="10.7" text-anchor="end" fill="#262626">10</text>
<line x1="48.95" y1="773.62" x2="51.55" y2="773.62" stroke="#262626" stroke-width="1"/>
<text x="45.05" y="773.22" font-size="7.9" text-anchor="end" fill="#262626">-4</text>
<text x="38.05" y="779.42" font-size="10.7" text-anchor="end" fill="#262626">10</text>
<line x1="48.95" y1="773.60" x2="325.00" y2="773.60" stroke="#262626" stroke-width="1.4"/>
<line x1="48.95" y1="773.60" x2="48.95" y2="771.00" stroke="#262626" stroke-width="1"/>
<text x="48.95" y="789.40" font-size="10" text-anchor="middle" fill="#262626" >-200</text>
<line x1="88.31" y1="773.60" x2="88.31" y2="771.00" stroke="#262626" stroke-width="1"/>
<text x="88.31" y="789.40" font-size="10" text-anchor="middle" fill="#262626" >0</text>
<line x1="127.68" y1="773.60" x2="127.68" y2="771.00" stroke="#262626" stroke-width="1"/>
<text x="127.68" y="789.40" font-size="10" text-anchor="middle" fill="#262626" >200</text>
<line x1="167.04" y1="773.60" x2="167.04" y2="771.00" stroke="#262626" stroke-width="1"/>
<text x="167.04" y="789.40" font-size="10" text-anchor="middle" fill="#262626" >400</text>
<line x1="206.41" y1="773.60" x2="206.41" y2="771.00" stroke="#262626" stroke-width="1"/>
<text x="206.41" y="789.40" font-size="10" text-anchor="middle" fill="#262626" >600</text>
<line x1="245.77" y1="773.60" x2="245.77" y2="771.00" stroke="#262626" stroke-width="1"/>
<text x="245.77" y="789.40" font-size="10" text-anchor="middle" fill="#262626" >800</text>
<line x1="285.14" y1="773.60" x2="285.14" y2="771.00" stroke="#262626" stroke-width="1"/>
<text x="285.14" y="789.40" font-size="10" text-anchor="middle" fill="#262626" >1000</text>
<line x1="324.50" y1="773.60" x2="324.50" y2="771.00" stroke="#262626" stroke-width="1"/>
<text x="324.50" y="789.40" font-size="10" text-anchor="middle" fill="#262626" >1200</text>
<text x="186.72" y="375.40" font-size="12.5" text-anchor="middle" fill="#262626" textLength="197" lengthAdjust="spacingAndGlyphs">Time relative to stimulus onset (ms)</text>
<text x="186.72" y="804.80" font-size="12.5" text-anchor="middle" fill="#262626" textLength="197" lengthAdjust="spacingAndGlyphs">Time relative to stimulus onset (ms)</text>
<line x1="393.50" y1="28.30" x2="393.50" y2="245.60" stroke="#262626" stroke-width="1.2"/>
<line x1="393.50" y1="28.30" x2="396.10" y2="28.30" stroke="#262626" stroke-width="1"/>
<text x="388.50" y="32.50" font-size="10" text-anchor="end" fill="#262626" >0.03</text>
<line x1="393.50" y1="71.70" x2="396.10" y2="71.70" stroke="#262626" stroke-width="1"/>
<text x="388.50" y="75.90" font-size="10" text-anchor="end" fill="#262626" >0.02</text>
<line x1="393.50" y1="115.10" x2="396.10" y2="115.10" stroke="#262626" stroke-width="1"/>
<text x="388.50" y="119.30" font-size="10" text-anchor="end" fill="#262626" >0.01</text>
<line x1="393.50" y1="158.50" x2="396.10" y2="158.50" stroke="#262626" stroke-width="1"/>
<text x="388.50" y="162.70" font-size="10" text-anchor="end" fill="#262626" >0</text>
<line x1="393.50" y1="201.90" x2="396.10" y2="201.90" stroke="#262626" stroke-width="1"/>
<text x="388.50" y="206.10" font-size="10" text-anchor="end" fill="#262626" >-0.01</text>
<line x1="393.50" y1="245.30" x2="396.10" y2="245.30" stroke="#262626" stroke-width="1"/>
<text x="388.50" y="249.50" font-size="10" text-anchor="end" fill="#262626" >-0.02</text>
<line x1="393.50" y1="245.60" x2="669.70" y2="245.60" stroke="#262626" stroke-width="1.4"/>
<line x1="393.50" y1="245.60" x2="393.50" y2="243.00" stroke="#262626" stroke-width="1"/>
<text x="393.50" y="260.40" font-size="10" text-anchor="middle" fill="#262626" >-200</text>
<line x1="432.89" y1="245.60" x2="432.89" y2="243.00" stroke="#262626" stroke-width="1"/>
<text x="432.89" y="260.40" font-size="10" text-anchor="middle" fill="#262626" >0</text>
<line x1="472.27" y1="245.60" x2="472.27" y2="243.00" stroke="#262626" stroke-width="1"/>
<text x="472.27" y="260.40" font-size="10" text-anchor="middle" fill="#262626" >200</text>
<line x1="511.66" y1="245.60" x2="511.66" y2="243.00" stroke="#262626" stroke-width="1"/>
<text x="511.66" y="260.40" font-size="10" text-anchor="middle" fill="#262626" >400</text>
<line x1="551.04" y1="245.60" x2="551.04" y2="243.00" stroke="#262626" stroke-width="1"/>
<text x="551.04" y="260.40" font-size="10" text-anchor="middle" fill="#262626" >600</text>
<line x1="590.43" y1="245.60" x2="590.43" y2="243.00" stroke="#262626" stroke-width="1"/>
<text x="590.43" y="260.40" font-size="10" text-anchor="middle" fill="#262626" >800</text>
<line x1="629.81" y1="245.60" x2="629.81" y2="243.00" stroke="#262626" stroke-width="1"/>
<text x="629.81" y="260.40" font-size="10" text-anchor="middle" fill="#262626" >1000</text>
<line x1="669.20" y1="245.60" x2="669.20" y2="243.00" stroke="#262626" stroke-width="1"/>
<text x="669.20" y="260.40" font-size="10" text-anchor="middle" fill="#262626" >1200</text>
<line x1="393.50" y1="283.10" x2="393.50" y2="344.00" stroke="#262626" stroke-width="1.2"/>
<line x1="393.50" y1="283.10" x2="396.10" y2="283.10" stroke="#262626" stroke-width="1"/>
<text x="389.60" y="282.70" font-size="7.9" text-anchor="end" fill="#262626">2</text>
<text x="385.40" y="288.90" font-size="10.7" text-anchor="end" fill="#262626">10</text>
<line x1="393.50" y1="303.40" x2="396.10" y2="303.40" stroke="#262626" stroke-width="1"/>
<text x="389.60" y="303.00" font-size="7.9" text-anchor="end" fill="#262626">0</text>
<text x="385.40" y="309.20" font-size="10.7" text-anchor="end" fill="#262626">10</text>
<line x1="393.50" y1="323.70" x2="396.10" y2="323.70" stroke="#262626" stroke-width="1"/>
<text x="389.60" y="323.30" font-size="7.9" text-anchor="end" fill="#262626">-2</text>
<text x="382.60" y="329.50" font-size="10.7" text-anchor="end" fill="#262626">10</text>
<line x1="393.50" y1="344.00" x2="396.10" y2="344.00" stroke="#262626" stroke-width="1"/>
<text x="389.60" y="343.60" font-size="7.9" text-anchor="end" fill="#262626">-4</text>
<text x="382.60" y="349.80" font-size="10.7" text-anchor="end" fill="#262626">10</text>
<line x1="393.50" y1="344.00" x2="669.70" y2="344.00" stroke="#262626" stroke-width="1.4"/>
<line x1="393.50" y1="344.00" x2="393.50" y2="341.40" stroke="#262626" stroke-width="1"/>
<text x="393.50" y="359.00" font-size="10" text-anchor="middle" fill="#262626" >-200</text>
<line x1="432.89" y1="344.00" x2="432.89" y2="341.40" stroke="#262626" stroke-width="1"/>
<text x="432.89" y="359.00" font-size="10" text-anchor="middle" fill="#262626" >0</text>
<line x1="472.27" y1="344.00" x2="472.27" y2="341.40" stroke="#262626" stroke-width="1"/>
<text x="472.27" y="359.00" font-size="10" text-anchor="middle" fill="#262626" >200</text>
<line x1="511.66" y1="344.00" x2="511.66" y2="341.40" stroke="#262626" stroke-width="1"/>
<text x="511.66" y="359.00" font-size="10" text-anchor="middle" fill="#262626" >400</text>
<line x1="551.04" y1="344.00" x2="551.04" y2="341.40" stroke="#262626" stroke-width="1"/>
<text x="551.04" y="359.00" font-size="10" text-anchor="middle" fill="#262626" >600</text>
<line x1="590.43" y1="344.00" x2="590.43" y2="341.40" stroke="#262626" stroke-width="1"/>
<text x="590.43" y="359.00" font-size="10" text-anchor="middle" fill="#262626" >800</text>
<line x1="629.81" y1="344.00" x2="629.81" y2="341.40" stroke="#262626" stroke-width="1"/>
<text x="629.81" y="359.00" font-size="10" text-anchor="middle" fill="#262626" >1000</text>
<line x1="669.20" y1="344.00" x2="669.20" y2="341.40" stroke="#262626" stroke-width="1"/>
<text x="669.20" y="359.00" font-size="10" text-anchor="middle" fill="#262626" >1200</text>
<line x1="393.50" y1="462.40" x2="393.50" y2="680.00" stroke="#262626" stroke-width="1.2"/>
<line x1="393.50" y1="462.40" x2="396.10" y2="462.40" stroke="#262626" stroke-width="1"/>
<text x="388.50" y="466.60" font-size="10" text-anchor="end" fill="#262626" >0.2</text>
<line x1="393.50" y1="504.45" x2="396.10" y2="504.45" stroke="#262626" stroke-width="1"/>
<text x="388.50" y="508.65" font-size="10" text-anchor="end" fill="#262626" >0.15</text>
<line x1="393.50" y1="546.50" x2="396.10" y2="546.50" stroke="#262626" stroke-width="1"/>
<text x="388.50" y="550.70" font-size="10" text-anchor="end" fill="#262626" >0.1</text>
<line x1="393.50" y1="588.55" x2="396.10" y2="588.55" stroke="#262626" stroke-width="1"/>
<text x="388.50" y="592.75" font-size="10" text-anchor="end" fill="#262626" >0.05</text>
<line x1="393.50" y1="630.60" x2="396.10" y2="630.60" stroke="#262626" stroke-width="1"/>
<text x="388.50" y="634.80" font-size="10" text-anchor="end" fill="#262626" >0</text>
<line x1="393.50" y1="672.65" x2="396.10" y2="672.65" stroke="#262626" stroke-width="1"/>
<text x="388.50" y="676.85" font-size="10" text-anchor="end" fill="#262626" >-0.05</text>
<line x1="393.50" y1="680.00" x2="669.70" y2="680.00" stroke="#262626" stroke-width="1.4"/>
<line x1="393.50" y1="680.00" x2="393.50" y2="677.40" stroke="#262626" stroke-width="1"/>
<text x="393.50" y="695.00" font-size="10" text-anchor="middle" fill="#262626" >-200</text>
<line x1="432.89" y1="680.00" x2="432.89" y2="677.40" stroke="#262626" stroke-width="1"/>
<text x="432.89" y="695.00" font-size="10" text-anchor="middle" fill="#262626" >0</text>
<line x1="472.27" y1="680.00" x2="472.27" y2="677.40" stroke="#262626" stroke-width="1"/>
<text x="472.27" y="695.00" font-size="10" text-anchor="middle" fill="#262626" >200</text>
<line x1="511.66" y1="680.00" x2="511.66" y2="677.40" stroke="#262626" stroke-width="1"/>
<text x="511.66" y="695.00" font-size="10" text-anchor="middle" fill="#262626" >400</text>
<line x1="551.04" y1="680.00" x2="551.04" y2="677.40" stroke="#262626" stroke-width="1"/>
<text x="551.04" y="695.00" font-size="10" text-anchor="middle" fill="#262626" >600</text>
<line x1="590.43" y1="680.00" x2="590.43" y2="677.40" stroke="#262626" stroke-width="1"/>
<text x="590.43" y="695.00" font-size="10" text-anchor="middle" fill="#262626" >800</text>
<line x1="629.81" y1="680.00" x2="629.81" y2="677.40" stroke="#262626" stroke-width="1"/>
<text x="629.81" y="695.00" font-size="10" text-anchor="middle" fill="#262626" >1000</text>
<line x1="669.20" y1="680.00" x2="669.20" y2="677.40" stroke="#262626" stroke-width="1"/>
<text x="669.20" y="695.00" font-size="10" text-anchor="middle" fill="#262626" >1200</text>
<line x1="393.50" y1="712.18" x2="393.50" y2="773.60" stroke="#262626" stroke-width="1.2"/>
<line x1="393.50" y1="712.18" x2="396.10" y2="712.18" stroke="#262626" stroke-width="1"/>
<text x="389.60" y="711.78" font-size="7.9" text-anchor="end" fill="#262626">4</text>
<text x="385.40" y="717.98" font-size="10.7" text-anchor="end" fill="#262626">10</text>
<line x1="393.50" y1="727.54" x2="396.10" y2="727.54" stroke="#262626" stroke-width="1"/>
<text x="389.60" y="727.14" font-size="7.9" text-anchor="end" fill="#262626">2</text>
<text x="385.40" y="733.34" font-size="10.7" text-anchor="end" fill="#262626">10</text>
<line x1="393.50" y1="742.90" x2="396.10" y2="742.90" stroke="#262626" stroke-width="1"/>
<text x="389.60" y="742.50" font-size="7.9" text-anchor="end" fill="#262626">0</text>
<text x="385.40" y="748.70" font-size="10.7" text-anchor="end" fill="#262626">10</text>
<line x1="393.50" y1="758.26" x2="396.10" y2="758.26" stroke="#262626" stroke-width="1"/>
<text x="389.60" y="757.86" font-size="7.9" text-anchor="end" fill="#262626">-2</text>
<text x="382.60" y="764.06" font-size="10.7" text-anchor="end" fill="#262626">10</text>
<line x1="393.50" y1="773.62" x2="396.10" y2="773.62" stroke="#262626" stroke-width="1"/>
<text x="389.60" y="773.22" font-size="7.9" text-anchor="end" fill="#262626">-4</text>
<text x="382.60" y="779.42" font-size="10.7" text-anchor="end" fill="#262626">10</text>
<line x1="393.50" y1="773.60" x2="669.70" y2="773.60" stroke="#262626" stroke-width="1.4"/>
<line x1="393.50" y1="773.60" x2="393.50" y2="771.00" stroke="#262626" stroke-width="1"/>
<text x="393.50" y="789.40" font-size="10" text-anchor="middle" fill="#262626" >-200</text>
<line x1="432.89" y1="773.60" x2="432.89" y2="771.00" stroke="#262626" stroke-width="1"/>
<text x="432.89" y="789.40" font-size="10" text-anchor="middle" fill="#262626" >0</text>
<line x1="472.27" y1="773.60" x2="472.27" y2="771.00" stroke="#262626" stroke-width="1"/>
<text x="472.27" y="789.40" font-size="10" text-anchor="middle" fill="#262626" >200</text>
<line x1="511.66" y1="773.60" x2="511.66" y2="771.00" stroke="#262626" stroke-width="1"/>
<text x="511.66" y="789.40" font-size="10" text-anchor="middle" fill="#262626" >400</text>
<line x1="551.04" y1="773.60" x2="551.04" y2="771.00" stroke="#262626" stroke-width="1"/>
<text x="551.04" y="789.40" font-size="10" text-anchor="middle" fill="#262626" >600</text>
<line x1="590.43" y1="773.60" x2="590.43" y2="771.00" stroke="#262626" stroke-width="1"/>
<text x="590.43" y="789.40" font-size="10" text-anchor="middle" fill="#262626" >800</text>
<line x1="629.81" y1="773.60" x2="629.81" y2="771.00" stroke="#262626" stroke-width="1"/>
<text x="629.81" y="789.40" font-size="10" text-anchor="middle" fill="#262626" >1000</text>
<line x1="669.20" y1="773.60" x2="669.20" y2="771.00" stroke="#262626" stroke-width="1"/>
<text x="669.20" y="789.40" font-size="10" text-anchor="middle" fill="#262626" >1200</text>
<text x="531.35" y="375.40" font-size="12.5" text-anchor="middle" fill="#262626" textLength="197" lengthAdjust="spacingAndGlyphs">Time relative to stimulus onset (ms)</text>
<text x="531.35" y="804.80" font-size="12.5" text-anchor="middle" fill="#262626" textLength="197" lengthAdjust="spacingAndGlyphs">Time relative to stimulus onset (ms)</text>
<text x="186.85" y="24.90" font-size="12" text-anchor="middle" fill="#262626" textLength="125.7" lengthAdjust="spacingAndGlyphs">Navigational affordance</text>
<text x="531.00" y="24.90" font-size="12" text-anchor="middle" fill="#262626" textLength="214.4" lengthAdjust="spacingAndGlyphs">Navigational affordance partial with GIST</text>
<text x="186.95" y="459.90" font-size="12" text-anchor="middle" fill="#262626" textLength="110.9" lengthAdjust="spacingAndGlyphs">Left hemisphere OPA</text>
<text x="531.50" y="459.90" font-size="12" text-anchor="middle" fill="#262626" textLength="118" lengthAdjust="spacingAndGlyphs">Right hemisphere OPA</text>
<text x="2.4" y="14.5" font-size="18" fill="#111" textLength="17" lengthAdjust="spacingAndGlyphs">A)</text>
<text x="341.8" y="14.4" font-size="18" fill="#111" textLength="16.3" lengthAdjust="spacingAndGlyphs">B)</text>
<text x="2.0" y="451.8" font-size="18" fill="#111" textLength="18.6" lengthAdjust="spacingAndGlyphs">C)</text>
<text x="341" y="451.7" font-size="18" fill="#111" textLength="17.6" lengthAdjust="spacingAndGlyphs">D)</text>
<text x="0" y="0" font-size="12" text-anchor="middle" fill="#262626" transform="translate(16.1,136.8) rotate(-90)" textLength="136" lengthAdjust="spacingAndGlyphs">MEG RDM Correlation (z)</text>
<text x="0" y="0" font-size="11.5" text-anchor="middle" fill="#262626" transform="translate(19.8,313.2) rotate(-90)" textLength="69.6" lengthAdjust="spacingAndGlyphs">BF (log scale)</text>
<text x="0" y="0" font-size="12" text-anchor="middle" fill="#262626" transform="translate(16.1,571.0) rotate(-90)" textLength="118.5" lengthAdjust="spacingAndGlyphs">Fusion Correlation (z)</text>
<text x="0" y="0" font-size="11.5" text-anchor="middle" fill="#262626" transform="translate(19.8,743) rotate(-90)" textLength="72" lengthAdjust="spacingAndGlyphs">BF (log scale)</text>
</svg></body></html>
